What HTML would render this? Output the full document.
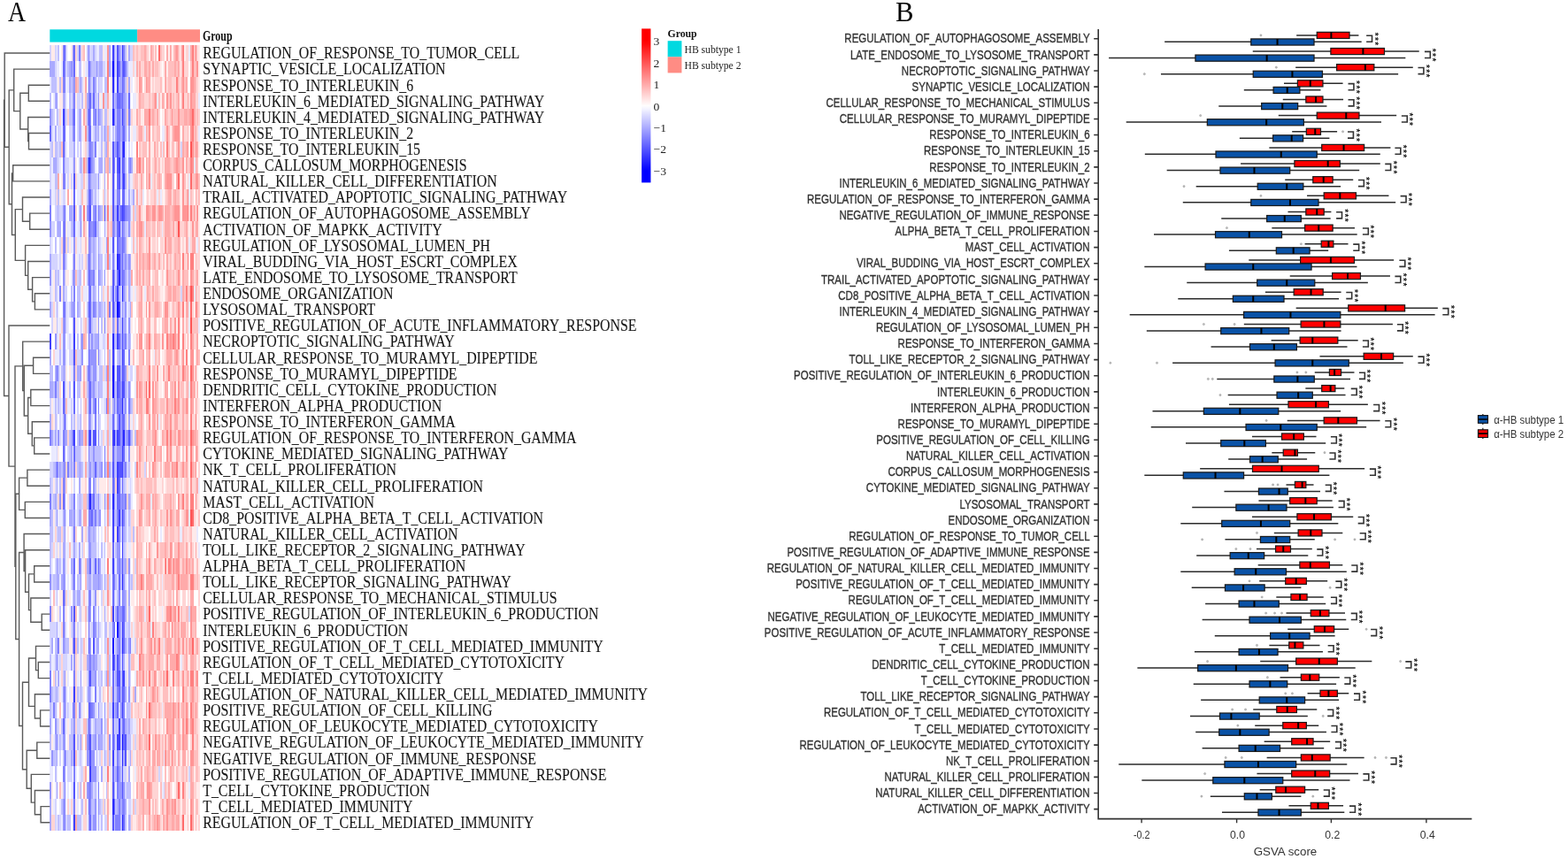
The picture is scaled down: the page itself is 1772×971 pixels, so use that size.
<!DOCTYPE html>
<html><head><meta charset="utf-8"><title>GSVA heatmap and boxplot</title>
<style>html,body{margin:0;padding:0;background:#fff;width:1772px;height:971px;overflow:hidden}svg{display:block}</style>
</head><body>
<svg width="1772" height="971" viewBox="0 0 1772 971">
<defs><linearGradient id="cb" x1="0" y1="0" x2="0" y2="1">
<stop offset="0.000" stop-color="#ff0000"/>
<stop offset="0.025" stop-color="#ff0000"/>
<stop offset="0.050" stop-color="#ff0000"/>
<stop offset="0.075" stop-color="#ff0000"/>
<stop offset="0.100" stop-color="#ff0a0a"/>
<stop offset="0.125" stop-color="#ff1a1a"/>
<stop offset="0.150" stop-color="#ff2929"/>
<stop offset="0.175" stop-color="#ff3838"/>
<stop offset="0.200" stop-color="#ff4747"/>
<stop offset="0.225" stop-color="#ff5656"/>
<stop offset="0.250" stop-color="#ff6666"/>
<stop offset="0.275" stop-color="#ff7575"/>
<stop offset="0.300" stop-color="#ff8484"/>
<stop offset="0.325" stop-color="#ff9393"/>
<stop offset="0.350" stop-color="#ffa2a2"/>
<stop offset="0.375" stop-color="#ffb1b1"/>
<stop offset="0.400" stop-color="#ffc1c1"/>
<stop offset="0.425" stop-color="#ffd0d0"/>
<stop offset="0.450" stop-color="#ffdfdf"/>
<stop offset="0.475" stop-color="#ffeeee"/>
<stop offset="0.500" stop-color="#fffdfd"/>
<stop offset="0.525" stop-color="#f2f2ff"/>
<stop offset="0.550" stop-color="#e2e2ff"/>
<stop offset="0.575" stop-color="#d3d3ff"/>
<stop offset="0.600" stop-color="#c4c4ff"/>
<stop offset="0.625" stop-color="#b5b5ff"/>
<stop offset="0.650" stop-color="#a6a6ff"/>
<stop offset="0.675" stop-color="#9797ff"/>
<stop offset="0.700" stop-color="#8787ff"/>
<stop offset="0.725" stop-color="#7878ff"/>
<stop offset="0.750" stop-color="#6969ff"/>
<stop offset="0.775" stop-color="#5a5aff"/>
<stop offset="0.800" stop-color="#4b4bff"/>
<stop offset="0.825" stop-color="#3b3bff"/>
<stop offset="0.850" stop-color="#2c2cff"/>
<stop offset="0.875" stop-color="#1d1dff"/>
<stop offset="0.900" stop-color="#0e0eff"/>
<stop offset="0.925" stop-color="#0000ff"/>
<stop offset="0.950" stop-color="#0000ff"/>
<stop offset="0.975" stop-color="#0000ff"/>
<stop offset="1.000" stop-color="#0000ff"/>
</linearGradient></defs>
<rect width="1772" height="971" fill="#fff"/>
<text transform="translate(9,23.7) scale(0.87,1)" font-family="'Liberation Serif','Times New Roman',serif" font-size="32" fill="#000">A</text>
<text transform="translate(1012,23.9) scale(0.96,1)" font-family="'Liberation Serif','Times New Roman',serif" font-size="32" fill="#000">B</text>
<rect x="56.3" y="33.3" width="98.8" height="14.3" fill="#00d9e0"/>
<rect x="155.1" y="33.3" width="70.9" height="14.3" fill="#ff8c84"/>
<text x="229" y="45.6" font-family="'Liberation Serif','Times New Roman',serif" font-size="16.6" font-weight="bold" textLength="33.5" lengthAdjust="spacingAndGlyphs" fill="#111">Group</text>
<g shape-rendering="crispEdges">
<path fill="#0000ff" d="M126.71 69.02h1.86v18.17h-1.86zM132.12 340.83h1.86v18.17h-1.86zM126.71 413.31h1.86v18.17h-1.86z"/>
<path fill="#1515ff" d="M99.63 177.74h1.86v18.17h-1.86zM126.71 431.43h1.86v18.17h-1.86zM132.12 703.23h1.86v18.17h-1.86zM126.71 721.36h1.86v18.17h-1.86zM137.54 830.08h1.86v18.17h-1.86z"/>
<path fill="#2a2aff" d="M126.71 87.14h1.86v18.17h-1.86zM126.71 123.38h1.86v18.17h-1.86zM139.34 159.62h1.86v18.17h-1.86zM132.12 286.47h1.86v18.17h-1.86zM133.93 304.59h1.86v18.17h-1.86zM137.54 322.71h1.86v18.17h-1.86zM126.71 377.07h1.86v18.17h-1.86zM137.54 449.55h1.86v18.17h-1.86zM128.51 485.79h1.86v18.17h-1.86zM139.34 485.79h1.86v18.17h-1.86zM101.43 558.27h1.86v18.17h-1.86zM126.71 558.27h1.86v18.17h-1.86zM137.54 648.87h1.86v18.17h-1.86zM137.54 721.36h1.86v18.17h-1.86zM137.54 848.2h1.86v18.17h-1.86zM126.71 902.56h1.86v18.17h-1.86zM137.54 920.68h1.86v18.17h-1.86z"/>
<path fill="#4040ff" d="M126.71 50.9h1.86v18.17h-1.86zM137.54 50.9h1.86v18.17h-1.86zM132.12 69.02h1.86v18.17h-1.86zM132.12 87.14h1.86v18.17h-1.86zM70.74 123.38h1.86v18.17h-1.86zM99.63 123.38h1.86v18.17h-1.86zM137.54 123.38h1.86v18.17h-1.86zM133.93 177.74h1.86v18.17h-1.86zM139.34 195.86h1.86v18.17h-1.86zM132.12 232.1h1.86v18.17h-1.86zM137.54 232.1h1.86v18.17h-1.86zM133.93 286.47h1.86v18.17h-1.86zM132.12 322.71h1.86v18.17h-1.86zM133.93 340.83h1.86v18.17h-1.86zM137.54 358.95h1.86v18.17h-1.86zM56.3 377.07h1.86v18.17h-1.86zM83.38 377.07h1.86v18.17h-1.86zM132.12 377.07h1.86v18.17h-1.86zM126.71 395.19h1.86v18.17h-1.86zM137.54 395.19h1.86v18.17h-1.86zM137.54 431.43h1.86v18.17h-1.86zM72.55 467.67h1.86v18.17h-1.86zM83.38 485.79h1.86v18.17h-1.86zM101.43 485.79h1.86v18.17h-1.86zM126.71 485.79h1.86v18.17h-1.86zM132.12 485.79h1.86v18.17h-1.86zM137.54 503.91h1.86v18.17h-1.86zM132.12 522.03h1.86v18.17h-1.86zM137.54 522.03h1.86v18.17h-1.86zM132.12 540.15h1.86v18.17h-1.86zM126.71 576.39h1.86v18.17h-1.86zM133.93 576.39h1.86v18.17h-1.86zM137.54 576.39h1.86v18.17h-1.86zM126.71 594.51h1.86v18.17h-1.86zM132.12 594.51h1.86v18.17h-1.86zM137.54 612.63h1.86v18.17h-1.86zM126.71 630.75h1.86v18.17h-1.86zM126.71 685.11h1.86v18.17h-1.86zM137.54 703.23h1.86v18.17h-1.86zM126.71 739.48h1.86v18.17h-1.86zM139.34 757.6h1.86v18.17h-1.86zM83.38 775.72h1.86v18.17h-1.86zM126.71 793.84h1.86v18.17h-1.86zM137.54 793.84h1.86v18.17h-1.86zM133.93 811.96h1.86v18.17h-1.86zM132.12 830.08h1.86v18.17h-1.86zM133.93 830.08h1.86v18.17h-1.86zM126.71 848.2h1.86v18.17h-1.86zM101.43 866.32h1.86v18.17h-1.86zM83.38 920.68h1.86v18.17h-1.86z"/>
<path fill="#5555ff" d="M72.55 50.9h1.86v18.17h-1.86zM132.12 50.9h1.86v18.17h-1.86zM99.63 69.02h1.86v18.17h-1.86zM139.34 69.02h1.86v18.17h-1.86zM126.71 159.62h1.86v18.17h-1.86zM132.12 159.62h1.86v18.17h-1.86zM137.54 159.62h1.86v18.17h-1.86zM101.43 177.74h1.86v18.17h-1.86zM126.71 177.74h1.86v18.17h-1.86zM132.12 177.74h1.86v18.17h-1.86zM137.54 177.74h1.86v18.17h-1.86zM83.38 195.86h1.86v18.17h-1.86zM126.71 195.86h1.86v18.17h-1.86zM133.93 195.86h1.86v18.17h-1.86zM126.71 213.98h1.86v18.17h-1.86zM83.38 232.1h1.86v18.17h-1.86zM101.43 232.1h1.86v18.17h-1.86zM117.68 232.1h1.86v18.17h-1.86zM126.71 232.1h1.86v18.17h-1.86zM139.34 232.1h1.86v18.17h-1.86zM133.93 250.22h1.86v18.17h-1.86zM126.71 268.34h1.86v18.17h-1.86zM99.63 286.47h1.86v18.17h-1.86zM99.63 304.59h1.86v18.17h-1.86zM126.71 304.59h1.86v18.17h-1.86zM126.71 322.71h1.86v18.17h-1.86zM99.63 340.83h1.86v18.17h-1.86zM126.71 340.83h1.86v18.17h-1.86zM83.38 358.95h1.86v18.17h-1.86zM137.54 377.07h1.86v18.17h-1.86zM83.38 395.19h1.86v18.17h-1.86zM99.63 413.31h1.86v18.17h-1.86zM132.12 413.31h1.86v18.17h-1.86zM133.93 413.31h1.86v18.17h-1.86zM137.54 413.31h1.86v18.17h-1.86zM70.74 431.43h1.86v18.17h-1.86zM83.38 431.43h1.86v18.17h-1.86zM132.12 431.43h1.86v18.17h-1.86zM139.34 431.43h1.86v18.17h-1.86zM133.93 467.67h1.86v18.17h-1.86zM99.63 485.79h1.86v18.17h-1.86zM105.04 485.79h1.86v18.17h-1.86zM106.85 485.79h1.86v18.17h-1.86zM133.93 485.79h1.86v18.17h-1.86zM144.76 485.79h1.86v18.17h-1.86zM63.52 522.03h1.86v18.17h-1.86zM126.71 522.03h1.86v18.17h-1.86zM133.93 522.03h1.86v18.17h-1.86zM135.73 522.03h1.86v18.17h-1.86zM137.54 594.51h1.86v18.17h-1.86zM137.54 630.75h1.86v18.17h-1.86zM83.38 685.11h1.86v18.17h-1.86zM83.38 721.36h1.86v18.17h-1.86zM99.63 721.36h1.86v18.17h-1.86zM105.04 721.36h1.86v18.17h-1.86zM132.12 739.48h1.86v18.17h-1.86zM137.54 739.48h1.86v18.17h-1.86zM101.43 757.6h1.86v18.17h-1.86zM132.12 757.6h1.86v18.17h-1.86zM133.93 757.6h1.86v18.17h-1.86zM137.54 757.6h1.86v18.17h-1.86zM137.54 775.72h1.86v18.17h-1.86zM99.63 793.84h1.86v18.17h-1.86zM99.63 811.96h1.86v18.17h-1.86zM83.38 830.08h1.86v18.17h-1.86zM101.43 830.08h1.86v18.17h-1.86zM141.15 830.08h1.86v18.17h-1.86zM72.55 848.2h1.86v18.17h-1.86zM83.38 848.2h1.86v18.17h-1.86zM101.43 848.2h1.86v18.17h-1.86zM141.15 848.2h1.86v18.17h-1.86zM137.54 866.32h1.86v18.17h-1.86zM83.38 884.44h1.86v18.17h-1.86zM126.71 884.44h1.86v18.17h-1.86zM137.54 884.44h1.86v18.17h-1.86zM126.71 920.68h1.86v18.17h-1.86z"/>
<path fill="#6a6aff" d="M83.38 50.9h1.86v18.17h-1.86zM70.74 69.02h1.86v18.17h-1.86zM83.38 69.02h1.86v18.17h-1.86zM133.93 69.02h1.86v18.17h-1.86zM137.54 69.02h1.86v18.17h-1.86zM99.63 87.14h1.86v18.17h-1.86zM137.54 87.14h1.86v18.17h-1.86zM101.43 105.26h1.86v18.17h-1.86zM105.04 105.26h1.86v18.17h-1.86zM126.71 105.26h1.86v18.17h-1.86zM132.12 105.26h1.86v18.17h-1.86zM133.93 105.26h1.86v18.17h-1.86zM137.54 105.26h1.86v18.17h-1.86zM144.76 105.26h1.86v18.17h-1.86zM83.38 123.38h1.86v18.17h-1.86zM56.3 141.5h1.86v18.17h-1.86zM70.74 141.5h1.86v18.17h-1.86zM72.55 141.5h1.86v18.17h-1.86zM99.63 141.5h1.86v18.17h-1.86zM101.43 141.5h1.86v18.17h-1.86zM139.34 141.5h1.86v18.17h-1.86zM70.74 159.62h1.86v18.17h-1.86zM139.34 177.74h1.86v18.17h-1.86zM99.63 195.86h1.86v18.17h-1.86zM132.12 195.86h1.86v18.17h-1.86zM137.54 195.86h1.86v18.17h-1.86zM83.38 213.98h1.86v18.17h-1.86zM99.63 213.98h1.86v18.17h-1.86zM101.43 213.98h1.86v18.17h-1.86zM137.54 213.98h1.86v18.17h-1.86zM139.34 213.98h1.86v18.17h-1.86zM72.55 232.1h1.86v18.17h-1.86zM99.63 232.1h1.86v18.17h-1.86zM135.73 232.1h1.86v18.17h-1.86zM72.55 250.22h1.86v18.17h-1.86zM83.38 250.22h1.86v18.17h-1.86zM99.63 250.22h1.86v18.17h-1.86zM106.85 250.22h1.86v18.17h-1.86zM132.12 250.22h1.86v18.17h-1.86zM137.54 250.22h1.86v18.17h-1.86zM72.55 268.34h1.86v18.17h-1.86zM132.12 268.34h1.86v18.17h-1.86zM137.54 268.34h1.86v18.17h-1.86zM137.54 286.47h1.86v18.17h-1.86zM132.12 304.59h1.86v18.17h-1.86zM137.54 304.59h1.86v18.17h-1.86zM101.43 322.71h1.86v18.17h-1.86zM72.55 340.83h1.86v18.17h-1.86zM101.43 340.83h1.86v18.17h-1.86zM101.43 358.95h1.86v18.17h-1.86zM132.12 358.95h1.86v18.17h-1.86zM99.63 377.07h1.86v18.17h-1.86zM133.93 377.07h1.86v18.17h-1.86zM99.63 395.19h1.86v18.17h-1.86zM139.34 395.19h1.86v18.17h-1.86zM63.52 413.31h1.86v18.17h-1.86zM139.34 413.31h1.86v18.17h-1.86zM101.43 431.43h1.86v18.17h-1.86zM133.93 431.43h1.86v18.17h-1.86zM70.74 449.55h1.86v18.17h-1.86zM83.38 449.55h1.86v18.17h-1.86zM101.43 449.55h1.86v18.17h-1.86zM106.85 449.55h1.86v18.17h-1.86zM132.12 449.55h1.86v18.17h-1.86zM126.71 467.67h1.86v18.17h-1.86zM137.54 467.67h1.86v18.17h-1.86zM139.34 467.67h1.86v18.17h-1.86zM81.57 485.79h1.86v18.17h-1.86zM137.54 485.79h1.86v18.17h-1.86zM70.74 503.91h1.86v18.17h-1.86zM83.38 503.91h1.86v18.17h-1.86zM126.71 503.91h1.86v18.17h-1.86zM139.34 503.91h1.86v18.17h-1.86zM106.85 522.03h1.86v18.17h-1.86zM126.71 540.15h1.86v18.17h-1.86zM133.93 540.15h1.86v18.17h-1.86zM137.54 540.15h1.86v18.17h-1.86zM70.74 558.27h1.86v18.17h-1.86zM99.63 558.27h1.86v18.17h-1.86zM105.04 558.27h1.86v18.17h-1.86zM132.12 558.27h1.86v18.17h-1.86zM133.93 558.27h1.86v18.17h-1.86zM103.24 576.39h1.86v18.17h-1.86zM126.71 612.63h1.86v18.17h-1.86zM83.38 630.75h1.86v18.17h-1.86zM101.43 630.75h1.86v18.17h-1.86zM106.85 630.75h1.86v18.17h-1.86zM110.46 630.75h1.86v18.17h-1.86zM126.71 648.87h1.86v18.17h-1.86zM133.93 648.87h1.86v18.17h-1.86zM70.74 666.99h1.86v18.17h-1.86zM126.71 666.99h1.86v18.17h-1.86zM99.63 685.11h1.86v18.17h-1.86zM132.12 685.11h1.86v18.17h-1.86zM137.54 685.11h1.86v18.17h-1.86zM139.34 685.11h1.86v18.17h-1.86zM99.63 703.23h1.86v18.17h-1.86zM128.51 703.23h1.86v18.17h-1.86zM139.34 703.23h1.86v18.17h-1.86zM139.34 721.36h1.86v18.17h-1.86zM128.51 739.48h1.86v18.17h-1.86zM126.71 757.6h1.86v18.17h-1.86zM72.55 775.72h1.86v18.17h-1.86zM126.71 775.72h1.86v18.17h-1.86zM133.93 775.72h1.86v18.17h-1.86zM139.34 775.72h1.86v18.17h-1.86zM72.55 793.84h1.86v18.17h-1.86zM101.43 793.84h1.86v18.17h-1.86zM132.12 793.84h1.86v18.17h-1.86zM70.74 811.96h1.86v18.17h-1.86zM126.71 811.96h1.86v18.17h-1.86zM139.34 811.96h1.86v18.17h-1.86zM99.63 830.08h1.86v18.17h-1.86zM126.71 830.08h1.86v18.17h-1.86zM139.34 830.08h1.86v18.17h-1.86zM126.71 866.32h1.86v18.17h-1.86zM132.12 866.32h1.86v18.17h-1.86zM99.63 902.56h1.86v18.17h-1.86zM128.51 902.56h1.86v18.17h-1.86zM101.43 920.68h1.86v18.17h-1.86zM139.34 920.68h1.86v18.17h-1.86z"/>
<path fill="#8080ff" d="M70.74 50.9h1.86v18.17h-1.86zM88.8 50.9h1.86v18.17h-1.86zM99.63 50.9h1.86v18.17h-1.86zM139.34 50.9h1.86v18.17h-1.86zM72.55 69.02h1.86v18.17h-1.86zM141.15 69.02h1.86v18.17h-1.86zM70.74 87.14h1.86v18.17h-1.86zM72.55 87.14h1.86v18.17h-1.86zM105.04 87.14h1.86v18.17h-1.86zM139.34 87.14h1.86v18.17h-1.86zM83.38 105.26h1.86v18.17h-1.86zM99.63 105.26h1.86v18.17h-1.86zM135.73 105.26h1.86v18.17h-1.86zM81.57 123.38h1.86v18.17h-1.86zM101.43 123.38h1.86v18.17h-1.86zM106.85 123.38h1.86v18.17h-1.86zM110.46 123.38h1.86v18.17h-1.86zM128.51 123.38h1.86v18.17h-1.86zM132.12 123.38h1.86v18.17h-1.86zM133.93 123.38h1.86v18.17h-1.86zM139.34 123.38h1.86v18.17h-1.86zM144.76 123.38h1.86v18.17h-1.86zM83.38 141.5h1.86v18.17h-1.86zM132.12 141.5h1.86v18.17h-1.86zM133.93 141.5h1.86v18.17h-1.86zM137.54 141.5h1.86v18.17h-1.86zM101.43 159.62h1.86v18.17h-1.86zM106.85 159.62h1.86v18.17h-1.86zM133.93 159.62h1.86v18.17h-1.86zM70.74 177.74h1.86v18.17h-1.86zM128.51 177.74h1.86v18.17h-1.86zM146.57 177.74h1.86v18.17h-1.86zM70.74 195.86h1.86v18.17h-1.86zM72.55 195.86h1.86v18.17h-1.86zM132.12 213.98h1.86v18.17h-1.86zM133.93 213.98h1.86v18.17h-1.86zM56.3 232.1h1.86v18.17h-1.86zM106.85 232.1h1.86v18.17h-1.86zM110.46 232.1h1.86v18.17h-1.86zM141.15 232.1h1.86v18.17h-1.86zM70.74 250.22h1.86v18.17h-1.86zM90.6 250.22h1.86v18.17h-1.86zM101.43 250.22h1.86v18.17h-1.86zM105.04 250.22h1.86v18.17h-1.86zM126.71 250.22h1.86v18.17h-1.86zM70.74 268.34h1.86v18.17h-1.86zM99.63 268.34h1.86v18.17h-1.86zM133.93 268.34h1.86v18.17h-1.86zM139.34 268.34h1.86v18.17h-1.86zM70.74 286.47h1.86v18.17h-1.86zM83.38 286.47h1.86v18.17h-1.86zM126.71 286.47h1.86v18.17h-1.86zM101.43 304.59h1.86v18.17h-1.86zM105.04 304.59h1.86v18.17h-1.86zM110.46 304.59h1.86v18.17h-1.86zM139.34 304.59h1.86v18.17h-1.86zM67.13 322.71h1.86v18.17h-1.86zM83.38 322.71h1.86v18.17h-1.86zM99.63 322.71h1.86v18.17h-1.86zM70.74 340.83h1.86v18.17h-1.86zM105.04 340.83h1.86v18.17h-1.86zM123.1 340.83h1.86v18.17h-1.86zM72.55 358.95h1.86v18.17h-1.86zM99.63 358.95h1.86v18.17h-1.86zM117.68 358.95h1.86v18.17h-1.86zM141.15 377.07h1.86v18.17h-1.86zM110.46 395.19h1.86v18.17h-1.86zM144.76 395.19h1.86v18.17h-1.86zM83.38 413.31h1.86v18.17h-1.86zM61.72 431.43h1.86v18.17h-1.86zM99.63 431.43h1.86v18.17h-1.86zM99.63 449.55h1.86v18.17h-1.86zM110.46 449.55h1.86v18.17h-1.86zM119.49 449.55h1.86v18.17h-1.86zM128.51 449.55h1.86v18.17h-1.86zM133.93 449.55h1.86v18.17h-1.86zM135.73 449.55h1.86v18.17h-1.86zM144.76 449.55h1.86v18.17h-1.86zM99.63 467.67h1.86v18.17h-1.86zM106.85 467.67h1.86v18.17h-1.86zM56.3 485.79h1.86v18.17h-1.86zM70.74 485.79h1.86v18.17h-1.86zM110.46 485.79h1.86v18.17h-1.86zM99.63 503.91h1.86v18.17h-1.86zM117.68 503.91h1.86v18.17h-1.86zM72.55 522.03h1.86v18.17h-1.86zM76.16 522.03h1.86v18.17h-1.86zM83.38 522.03h1.86v18.17h-1.86zM117.68 522.03h1.86v18.17h-1.86zM141.15 522.03h1.86v18.17h-1.86zM70.74 540.15h1.86v18.17h-1.86zM99.63 540.15h1.86v18.17h-1.86zM101.43 540.15h1.86v18.17h-1.86zM56.3 558.27h1.86v18.17h-1.86zM83.38 558.27h1.86v18.17h-1.86zM137.54 558.27h1.86v18.17h-1.86zM141.15 558.27h1.86v18.17h-1.86zM72.55 576.39h1.86v18.17h-1.86zM99.63 576.39h1.86v18.17h-1.86zM101.43 576.39h1.86v18.17h-1.86zM106.85 576.39h1.86v18.17h-1.86zM132.12 576.39h1.86v18.17h-1.86zM139.34 576.39h1.86v18.17h-1.86zM83.38 594.51h1.86v18.17h-1.86zM99.63 594.51h1.86v18.17h-1.86zM133.93 594.51h1.86v18.17h-1.86zM88.8 630.75h1.86v18.17h-1.86zM133.93 630.75h1.86v18.17h-1.86zM83.38 648.87h1.86v18.17h-1.86zM128.51 648.87h1.86v18.17h-1.86zM99.63 666.99h1.86v18.17h-1.86zM101.43 666.99h1.86v18.17h-1.86zM133.93 666.99h1.86v18.17h-1.86zM137.54 666.99h1.86v18.17h-1.86zM56.3 685.11h1.86v18.17h-1.86zM70.74 685.11h1.86v18.17h-1.86zM105.04 685.11h1.86v18.17h-1.86zM70.74 703.23h1.86v18.17h-1.86zM83.38 703.23h1.86v18.17h-1.86zM105.04 703.23h1.86v18.17h-1.86zM126.71 703.23h1.86v18.17h-1.86zM133.93 703.23h1.86v18.17h-1.86zM65.33 721.36h1.86v18.17h-1.86zM133.93 721.36h1.86v18.17h-1.86zM146.57 721.36h1.86v18.17h-1.86zM63.52 739.48h1.86v18.17h-1.86zM101.43 739.48h1.86v18.17h-1.86zM133.93 739.48h1.86v18.17h-1.86zM56.3 757.6h1.86v18.17h-1.86zM83.38 757.6h1.86v18.17h-1.86zM99.63 757.6h1.86v18.17h-1.86zM56.3 775.72h1.86v18.17h-1.86zM99.63 775.72h1.86v18.17h-1.86zM106.85 775.72h1.86v18.17h-1.86zM132.12 775.72h1.86v18.17h-1.86zM59.91 793.84h1.86v18.17h-1.86zM81.57 793.84h1.86v18.17h-1.86zM83.38 793.84h1.86v18.17h-1.86zM103.24 793.84h1.86v18.17h-1.86zM139.34 793.84h1.86v18.17h-1.86zM137.54 811.96h1.86v18.17h-1.86zM63.52 830.08h1.86v18.17h-1.86zM132.12 848.2h1.86v18.17h-1.86zM70.74 866.32h1.86v18.17h-1.86zM83.38 866.32h1.86v18.17h-1.86zM72.55 884.44h1.86v18.17h-1.86zM99.63 884.44h1.86v18.17h-1.86zM101.43 884.44h1.86v18.17h-1.86zM110.46 884.44h1.86v18.17h-1.86zM132.12 884.44h1.86v18.17h-1.86zM72.55 902.56h1.86v18.17h-1.86zM83.38 902.56h1.86v18.17h-1.86zM101.43 902.56h1.86v18.17h-1.86zM133.93 902.56h1.86v18.17h-1.86zM137.54 902.56h1.86v18.17h-1.86zM139.34 902.56h1.86v18.17h-1.86zM72.55 920.68h1.86v18.17h-1.86zM130.32 920.68h1.86v18.17h-1.86zM132.12 920.68h1.86v18.17h-1.86zM133.93 920.68h1.86v18.17h-1.86z"/>
<path fill="#9595ff" d="M81.57 50.9h1.86v18.17h-1.86zM133.93 50.9h1.86v18.17h-1.86zM79.77 69.02h1.86v18.17h-1.86zM101.43 69.02h1.86v18.17h-1.86zM108.65 69.02h1.86v18.17h-1.86zM83.38 87.14h1.86v18.17h-1.86zM90.6 87.14h1.86v18.17h-1.86zM63.52 105.26h1.86v18.17h-1.86zM110.46 105.26h1.86v18.17h-1.86zM139.34 105.26h1.86v18.17h-1.86zM56.3 123.38h1.86v18.17h-1.86zM72.55 123.38h1.86v18.17h-1.86zM105.04 123.38h1.86v18.17h-1.86zM81.57 141.5h1.86v18.17h-1.86zM117.68 141.5h1.86v18.17h-1.86zM99.63 159.62h1.86v18.17h-1.86zM103.24 159.62h1.86v18.17h-1.86zM130.32 159.62h1.86v18.17h-1.86zM83.38 177.74h1.86v18.17h-1.86zM90.6 177.74h1.86v18.17h-1.86zM103.24 177.74h1.86v18.17h-1.86zM144.76 177.74h1.86v18.17h-1.86zM101.43 195.86h1.86v18.17h-1.86zM110.46 195.86h1.86v18.17h-1.86zM70.74 232.1h1.86v18.17h-1.86zM90.6 232.1h1.86v18.17h-1.86zM97.82 232.1h1.86v18.17h-1.86zM105.04 232.1h1.86v18.17h-1.86zM133.93 232.1h1.86v18.17h-1.86zM142.96 232.1h1.86v18.17h-1.86zM144.76 232.1h1.86v18.17h-1.86zM56.3 250.22h1.86v18.17h-1.86zM103.24 250.22h1.86v18.17h-1.86zM128.51 250.22h1.86v18.17h-1.86zM139.34 250.22h1.86v18.17h-1.86zM144.76 250.22h1.86v18.17h-1.86zM83.38 268.34h1.86v18.17h-1.86zM101.43 268.34h1.86v18.17h-1.86zM135.73 268.34h1.86v18.17h-1.86zM72.55 286.47h1.86v18.17h-1.86zM101.43 286.47h1.86v18.17h-1.86zM110.46 286.47h1.86v18.17h-1.86zM135.73 286.47h1.86v18.17h-1.86zM141.15 286.47h1.86v18.17h-1.86zM144.76 286.47h1.86v18.17h-1.86zM56.3 304.59h1.86v18.17h-1.86zM70.74 304.59h1.86v18.17h-1.86zM81.57 304.59h1.86v18.17h-1.86zM83.38 304.59h1.86v18.17h-1.86zM103.24 304.59h1.86v18.17h-1.86zM117.68 304.59h1.86v18.17h-1.86zM128.51 304.59h1.86v18.17h-1.86zM135.73 304.59h1.86v18.17h-1.86zM110.46 322.71h1.86v18.17h-1.86zM130.32 322.71h1.86v18.17h-1.86zM139.34 322.71h1.86v18.17h-1.86zM81.57 340.83h1.86v18.17h-1.86zM83.38 340.83h1.86v18.17h-1.86zM106.85 340.83h1.86v18.17h-1.86zM128.51 340.83h1.86v18.17h-1.86zM137.54 340.83h1.86v18.17h-1.86zM141.15 340.83h1.86v18.17h-1.86zM70.74 358.95h1.86v18.17h-1.86zM110.46 358.95h1.86v18.17h-1.86zM126.71 358.95h1.86v18.17h-1.86zM144.76 358.95h1.86v18.17h-1.86zM61.72 377.07h1.86v18.17h-1.86zM70.74 377.07h1.86v18.17h-1.86zM72.55 377.07h1.86v18.17h-1.86zM92.41 377.07h1.86v18.17h-1.86zM103.24 377.07h1.86v18.17h-1.86zM110.46 377.07h1.86v18.17h-1.86zM139.34 377.07h1.86v18.17h-1.86zM70.74 395.19h1.86v18.17h-1.86zM72.55 395.19h1.86v18.17h-1.86zM92.41 395.19h1.86v18.17h-1.86zM101.43 395.19h1.86v18.17h-1.86zM103.24 395.19h1.86v18.17h-1.86zM105.04 395.19h1.86v18.17h-1.86zM106.85 395.19h1.86v18.17h-1.86zM90.6 413.31h1.86v18.17h-1.86zM101.43 413.31h1.86v18.17h-1.86zM105.04 413.31h1.86v18.17h-1.86zM106.85 413.31h1.86v18.17h-1.86zM128.51 413.31h1.86v18.17h-1.86zM141.15 413.31h1.86v18.17h-1.86zM105.04 431.43h1.86v18.17h-1.86zM128.51 431.43h1.86v18.17h-1.86zM135.73 431.43h1.86v18.17h-1.86zM144.76 431.43h1.86v18.17h-1.86zM72.55 449.55h1.86v18.17h-1.86zM105.04 449.55h1.86v18.17h-1.86zM141.15 449.55h1.86v18.17h-1.86zM101.43 467.67h1.86v18.17h-1.86zM132.12 467.67h1.86v18.17h-1.86zM135.73 467.67h1.86v18.17h-1.86zM65.33 485.79h1.86v18.17h-1.86zM72.55 485.79h1.86v18.17h-1.86zM88.8 485.79h1.86v18.17h-1.86zM135.73 485.79h1.86v18.17h-1.86zM142.96 485.79h1.86v18.17h-1.86zM146.57 485.79h1.86v18.17h-1.86zM105.04 503.91h1.86v18.17h-1.86zM132.12 503.91h1.86v18.17h-1.86zM133.93 503.91h1.86v18.17h-1.86zM135.73 503.91h1.86v18.17h-1.86zM144.76 503.91h1.86v18.17h-1.86zM70.74 522.03h1.86v18.17h-1.86zM101.43 522.03h1.86v18.17h-1.86zM114.07 522.03h1.86v18.17h-1.86zM139.34 522.03h1.86v18.17h-1.86zM72.55 540.15h1.86v18.17h-1.86zM105.04 540.15h1.86v18.17h-1.86zM128.51 540.15h1.86v18.17h-1.86zM67.13 558.27h1.86v18.17h-1.86zM72.55 558.27h1.86v18.17h-1.86zM103.24 558.27h1.86v18.17h-1.86zM110.46 558.27h1.86v18.17h-1.86zM117.68 558.27h1.86v18.17h-1.86zM128.51 558.27h1.86v18.17h-1.86zM135.73 558.27h1.86v18.17h-1.86zM139.34 558.27h1.86v18.17h-1.86zM63.52 576.39h1.86v18.17h-1.86zM83.38 576.39h1.86v18.17h-1.86zM112.26 576.39h1.86v18.17h-1.86zM72.55 594.51h1.86v18.17h-1.86zM99.63 612.63h1.86v18.17h-1.86zM101.43 612.63h1.86v18.17h-1.86zM132.12 612.63h1.86v18.17h-1.86zM133.93 612.63h1.86v18.17h-1.86zM63.52 630.75h1.86v18.17h-1.86zM70.74 630.75h1.86v18.17h-1.86zM90.6 630.75h1.86v18.17h-1.86zM99.63 630.75h1.86v18.17h-1.86zM132.12 630.75h1.86v18.17h-1.86zM144.76 630.75h1.86v18.17h-1.86zM56.3 648.87h1.86v18.17h-1.86zM70.74 648.87h1.86v18.17h-1.86zM72.55 648.87h1.86v18.17h-1.86zM81.57 648.87h1.86v18.17h-1.86zM90.6 648.87h1.86v18.17h-1.86zM110.46 648.87h1.86v18.17h-1.86zM139.34 648.87h1.86v18.17h-1.86zM72.55 666.99h1.86v18.17h-1.86zM106.85 666.99h1.86v18.17h-1.86zM139.34 666.99h1.86v18.17h-1.86zM79.77 685.11h1.86v18.17h-1.86zM101.43 685.11h1.86v18.17h-1.86zM133.93 685.11h1.86v18.17h-1.86zM135.73 685.11h1.86v18.17h-1.86zM106.85 703.23h1.86v18.17h-1.86zM70.74 721.36h1.86v18.17h-1.86zM81.57 721.36h1.86v18.17h-1.86zM101.43 721.36h1.86v18.17h-1.86zM132.12 721.36h1.86v18.17h-1.86zM144.76 721.36h1.86v18.17h-1.86zM83.38 739.48h1.86v18.17h-1.86zM99.63 739.48h1.86v18.17h-1.86zM105.04 739.48h1.86v18.17h-1.86zM72.55 757.6h1.86v18.17h-1.86zM90.6 757.6h1.86v18.17h-1.86zM106.85 757.6h1.86v18.17h-1.86zM70.74 775.72h1.86v18.17h-1.86zM144.76 775.72h1.86v18.17h-1.86zM88.8 793.84h1.86v18.17h-1.86zM105.04 793.84h1.86v18.17h-1.86zM110.46 793.84h1.86v18.17h-1.86zM117.68 793.84h1.86v18.17h-1.86zM130.32 793.84h1.86v18.17h-1.86zM135.73 793.84h1.86v18.17h-1.86zM61.72 811.96h1.86v18.17h-1.86zM83.38 811.96h1.86v18.17h-1.86zM101.43 811.96h1.86v18.17h-1.86zM114.07 811.96h1.86v18.17h-1.86zM70.74 830.08h1.86v18.17h-1.86zM72.55 830.08h1.86v18.17h-1.86zM90.6 830.08h1.86v18.17h-1.86zM97.82 830.08h1.86v18.17h-1.86zM106.85 830.08h1.86v18.17h-1.86zM110.46 830.08h1.86v18.17h-1.86zM123.1 830.08h1.86v18.17h-1.86zM128.51 830.08h1.86v18.17h-1.86zM58.11 848.2h1.86v18.17h-1.86zM97.82 848.2h1.86v18.17h-1.86zM99.63 848.2h1.86v18.17h-1.86zM103.24 848.2h1.86v18.17h-1.86zM105.04 848.2h1.86v18.17h-1.86zM72.55 866.32h1.86v18.17h-1.86zM103.24 866.32h1.86v18.17h-1.86zM105.04 866.32h1.86v18.17h-1.86zM106.85 866.32h1.86v18.17h-1.86zM133.93 866.32h1.86v18.17h-1.86zM56.3 884.44h1.86v18.17h-1.86zM63.52 884.44h1.86v18.17h-1.86zM97.82 884.44h1.86v18.17h-1.86zM133.93 884.44h1.86v18.17h-1.86zM135.73 884.44h1.86v18.17h-1.86zM139.34 884.44h1.86v18.17h-1.86zM70.74 902.56h1.86v18.17h-1.86zM106.85 902.56h1.86v18.17h-1.86zM110.46 902.56h1.86v18.17h-1.86zM70.74 920.68h1.86v18.17h-1.86zM99.63 920.68h1.86v18.17h-1.86zM105.04 920.68h1.86v18.17h-1.86zM106.85 920.68h1.86v18.17h-1.86z"/>
<path fill="#aaaaff" d="M105.04 50.9h1.86v18.17h-1.86zM123.1 50.9h1.86v18.17h-1.86zM128.51 50.9h1.86v18.17h-1.86zM144.76 50.9h1.86v18.17h-1.86zM56.3 69.02h1.86v18.17h-1.86zM58.11 69.02h1.86v18.17h-1.86zM59.91 69.02h1.86v18.17h-1.86zM77.96 69.02h1.86v18.17h-1.86zM81.57 69.02h1.86v18.17h-1.86zM112.26 69.02h1.86v18.17h-1.86zM114.07 69.02h1.86v18.17h-1.86zM123.1 69.02h1.86v18.17h-1.86zM128.51 69.02h1.86v18.17h-1.86zM135.73 69.02h1.86v18.17h-1.86zM77.96 87.14h1.86v18.17h-1.86zM81.57 87.14h1.86v18.17h-1.86zM101.43 87.14h1.86v18.17h-1.86zM106.85 87.14h1.86v18.17h-1.86zM133.93 87.14h1.86v18.17h-1.86zM135.73 87.14h1.86v18.17h-1.86zM144.76 87.14h1.86v18.17h-1.86zM61.72 105.26h1.86v18.17h-1.86zM70.74 105.26h1.86v18.17h-1.86zM72.55 105.26h1.86v18.17h-1.86zM81.57 105.26h1.86v18.17h-1.86zM97.82 105.26h1.86v18.17h-1.86zM130.32 105.26h1.86v18.17h-1.86zM141.15 105.26h1.86v18.17h-1.86zM63.52 123.38h1.86v18.17h-1.86zM88.8 123.38h1.86v18.17h-1.86zM90.6 123.38h1.86v18.17h-1.86zM97.82 123.38h1.86v18.17h-1.86zM112.26 123.38h1.86v18.17h-1.86zM135.73 123.38h1.86v18.17h-1.86zM141.15 123.38h1.86v18.17h-1.86zM61.72 141.5h1.86v18.17h-1.86zM88.8 141.5h1.86v18.17h-1.86zM90.6 141.5h1.86v18.17h-1.86zM106.85 141.5h1.86v18.17h-1.86zM110.46 141.5h1.86v18.17h-1.86zM130.32 141.5h1.86v18.17h-1.86zM135.73 141.5h1.86v18.17h-1.86zM141.15 141.5h1.86v18.17h-1.86zM144.76 141.5h1.86v18.17h-1.86zM72.55 159.62h1.86v18.17h-1.86zM83.38 159.62h1.86v18.17h-1.86zM90.6 159.62h1.86v18.17h-1.86zM119.49 159.62h1.86v18.17h-1.86zM128.51 159.62h1.86v18.17h-1.86zM59.91 177.74h1.86v18.17h-1.86zM61.72 177.74h1.86v18.17h-1.86zM97.82 177.74h1.86v18.17h-1.86zM105.04 177.74h1.86v18.17h-1.86zM112.26 177.74h1.86v18.17h-1.86zM114.07 177.74h1.86v18.17h-1.86zM117.68 177.74h1.86v18.17h-1.86zM148.37 177.74h1.86v18.17h-1.86zM117.68 195.86h1.86v18.17h-1.86zM141.15 195.86h1.86v18.17h-1.86zM56.3 213.98h1.86v18.17h-1.86zM103.24 213.98h1.86v18.17h-1.86zM144.76 213.98h1.86v18.17h-1.86zM150.18 213.98h1.86v18.17h-1.86zM77.96 232.1h1.86v18.17h-1.86zM79.77 232.1h1.86v18.17h-1.86zM112.26 232.1h1.86v18.17h-1.86zM128.51 232.1h1.86v18.17h-1.86zM130.32 232.1h1.86v18.17h-1.86zM65.33 250.22h1.86v18.17h-1.86zM67.13 250.22h1.86v18.17h-1.86zM81.57 250.22h1.86v18.17h-1.86zM117.68 250.22h1.86v18.17h-1.86zM105.04 268.34h1.86v18.17h-1.86zM110.46 268.34h1.86v18.17h-1.86zM119.49 268.34h1.86v18.17h-1.86zM141.15 268.34h1.86v18.17h-1.86zM56.3 286.47h1.86v18.17h-1.86zM105.04 286.47h1.86v18.17h-1.86zM139.34 286.47h1.86v18.17h-1.86zM146.57 286.47h1.86v18.17h-1.86zM112.26 304.59h1.86v18.17h-1.86zM141.15 304.59h1.86v18.17h-1.86zM144.76 304.59h1.86v18.17h-1.86zM70.74 322.71h1.86v18.17h-1.86zM105.04 322.71h1.86v18.17h-1.86zM133.93 322.71h1.86v18.17h-1.86zM144.76 322.71h1.86v18.17h-1.86zM56.3 340.83h1.86v18.17h-1.86zM63.52 340.83h1.86v18.17h-1.86zM79.77 340.83h1.86v18.17h-1.86zM86.99 340.83h1.86v18.17h-1.86zM110.46 340.83h1.86v18.17h-1.86zM112.26 340.83h1.86v18.17h-1.86zM117.68 340.83h1.86v18.17h-1.86zM146.57 340.83h1.86v18.17h-1.86zM139.34 358.95h1.86v18.17h-1.86zM141.15 358.95h1.86v18.17h-1.86zM90.6 377.07h1.86v18.17h-1.86zM106.85 377.07h1.86v18.17h-1.86zM108.65 377.07h1.86v18.17h-1.86zM128.51 377.07h1.86v18.17h-1.86zM135.73 377.07h1.86v18.17h-1.86zM144.76 377.07h1.86v18.17h-1.86zM56.3 395.19h1.86v18.17h-1.86zM128.51 395.19h1.86v18.17h-1.86zM133.93 395.19h1.86v18.17h-1.86zM61.72 413.31h1.86v18.17h-1.86zM65.33 413.31h1.86v18.17h-1.86zM70.74 413.31h1.86v18.17h-1.86zM72.55 413.31h1.86v18.17h-1.86zM86.99 413.31h1.86v18.17h-1.86zM88.8 413.31h1.86v18.17h-1.86zM97.82 413.31h1.86v18.17h-1.86zM119.49 413.31h1.86v18.17h-1.86zM135.73 413.31h1.86v18.17h-1.86zM56.3 431.43h1.86v18.17h-1.86zM58.11 431.43h1.86v18.17h-1.86zM72.55 431.43h1.86v18.17h-1.86zM103.24 431.43h1.86v18.17h-1.86zM110.46 431.43h1.86v18.17h-1.86zM141.15 431.43h1.86v18.17h-1.86zM126.71 449.55h1.86v18.17h-1.86zM139.34 449.55h1.86v18.17h-1.86zM146.57 449.55h1.86v18.17h-1.86zM56.3 467.67h1.86v18.17h-1.86zM70.74 467.67h1.86v18.17h-1.86zM90.6 467.67h1.86v18.17h-1.86zM110.46 467.67h1.86v18.17h-1.86zM128.51 467.67h1.86v18.17h-1.86zM144.76 467.67h1.86v18.17h-1.86zM58.11 485.79h1.86v18.17h-1.86zM61.72 485.79h1.86v18.17h-1.86zM74.35 485.79h1.86v18.17h-1.86zM79.77 485.79h1.86v18.17h-1.86zM90.6 485.79h1.86v18.17h-1.86zM92.41 485.79h1.86v18.17h-1.86zM130.32 485.79h1.86v18.17h-1.86zM141.15 485.79h1.86v18.17h-1.86zM72.55 503.91h1.86v18.17h-1.86zM79.77 503.91h1.86v18.17h-1.86zM128.51 503.91h1.86v18.17h-1.86zM61.72 522.03h1.86v18.17h-1.86zM65.33 522.03h1.86v18.17h-1.86zM67.13 522.03h1.86v18.17h-1.86zM79.77 522.03h1.86v18.17h-1.86zM88.8 522.03h1.86v18.17h-1.86zM90.6 522.03h1.86v18.17h-1.86zM99.63 522.03h1.86v18.17h-1.86zM105.04 522.03h1.86v18.17h-1.86zM108.65 522.03h1.86v18.17h-1.86zM112.26 522.03h1.86v18.17h-1.86zM123.1 522.03h1.86v18.17h-1.86zM128.51 522.03h1.86v18.17h-1.86zM63.52 540.15h1.86v18.17h-1.86zM88.8 540.15h1.86v18.17h-1.86zM61.72 558.27h1.86v18.17h-1.86zM144.76 558.27h1.86v18.17h-1.86zM56.3 576.39h1.86v18.17h-1.86zM70.74 576.39h1.86v18.17h-1.86zM77.96 576.39h1.86v18.17h-1.86zM79.77 576.39h1.86v18.17h-1.86zM88.8 576.39h1.86v18.17h-1.86zM90.6 576.39h1.86v18.17h-1.86zM105.04 576.39h1.86v18.17h-1.86zM110.46 576.39h1.86v18.17h-1.86zM128.51 576.39h1.86v18.17h-1.86zM135.73 576.39h1.86v18.17h-1.86zM92.41 594.51h1.86v18.17h-1.86zM101.43 594.51h1.86v18.17h-1.86zM105.04 594.51h1.86v18.17h-1.86zM139.34 594.51h1.86v18.17h-1.86zM70.74 612.63h1.86v18.17h-1.86zM72.55 612.63h1.86v18.17h-1.86zM83.38 612.63h1.86v18.17h-1.86zM88.8 612.63h1.86v18.17h-1.86zM72.55 630.75h1.86v18.17h-1.86zM79.77 630.75h1.86v18.17h-1.86zM81.57 630.75h1.86v18.17h-1.86zM97.82 630.75h1.86v18.17h-1.86zM112.26 630.75h1.86v18.17h-1.86zM135.73 630.75h1.86v18.17h-1.86zM139.34 630.75h1.86v18.17h-1.86zM141.15 630.75h1.86v18.17h-1.86zM63.52 648.87h1.86v18.17h-1.86zM65.33 648.87h1.86v18.17h-1.86zM68.94 648.87h1.86v18.17h-1.86zM99.63 648.87h1.86v18.17h-1.86zM101.43 648.87h1.86v18.17h-1.86zM105.04 648.87h1.86v18.17h-1.86zM106.85 648.87h1.86v18.17h-1.86zM108.65 648.87h1.86v18.17h-1.86zM112.26 648.87h1.86v18.17h-1.86zM117.68 648.87h1.86v18.17h-1.86zM144.76 648.87h1.86v18.17h-1.86zM83.38 666.99h1.86v18.17h-1.86zM86.99 666.99h1.86v18.17h-1.86zM88.8 666.99h1.86v18.17h-1.86zM141.15 666.99h1.86v18.17h-1.86zM144.76 666.99h1.86v18.17h-1.86zM110.46 685.11h1.86v18.17h-1.86zM117.68 685.11h1.86v18.17h-1.86zM130.32 685.11h1.86v18.17h-1.86zM141.15 685.11h1.86v18.17h-1.86zM63.52 703.23h1.86v18.17h-1.86zM72.55 703.23h1.86v18.17h-1.86zM81.57 703.23h1.86v18.17h-1.86zM110.46 703.23h1.86v18.17h-1.86zM58.11 721.36h1.86v18.17h-1.86zM63.52 721.36h1.86v18.17h-1.86zM72.55 721.36h1.86v18.17h-1.86zM108.65 721.36h1.86v18.17h-1.86zM110.46 721.36h1.86v18.17h-1.86zM141.15 721.36h1.86v18.17h-1.86zM79.77 739.48h1.86v18.17h-1.86zM97.82 739.48h1.86v18.17h-1.86zM103.24 739.48h1.86v18.17h-1.86zM106.85 739.48h1.86v18.17h-1.86zM108.65 739.48h1.86v18.17h-1.86zM139.34 739.48h1.86v18.17h-1.86zM144.76 739.48h1.86v18.17h-1.86zM65.33 757.6h1.86v18.17h-1.86zM103.24 757.6h1.86v18.17h-1.86zM105.04 757.6h1.86v18.17h-1.86zM119.49 757.6h1.86v18.17h-1.86zM130.32 757.6h1.86v18.17h-1.86zM144.76 757.6h1.86v18.17h-1.86zM63.52 775.72h1.86v18.17h-1.86zM90.6 775.72h1.86v18.17h-1.86zM101.43 775.72h1.86v18.17h-1.86zM135.73 775.72h1.86v18.17h-1.86zM141.15 775.72h1.86v18.17h-1.86zM151.98 775.72h1.86v18.17h-1.86zM70.74 793.84h1.86v18.17h-1.86zM56.3 811.96h1.86v18.17h-1.86zM72.55 811.96h1.86v18.17h-1.86zM106.85 811.96h1.86v18.17h-1.86zM117.68 811.96h1.86v18.17h-1.86zM141.15 811.96h1.86v18.17h-1.86zM144.76 811.96h1.86v18.17h-1.86zM61.72 830.08h1.86v18.17h-1.86zM81.57 830.08h1.86v18.17h-1.86zM105.04 830.08h1.86v18.17h-1.86zM112.26 830.08h1.86v18.17h-1.86zM114.07 830.08h1.86v18.17h-1.86zM63.52 848.2h1.86v18.17h-1.86zM79.77 848.2h1.86v18.17h-1.86zM117.68 848.2h1.86v18.17h-1.86zM133.93 848.2h1.86v18.17h-1.86zM139.34 848.2h1.86v18.17h-1.86zM146.57 848.2h1.86v18.17h-1.86zM114.07 866.32h1.86v18.17h-1.86zM130.32 866.32h1.86v18.17h-1.86zM144.76 866.32h1.86v18.17h-1.86zM90.6 884.44h1.86v18.17h-1.86zM103.24 884.44h1.86v18.17h-1.86zM128.51 884.44h1.86v18.17h-1.86zM56.3 902.56h1.86v18.17h-1.86zM132.12 902.56h1.86v18.17h-1.86zM135.73 902.56h1.86v18.17h-1.86zM141.15 902.56h1.86v18.17h-1.86zM56.3 920.68h1.86v18.17h-1.86zM110.46 920.68h1.86v18.17h-1.86zM144.76 920.68h1.86v18.17h-1.86z"/>
<path fill="#bfbfff" d="M65.33 50.9h1.86v18.17h-1.86zM97.82 50.9h1.86v18.17h-1.86zM112.26 50.9h1.86v18.17h-1.86zM114.07 50.9h1.86v18.17h-1.86zM135.73 50.9h1.86v18.17h-1.86zM141.15 50.9h1.86v18.17h-1.86zM76.16 69.02h1.86v18.17h-1.86zM88.8 69.02h1.86v18.17h-1.86zM90.6 69.02h1.86v18.17h-1.86zM103.24 69.02h1.86v18.17h-1.86zM105.04 69.02h1.86v18.17h-1.86zM106.85 69.02h1.86v18.17h-1.86zM110.46 69.02h1.86v18.17h-1.86zM142.96 69.02h1.86v18.17h-1.86zM58.11 87.14h1.86v18.17h-1.86zM59.91 87.14h1.86v18.17h-1.86zM61.72 87.14h1.86v18.17h-1.86zM67.13 87.14h1.86v18.17h-1.86zM79.77 87.14h1.86v18.17h-1.86zM88.8 87.14h1.86v18.17h-1.86zM110.46 87.14h1.86v18.17h-1.86zM117.68 87.14h1.86v18.17h-1.86zM119.49 87.14h1.86v18.17h-1.86zM128.51 87.14h1.86v18.17h-1.86zM141.15 87.14h1.86v18.17h-1.86zM56.3 105.26h1.86v18.17h-1.86zM77.96 105.26h1.86v18.17h-1.86zM92.41 105.26h1.86v18.17h-1.86zM103.24 105.26h1.86v18.17h-1.86zM106.85 105.26h1.86v18.17h-1.86zM128.51 105.26h1.86v18.17h-1.86zM58.11 123.38h1.86v18.17h-1.86zM77.96 123.38h1.86v18.17h-1.86zM79.77 123.38h1.86v18.17h-1.86zM108.65 123.38h1.86v18.17h-1.86zM114.07 123.38h1.86v18.17h-1.86zM117.68 123.38h1.86v18.17h-1.86zM119.49 123.38h1.86v18.17h-1.86zM130.32 123.38h1.86v18.17h-1.86zM146.57 123.38h1.86v18.17h-1.86zM97.82 141.5h1.86v18.17h-1.86zM108.65 141.5h1.86v18.17h-1.86zM114.07 141.5h1.86v18.17h-1.86zM119.49 141.5h1.86v18.17h-1.86zM126.71 141.5h1.86v18.17h-1.86zM58.11 159.62h1.86v18.17h-1.86zM61.72 159.62h1.86v18.17h-1.86zM63.52 159.62h1.86v18.17h-1.86zM67.13 159.62h1.86v18.17h-1.86zM105.04 159.62h1.86v18.17h-1.86zM114.07 159.62h1.86v18.17h-1.86zM117.68 159.62h1.86v18.17h-1.86zM135.73 159.62h1.86v18.17h-1.86zM63.52 177.74h1.86v18.17h-1.86zM72.55 177.74h1.86v18.17h-1.86zM110.46 177.74h1.86v18.17h-1.86zM123.1 177.74h1.86v18.17h-1.86zM135.73 177.74h1.86v18.17h-1.86zM141.15 177.74h1.86v18.17h-1.86zM61.72 195.86h1.86v18.17h-1.86zM63.52 195.86h1.86v18.17h-1.86zM103.24 195.86h1.86v18.17h-1.86zM105.04 195.86h1.86v18.17h-1.86zM106.85 195.86h1.86v18.17h-1.86zM128.51 195.86h1.86v18.17h-1.86zM135.73 195.86h1.86v18.17h-1.86zM144.76 195.86h1.86v18.17h-1.86zM65.33 213.98h1.86v18.17h-1.86zM97.82 213.98h1.86v18.17h-1.86zM106.85 213.98h1.86v18.17h-1.86zM117.68 213.98h1.86v18.17h-1.86zM128.51 213.98h1.86v18.17h-1.86zM63.52 232.1h1.86v18.17h-1.86zM65.33 232.1h1.86v18.17h-1.86zM81.57 232.1h1.86v18.17h-1.86zM88.8 232.1h1.86v18.17h-1.86zM114.07 232.1h1.86v18.17h-1.86zM146.57 232.1h1.86v18.17h-1.86zM63.52 250.22h1.86v18.17h-1.86zM79.77 250.22h1.86v18.17h-1.86zM108.65 250.22h1.86v18.17h-1.86zM110.46 250.22h1.86v18.17h-1.86zM130.32 250.22h1.86v18.17h-1.86zM135.73 250.22h1.86v18.17h-1.86zM141.15 250.22h1.86v18.17h-1.86zM61.72 268.34h1.86v18.17h-1.86zM103.24 268.34h1.86v18.17h-1.86zM106.85 268.34h1.86v18.17h-1.86zM81.57 286.47h1.86v18.17h-1.86zM97.82 286.47h1.86v18.17h-1.86zM106.85 286.47h1.86v18.17h-1.86zM112.26 286.47h1.86v18.17h-1.86zM114.07 286.47h1.86v18.17h-1.86zM123.1 286.47h1.86v18.17h-1.86zM128.51 286.47h1.86v18.17h-1.86zM142.96 286.47h1.86v18.17h-1.86zM61.72 304.59h1.86v18.17h-1.86zM65.33 304.59h1.86v18.17h-1.86zM72.55 304.59h1.86v18.17h-1.86zM88.8 304.59h1.86v18.17h-1.86zM90.6 304.59h1.86v18.17h-1.86zM97.82 304.59h1.86v18.17h-1.86zM114.07 304.59h1.86v18.17h-1.86zM146.57 304.59h1.86v18.17h-1.86zM61.72 322.71h1.86v18.17h-1.86zM79.77 322.71h1.86v18.17h-1.86zM86.99 322.71h1.86v18.17h-1.86zM88.8 322.71h1.86v18.17h-1.86zM106.85 322.71h1.86v18.17h-1.86zM124.9 322.71h1.86v18.17h-1.86zM141.15 322.71h1.86v18.17h-1.86zM88.8 340.83h1.86v18.17h-1.86zM97.82 340.83h1.86v18.17h-1.86zM103.24 340.83h1.86v18.17h-1.86zM114.07 340.83h1.86v18.17h-1.86zM130.32 340.83h1.86v18.17h-1.86zM139.34 340.83h1.86v18.17h-1.86zM63.52 358.95h1.86v18.17h-1.86zM81.57 358.95h1.86v18.17h-1.86zM90.6 358.95h1.86v18.17h-1.86zM103.24 358.95h1.86v18.17h-1.86zM114.07 358.95h1.86v18.17h-1.86zM128.51 358.95h1.86v18.17h-1.86zM133.93 358.95h1.86v18.17h-1.86zM135.73 358.95h1.86v18.17h-1.86zM86.99 377.07h1.86v18.17h-1.86zM101.43 377.07h1.86v18.17h-1.86zM105.04 377.07h1.86v18.17h-1.86zM130.32 377.07h1.86v18.17h-1.86zM146.57 377.07h1.86v18.17h-1.86zM67.13 395.19h1.86v18.17h-1.86zM81.57 395.19h1.86v18.17h-1.86zM90.6 395.19h1.86v18.17h-1.86zM117.68 395.19h1.86v18.17h-1.86zM123.1 395.19h1.86v18.17h-1.86zM132.12 395.19h1.86v18.17h-1.86zM135.73 395.19h1.86v18.17h-1.86zM56.3 413.31h1.86v18.17h-1.86zM58.11 413.31h1.86v18.17h-1.86zM68.94 413.31h1.86v18.17h-1.86zM103.24 413.31h1.86v18.17h-1.86zM112.26 413.31h1.86v18.17h-1.86zM114.07 413.31h1.86v18.17h-1.86zM123.1 413.31h1.86v18.17h-1.86zM59.91 431.43h1.86v18.17h-1.86zM63.52 431.43h1.86v18.17h-1.86zM65.33 431.43h1.86v18.17h-1.86zM77.96 431.43h1.86v18.17h-1.86zM86.99 431.43h1.86v18.17h-1.86zM88.8 431.43h1.86v18.17h-1.86zM97.82 431.43h1.86v18.17h-1.86zM106.85 431.43h1.86v18.17h-1.86zM112.26 431.43h1.86v18.17h-1.86zM114.07 431.43h1.86v18.17h-1.86zM130.32 431.43h1.86v18.17h-1.86zM146.57 431.43h1.86v18.17h-1.86zM61.72 449.55h1.86v18.17h-1.86zM65.33 449.55h1.86v18.17h-1.86zM90.6 449.55h1.86v18.17h-1.86zM123.1 449.55h1.86v18.17h-1.86zM130.32 449.55h1.86v18.17h-1.86zM148.37 449.55h1.86v18.17h-1.86zM61.72 467.67h1.86v18.17h-1.86zM79.77 467.67h1.86v18.17h-1.86zM83.38 467.67h1.86v18.17h-1.86zM141.15 467.67h1.86v18.17h-1.86zM77.96 485.79h1.86v18.17h-1.86zM86.99 485.79h1.86v18.17h-1.86zM148.37 485.79h1.86v18.17h-1.86zM151.98 485.79h1.86v18.17h-1.86zM77.96 503.91h1.86v18.17h-1.86zM85.19 503.91h1.86v18.17h-1.86zM86.99 503.91h1.86v18.17h-1.86zM88.8 503.91h1.86v18.17h-1.86zM101.43 503.91h1.86v18.17h-1.86zM103.24 503.91h1.86v18.17h-1.86zM106.85 503.91h1.86v18.17h-1.86zM108.65 503.91h1.86v18.17h-1.86zM110.46 503.91h1.86v18.17h-1.86zM112.26 503.91h1.86v18.17h-1.86zM130.32 503.91h1.86v18.17h-1.86zM59.91 522.03h1.86v18.17h-1.86zM68.94 522.03h1.86v18.17h-1.86zM77.96 522.03h1.86v18.17h-1.86zM86.99 522.03h1.86v18.17h-1.86zM92.41 522.03h1.86v18.17h-1.86zM103.24 522.03h1.86v18.17h-1.86zM110.46 522.03h1.86v18.17h-1.86zM119.49 522.03h1.86v18.17h-1.86zM130.32 522.03h1.86v18.17h-1.86zM144.76 522.03h1.86v18.17h-1.86zM56.3 540.15h1.86v18.17h-1.86zM67.13 540.15h1.86v18.17h-1.86zM106.85 540.15h1.86v18.17h-1.86zM139.34 540.15h1.86v18.17h-1.86zM59.91 558.27h1.86v18.17h-1.86zM79.77 558.27h1.86v18.17h-1.86zM81.57 558.27h1.86v18.17h-1.86zM88.8 558.27h1.86v18.17h-1.86zM90.6 558.27h1.86v18.17h-1.86zM97.82 558.27h1.86v18.17h-1.86zM106.85 558.27h1.86v18.17h-1.86zM108.65 558.27h1.86v18.17h-1.86zM123.1 558.27h1.86v18.17h-1.86zM146.57 558.27h1.86v18.17h-1.86zM58.11 576.39h1.86v18.17h-1.86zM81.57 576.39h1.86v18.17h-1.86zM108.65 576.39h1.86v18.17h-1.86zM117.68 576.39h1.86v18.17h-1.86zM130.32 576.39h1.86v18.17h-1.86zM141.15 576.39h1.86v18.17h-1.86zM144.76 576.39h1.86v18.17h-1.86zM56.3 594.51h1.86v18.17h-1.86zM58.11 594.51h1.86v18.17h-1.86zM65.33 594.51h1.86v18.17h-1.86zM67.13 594.51h1.86v18.17h-1.86zM70.74 594.51h1.86v18.17h-1.86zM81.57 594.51h1.86v18.17h-1.86zM103.24 594.51h1.86v18.17h-1.86zM106.85 594.51h1.86v18.17h-1.86zM141.15 594.51h1.86v18.17h-1.86zM150.18 594.51h1.86v18.17h-1.86zM56.3 612.63h1.86v18.17h-1.86zM103.24 612.63h1.86v18.17h-1.86zM105.04 612.63h1.86v18.17h-1.86zM106.85 612.63h1.86v18.17h-1.86zM114.07 612.63h1.86v18.17h-1.86zM117.68 612.63h1.86v18.17h-1.86zM130.32 612.63h1.86v18.17h-1.86zM139.34 612.63h1.86v18.17h-1.86zM56.3 630.75h1.86v18.17h-1.86zM65.33 630.75h1.86v18.17h-1.86zM67.13 630.75h1.86v18.17h-1.86zM105.04 630.75h1.86v18.17h-1.86zM108.65 630.75h1.86v18.17h-1.86zM128.51 630.75h1.86v18.17h-1.86zM59.91 648.87h1.86v18.17h-1.86zM61.72 648.87h1.86v18.17h-1.86zM86.99 648.87h1.86v18.17h-1.86zM88.8 648.87h1.86v18.17h-1.86zM97.82 648.87h1.86v18.17h-1.86zM114.07 648.87h1.86v18.17h-1.86zM130.32 648.87h1.86v18.17h-1.86zM135.73 648.87h1.86v18.17h-1.86zM148.37 648.87h1.86v18.17h-1.86zM63.52 666.99h1.86v18.17h-1.86zM81.57 666.99h1.86v18.17h-1.86zM128.51 666.99h1.86v18.17h-1.86zM132.12 666.99h1.86v18.17h-1.86zM67.13 685.11h1.86v18.17h-1.86zM90.6 685.11h1.86v18.17h-1.86zM106.85 685.11h1.86v18.17h-1.86zM144.76 685.11h1.86v18.17h-1.86zM117.68 703.23h1.86v18.17h-1.86zM119.49 703.23h1.86v18.17h-1.86zM135.73 703.23h1.86v18.17h-1.86zM144.76 703.23h1.86v18.17h-1.86zM61.72 721.36h1.86v18.17h-1.86zM74.35 721.36h1.86v18.17h-1.86zM76.16 721.36h1.86v18.17h-1.86zM86.99 721.36h1.86v18.17h-1.86zM90.6 721.36h1.86v18.17h-1.86zM117.68 721.36h1.86v18.17h-1.86zM130.32 721.36h1.86v18.17h-1.86zM135.73 721.36h1.86v18.17h-1.86zM56.3 739.48h1.86v18.17h-1.86zM61.72 739.48h1.86v18.17h-1.86zM90.6 739.48h1.86v18.17h-1.86zM123.1 739.48h1.86v18.17h-1.86zM130.32 739.48h1.86v18.17h-1.86zM61.72 757.6h1.86v18.17h-1.86zM70.74 757.6h1.86v18.17h-1.86zM110.46 757.6h1.86v18.17h-1.86zM114.07 757.6h1.86v18.17h-1.86zM123.1 757.6h1.86v18.17h-1.86zM135.73 757.6h1.86v18.17h-1.86zM58.11 775.72h1.86v18.17h-1.86zM61.72 775.72h1.86v18.17h-1.86zM86.99 775.72h1.86v18.17h-1.86zM97.82 775.72h1.86v18.17h-1.86zM112.26 775.72h1.86v18.17h-1.86zM130.32 775.72h1.86v18.17h-1.86zM56.3 793.84h1.86v18.17h-1.86zM61.72 793.84h1.86v18.17h-1.86zM90.6 793.84h1.86v18.17h-1.86zM128.51 793.84h1.86v18.17h-1.86zM142.96 793.84h1.86v18.17h-1.86zM144.76 793.84h1.86v18.17h-1.86zM63.52 811.96h1.86v18.17h-1.86zM68.94 811.96h1.86v18.17h-1.86zM79.77 811.96h1.86v18.17h-1.86zM81.57 811.96h1.86v18.17h-1.86zM97.82 811.96h1.86v18.17h-1.86zM108.65 811.96h1.86v18.17h-1.86zM110.46 811.96h1.86v18.17h-1.86zM112.26 811.96h1.86v18.17h-1.86zM130.32 811.96h1.86v18.17h-1.86zM132.12 811.96h1.86v18.17h-1.86zM135.73 811.96h1.86v18.17h-1.86zM142.96 811.96h1.86v18.17h-1.86zM56.3 830.08h1.86v18.17h-1.86zM67.13 830.08h1.86v18.17h-1.86zM77.96 830.08h1.86v18.17h-1.86zM79.77 830.08h1.86v18.17h-1.86zM86.99 830.08h1.86v18.17h-1.86zM103.24 830.08h1.86v18.17h-1.86zM117.68 830.08h1.86v18.17h-1.86zM135.73 830.08h1.86v18.17h-1.86zM142.96 830.08h1.86v18.17h-1.86zM144.76 830.08h1.86v18.17h-1.86zM146.57 830.08h1.86v18.17h-1.86zM59.91 848.2h1.86v18.17h-1.86zM61.72 848.2h1.86v18.17h-1.86zM70.74 848.2h1.86v18.17h-1.86zM74.35 848.2h1.86v18.17h-1.86zM81.57 848.2h1.86v18.17h-1.86zM90.6 848.2h1.86v18.17h-1.86zM108.65 848.2h1.86v18.17h-1.86zM123.1 848.2h1.86v18.17h-1.86zM61.72 866.32h1.86v18.17h-1.86zM128.51 866.32h1.86v18.17h-1.86zM135.73 866.32h1.86v18.17h-1.86zM70.74 884.44h1.86v18.17h-1.86zM106.85 884.44h1.86v18.17h-1.86zM119.49 884.44h1.86v18.17h-1.86zM142.96 884.44h1.86v18.17h-1.86zM144.76 884.44h1.86v18.17h-1.86zM146.57 884.44h1.86v18.17h-1.86zM68.94 902.56h1.86v18.17h-1.86zM92.41 902.56h1.86v18.17h-1.86zM103.24 902.56h1.86v18.17h-1.86zM105.04 902.56h1.86v18.17h-1.86zM112.26 902.56h1.86v18.17h-1.86zM117.68 902.56h1.86v18.17h-1.86zM130.32 902.56h1.86v18.17h-1.86zM65.33 920.68h1.86v18.17h-1.86zM76.16 920.68h1.86v18.17h-1.86zM77.96 920.68h1.86v18.17h-1.86zM86.99 920.68h1.86v18.17h-1.86zM88.8 920.68h1.86v18.17h-1.86zM90.6 920.68h1.86v18.17h-1.86zM103.24 920.68h1.86v18.17h-1.86zM114.07 920.68h1.86v18.17h-1.86zM128.51 920.68h1.86v18.17h-1.86zM135.73 920.68h1.86v18.17h-1.86zM141.15 920.68h1.86v18.17h-1.86zM146.57 920.68h1.86v18.17h-1.86z"/>
<path fill="#d4d4ff" d="M56.3 50.9h1.86v18.17h-1.86zM61.72 50.9h1.86v18.17h-1.86zM74.35 50.9h1.86v18.17h-1.86zM86.99 50.9h1.86v18.17h-1.86zM90.6 50.9h1.86v18.17h-1.86zM101.43 50.9h1.86v18.17h-1.86zM103.24 50.9h1.86v18.17h-1.86zM106.85 50.9h1.86v18.17h-1.86zM130.32 50.9h1.86v18.17h-1.86zM146.57 50.9h1.86v18.17h-1.86zM148.37 50.9h1.86v18.17h-1.86zM61.72 69.02h1.86v18.17h-1.86zM74.35 69.02h1.86v18.17h-1.86zM97.82 69.02h1.86v18.17h-1.86zM115.88 69.02h1.86v18.17h-1.86zM117.68 69.02h1.86v18.17h-1.86zM124.9 69.02h1.86v18.17h-1.86zM130.32 69.02h1.86v18.17h-1.86zM92.41 87.14h1.86v18.17h-1.86zM103.24 87.14h1.86v18.17h-1.86zM112.26 87.14h1.86v18.17h-1.86zM114.07 87.14h1.86v18.17h-1.86zM79.77 105.26h1.86v18.17h-1.86zM86.99 105.26h1.86v18.17h-1.86zM88.8 105.26h1.86v18.17h-1.86zM108.65 105.26h1.86v18.17h-1.86zM117.68 105.26h1.86v18.17h-1.86zM119.49 105.26h1.86v18.17h-1.86zM142.96 105.26h1.86v18.17h-1.86zM59.91 123.38h1.86v18.17h-1.86zM65.33 123.38h1.86v18.17h-1.86zM74.35 123.38h1.86v18.17h-1.86zM86.99 123.38h1.86v18.17h-1.86zM58.11 141.5h1.86v18.17h-1.86zM65.33 141.5h1.86v18.17h-1.86zM67.13 141.5h1.86v18.17h-1.86zM77.96 141.5h1.86v18.17h-1.86zM79.77 141.5h1.86v18.17h-1.86zM86.99 141.5h1.86v18.17h-1.86zM105.04 141.5h1.86v18.17h-1.86zM115.88 141.5h1.86v18.17h-1.86zM123.1 141.5h1.86v18.17h-1.86zM56.3 159.62h1.86v18.17h-1.86zM65.33 159.62h1.86v18.17h-1.86zM77.96 159.62h1.86v18.17h-1.86zM79.77 159.62h1.86v18.17h-1.86zM81.57 159.62h1.86v18.17h-1.86zM86.99 159.62h1.86v18.17h-1.86zM97.82 159.62h1.86v18.17h-1.86zM141.15 159.62h1.86v18.17h-1.86zM144.76 159.62h1.86v18.17h-1.86zM204.34 159.62h1.86v18.17h-1.86zM56.3 177.74h1.86v18.17h-1.86zM65.33 177.74h1.86v18.17h-1.86zM74.35 177.74h1.86v18.17h-1.86zM76.16 177.74h1.86v18.17h-1.86zM81.57 177.74h1.86v18.17h-1.86zM88.8 177.74h1.86v18.17h-1.86zM92.41 177.74h1.86v18.17h-1.86zM56.3 195.86h1.86v18.17h-1.86zM76.16 195.86h1.86v18.17h-1.86zM79.77 195.86h1.86v18.17h-1.86zM90.6 195.86h1.86v18.17h-1.86zM92.41 195.86h1.86v18.17h-1.86zM97.82 195.86h1.86v18.17h-1.86zM108.65 195.86h1.86v18.17h-1.86zM61.72 213.98h1.86v18.17h-1.86zM70.74 213.98h1.86v18.17h-1.86zM72.55 213.98h1.86v18.17h-1.86zM90.6 213.98h1.86v18.17h-1.86zM105.04 213.98h1.86v18.17h-1.86zM110.46 213.98h1.86v18.17h-1.86zM130.32 213.98h1.86v18.17h-1.86zM141.15 213.98h1.86v18.17h-1.86zM148.37 213.98h1.86v18.17h-1.86zM61.72 232.1h1.86v18.17h-1.86zM67.13 232.1h1.86v18.17h-1.86zM68.94 232.1h1.86v18.17h-1.86zM108.65 232.1h1.86v18.17h-1.86zM119.49 232.1h1.86v18.17h-1.86zM151.98 232.1h1.86v18.17h-1.86zM58.11 250.22h1.86v18.17h-1.86zM59.91 250.22h1.86v18.17h-1.86zM88.8 250.22h1.86v18.17h-1.86zM142.96 250.22h1.86v18.17h-1.86zM146.57 250.22h1.86v18.17h-1.86zM56.3 268.34h1.86v18.17h-1.86zM67.13 268.34h1.86v18.17h-1.86zM76.16 268.34h1.86v18.17h-1.86zM90.6 268.34h1.86v18.17h-1.86zM112.26 268.34h1.86v18.17h-1.86zM128.51 268.34h1.86v18.17h-1.86zM58.11 286.47h1.86v18.17h-1.86zM59.91 286.47h1.86v18.17h-1.86zM61.72 286.47h1.86v18.17h-1.86zM63.52 286.47h1.86v18.17h-1.86zM67.13 286.47h1.86v18.17h-1.86zM74.35 286.47h1.86v18.17h-1.86zM88.8 286.47h1.86v18.17h-1.86zM92.41 286.47h1.86v18.17h-1.86zM103.24 286.47h1.86v18.17h-1.86zM117.68 286.47h1.86v18.17h-1.86zM119.49 286.47h1.86v18.17h-1.86zM63.52 304.59h1.86v18.17h-1.86zM86.99 304.59h1.86v18.17h-1.86zM106.85 304.59h1.86v18.17h-1.86zM130.32 304.59h1.86v18.17h-1.86zM142.96 304.59h1.86v18.17h-1.86zM56.3 322.71h1.86v18.17h-1.86zM63.52 322.71h1.86v18.17h-1.86zM72.55 322.71h1.86v18.17h-1.86zM74.35 322.71h1.86v18.17h-1.86zM103.24 322.71h1.86v18.17h-1.86zM114.07 322.71h1.86v18.17h-1.86zM128.51 322.71h1.86v18.17h-1.86zM135.73 322.71h1.86v18.17h-1.86zM146.57 322.71h1.86v18.17h-1.86zM204.34 322.71h1.86v18.17h-1.86zM58.11 340.83h1.86v18.17h-1.86zM74.35 340.83h1.86v18.17h-1.86zM77.96 340.83h1.86v18.17h-1.86zM108.65 340.83h1.86v18.17h-1.86zM115.88 340.83h1.86v18.17h-1.86zM135.73 340.83h1.86v18.17h-1.86zM144.76 340.83h1.86v18.17h-1.86zM58.11 358.95h1.86v18.17h-1.86zM74.35 358.95h1.86v18.17h-1.86zM97.82 358.95h1.86v18.17h-1.86zM105.04 358.95h1.86v18.17h-1.86zM106.85 358.95h1.86v18.17h-1.86zM146.57 358.95h1.86v18.17h-1.86zM63.52 377.07h1.86v18.17h-1.86zM77.96 377.07h1.86v18.17h-1.86zM81.57 377.07h1.86v18.17h-1.86zM115.88 377.07h1.86v18.17h-1.86zM117.68 377.07h1.86v18.17h-1.86zM142.96 377.07h1.86v18.17h-1.86zM77.96 395.19h1.86v18.17h-1.86zM79.77 395.19h1.86v18.17h-1.86zM86.99 395.19h1.86v18.17h-1.86zM88.8 395.19h1.86v18.17h-1.86zM112.26 395.19h1.86v18.17h-1.86zM81.57 413.31h1.86v18.17h-1.86zM108.65 413.31h1.86v18.17h-1.86zM117.68 413.31h1.86v18.17h-1.86zM146.57 413.31h1.86v18.17h-1.86zM148.37 413.31h1.86v18.17h-1.86zM81.57 431.43h1.86v18.17h-1.86zM108.65 431.43h1.86v18.17h-1.86zM119.49 431.43h1.86v18.17h-1.86zM123.1 431.43h1.86v18.17h-1.86zM142.96 431.43h1.86v18.17h-1.86zM56.3 449.55h1.86v18.17h-1.86zM67.13 449.55h1.86v18.17h-1.86zM79.77 449.55h1.86v18.17h-1.86zM86.99 449.55h1.86v18.17h-1.86zM97.82 449.55h1.86v18.17h-1.86zM103.24 449.55h1.86v18.17h-1.86zM117.68 449.55h1.86v18.17h-1.86zM63.52 467.67h1.86v18.17h-1.86zM67.13 467.67h1.86v18.17h-1.86zM74.35 467.67h1.86v18.17h-1.86zM86.99 467.67h1.86v18.17h-1.86zM88.8 467.67h1.86v18.17h-1.86zM103.24 467.67h1.86v18.17h-1.86zM112.26 467.67h1.86v18.17h-1.86zM123.1 467.67h1.86v18.17h-1.86zM124.9 467.67h1.86v18.17h-1.86zM59.91 485.79h1.86v18.17h-1.86zM67.13 485.79h1.86v18.17h-1.86zM97.82 485.79h1.86v18.17h-1.86zM103.24 485.79h1.86v18.17h-1.86zM114.07 485.79h1.86v18.17h-1.86zM119.49 485.79h1.86v18.17h-1.86zM123.1 485.79h1.86v18.17h-1.86zM63.52 503.91h1.86v18.17h-1.86zM76.16 503.91h1.86v18.17h-1.86zM90.6 503.91h1.86v18.17h-1.86zM114.07 503.91h1.86v18.17h-1.86zM141.15 503.91h1.86v18.17h-1.86zM56.3 522.03h1.86v18.17h-1.86zM58.11 522.03h1.86v18.17h-1.86zM81.57 522.03h1.86v18.17h-1.86zM97.82 522.03h1.86v18.17h-1.86zM124.9 522.03h1.86v18.17h-1.86zM142.96 522.03h1.86v18.17h-1.86zM151.98 522.03h1.86v18.17h-1.86zM162.81 522.03h1.86v18.17h-1.86zM58.11 540.15h1.86v18.17h-1.86zM61.72 540.15h1.86v18.17h-1.86zM83.38 540.15h1.86v18.17h-1.86zM110.46 540.15h1.86v18.17h-1.86zM135.73 540.15h1.86v18.17h-1.86zM141.15 540.15h1.86v18.17h-1.86zM146.57 540.15h1.86v18.17h-1.86zM58.11 558.27h1.86v18.17h-1.86zM63.52 558.27h1.86v18.17h-1.86zM77.96 558.27h1.86v18.17h-1.86zM86.99 558.27h1.86v18.17h-1.86zM92.41 558.27h1.86v18.17h-1.86zM112.26 558.27h1.86v18.17h-1.86zM119.49 558.27h1.86v18.17h-1.86zM130.32 558.27h1.86v18.17h-1.86zM61.72 576.39h1.86v18.17h-1.86zM86.99 576.39h1.86v18.17h-1.86zM123.1 576.39h1.86v18.17h-1.86zM146.57 576.39h1.86v18.17h-1.86zM63.52 594.51h1.86v18.17h-1.86zM97.82 594.51h1.86v18.17h-1.86zM110.46 594.51h1.86v18.17h-1.86zM128.51 594.51h1.86v18.17h-1.86zM135.73 594.51h1.86v18.17h-1.86zM144.76 594.51h1.86v18.17h-1.86zM146.57 594.51h1.86v18.17h-1.86zM58.11 612.63h1.86v18.17h-1.86zM63.52 612.63h1.86v18.17h-1.86zM67.13 612.63h1.86v18.17h-1.86zM81.57 612.63h1.86v18.17h-1.86zM85.19 612.63h1.86v18.17h-1.86zM92.41 612.63h1.86v18.17h-1.86zM110.46 612.63h1.86v18.17h-1.86zM141.15 612.63h1.86v18.17h-1.86zM61.72 630.75h1.86v18.17h-1.86zM103.24 630.75h1.86v18.17h-1.86zM117.68 630.75h1.86v18.17h-1.86zM151.98 630.75h1.86v18.17h-1.86zM58.11 648.87h1.86v18.17h-1.86zM79.77 648.87h1.86v18.17h-1.86zM103.24 648.87h1.86v18.17h-1.86zM119.49 648.87h1.86v18.17h-1.86zM123.1 648.87h1.86v18.17h-1.86zM132.12 648.87h1.86v18.17h-1.86zM141.15 648.87h1.86v18.17h-1.86zM146.57 648.87h1.86v18.17h-1.86zM56.3 666.99h1.86v18.17h-1.86zM85.19 666.99h1.86v18.17h-1.86zM105.04 666.99h1.86v18.17h-1.86zM114.07 666.99h1.86v18.17h-1.86zM72.55 685.11h1.86v18.17h-1.86zM81.57 685.11h1.86v18.17h-1.86zM88.8 685.11h1.86v18.17h-1.86zM97.82 685.11h1.86v18.17h-1.86zM213.36 685.11h1.86v18.17h-1.86zM56.3 703.23h1.86v18.17h-1.86zM58.11 703.23h1.86v18.17h-1.86zM59.91 703.23h1.86v18.17h-1.86zM61.72 703.23h1.86v18.17h-1.86zM79.77 703.23h1.86v18.17h-1.86zM86.99 703.23h1.86v18.17h-1.86zM90.6 703.23h1.86v18.17h-1.86zM101.43 703.23h1.86v18.17h-1.86zM103.24 703.23h1.86v18.17h-1.86zM108.65 703.23h1.86v18.17h-1.86zM112.26 703.23h1.86v18.17h-1.86zM123.1 703.23h1.86v18.17h-1.86zM124.9 703.23h1.86v18.17h-1.86zM141.15 703.23h1.86v18.17h-1.86zM142.96 703.23h1.86v18.17h-1.86zM56.3 721.36h1.86v18.17h-1.86zM92.41 721.36h1.86v18.17h-1.86zM106.85 721.36h1.86v18.17h-1.86zM119.49 721.36h1.86v18.17h-1.86zM123.1 721.36h1.86v18.17h-1.86zM142.96 721.36h1.86v18.17h-1.86zM151.98 721.36h1.86v18.17h-1.86zM65.33 739.48h1.86v18.17h-1.86zM67.13 739.48h1.86v18.17h-1.86zM70.74 739.48h1.86v18.17h-1.86zM72.55 739.48h1.86v18.17h-1.86zM74.35 739.48h1.86v18.17h-1.86zM110.46 739.48h1.86v18.17h-1.86zM112.26 739.48h1.86v18.17h-1.86zM119.49 739.48h1.86v18.17h-1.86zM135.73 739.48h1.86v18.17h-1.86zM146.57 739.48h1.86v18.17h-1.86zM97.82 757.6h1.86v18.17h-1.86zM112.26 757.6h1.86v18.17h-1.86zM117.68 757.6h1.86v18.17h-1.86zM128.51 757.6h1.86v18.17h-1.86zM141.15 757.6h1.86v18.17h-1.86zM146.57 757.6h1.86v18.17h-1.86zM59.91 775.72h1.86v18.17h-1.86zM65.33 775.72h1.86v18.17h-1.86zM74.35 775.72h1.86v18.17h-1.86zM81.57 775.72h1.86v18.17h-1.86zM88.8 775.72h1.86v18.17h-1.86zM92.41 775.72h1.86v18.17h-1.86zM128.51 775.72h1.86v18.17h-1.86zM58.11 793.84h1.86v18.17h-1.86zM74.35 793.84h1.86v18.17h-1.86zM76.16 793.84h1.86v18.17h-1.86zM106.85 793.84h1.86v18.17h-1.86zM112.26 793.84h1.86v18.17h-1.86zM114.07 793.84h1.86v18.17h-1.86zM123.1 793.84h1.86v18.17h-1.86zM124.9 793.84h1.86v18.17h-1.86zM133.93 793.84h1.86v18.17h-1.86zM146.57 793.84h1.86v18.17h-1.86zM65.33 811.96h1.86v18.17h-1.86zM86.99 811.96h1.86v18.17h-1.86zM88.8 811.96h1.86v18.17h-1.86zM105.04 811.96h1.86v18.17h-1.86zM119.49 811.96h1.86v18.17h-1.86zM128.51 811.96h1.86v18.17h-1.86zM146.57 811.96h1.86v18.17h-1.86zM148.37 811.96h1.86v18.17h-1.86zM65.33 830.08h1.86v18.17h-1.86zM68.94 830.08h1.86v18.17h-1.86zM88.8 830.08h1.86v18.17h-1.86zM108.65 830.08h1.86v18.17h-1.86zM115.88 830.08h1.86v18.17h-1.86zM130.32 830.08h1.86v18.17h-1.86zM151.98 830.08h1.86v18.17h-1.86zM67.13 848.2h1.86v18.17h-1.86zM76.16 848.2h1.86v18.17h-1.86zM77.96 848.2h1.86v18.17h-1.86zM88.8 848.2h1.86v18.17h-1.86zM112.26 848.2h1.86v18.17h-1.86zM119.49 848.2h1.86v18.17h-1.86zM128.51 848.2h1.86v18.17h-1.86zM130.32 848.2h1.86v18.17h-1.86zM135.73 848.2h1.86v18.17h-1.86zM144.76 848.2h1.86v18.17h-1.86zM76.16 866.32h1.86v18.17h-1.86zM77.96 866.32h1.86v18.17h-1.86zM79.77 866.32h1.86v18.17h-1.86zM90.6 866.32h1.86v18.17h-1.86zM92.41 866.32h1.86v18.17h-1.86zM108.65 866.32h1.86v18.17h-1.86zM110.46 866.32h1.86v18.17h-1.86zM139.34 866.32h1.86v18.17h-1.86zM141.15 866.32h1.86v18.17h-1.86zM179.06 866.32h1.86v18.17h-1.86zM213.36 866.32h1.86v18.17h-1.86zM81.57 884.44h1.86v18.17h-1.86zM86.99 884.44h1.86v18.17h-1.86zM105.04 884.44h1.86v18.17h-1.86zM141.15 884.44h1.86v18.17h-1.86zM184.48 884.44h1.86v18.17h-1.86zM61.72 902.56h1.86v18.17h-1.86zM81.57 902.56h1.86v18.17h-1.86zM90.6 902.56h1.86v18.17h-1.86zM114.07 902.56h1.86v18.17h-1.86zM144.76 902.56h1.86v18.17h-1.86zM146.57 902.56h1.86v18.17h-1.86zM151.98 902.56h1.86v18.17h-1.86zM61.72 920.68h1.86v18.17h-1.86zM67.13 920.68h1.86v18.17h-1.86zM74.35 920.68h1.86v18.17h-1.86zM81.57 920.68h1.86v18.17h-1.86zM117.68 920.68h1.86v18.17h-1.86zM119.49 920.68h1.86v18.17h-1.86z"/>
<path fill="#eaeaff" d="M63.52 50.9h1.86v18.17h-1.86zM108.65 50.9h1.86v18.17h-1.86zM110.46 50.9h1.86v18.17h-1.86zM117.68 50.9h1.86v18.17h-1.86zM119.49 50.9h1.86v18.17h-1.86zM124.9 50.9h1.86v18.17h-1.86zM213.36 50.9h1.86v18.17h-1.86zM63.52 69.02h1.86v18.17h-1.86zM65.33 69.02h1.86v18.17h-1.86zM68.94 69.02h1.86v18.17h-1.86zM96.02 69.02h1.86v18.17h-1.86zM119.49 69.02h1.86v18.17h-1.86zM144.76 69.02h1.86v18.17h-1.86zM146.57 69.02h1.86v18.17h-1.86zM148.37 69.02h1.86v18.17h-1.86zM151.98 69.02h1.86v18.17h-1.86zM56.3 87.14h1.86v18.17h-1.86zM63.52 87.14h1.86v18.17h-1.86zM74.35 87.14h1.86v18.17h-1.86zM76.16 87.14h1.86v18.17h-1.86zM97.82 87.14h1.86v18.17h-1.86zM108.65 87.14h1.86v18.17h-1.86zM130.32 87.14h1.86v18.17h-1.86zM148.37 87.14h1.86v18.17h-1.86zM59.91 105.26h1.86v18.17h-1.86zM74.35 105.26h1.86v18.17h-1.86zM90.6 105.26h1.86v18.17h-1.86zM114.07 105.26h1.86v18.17h-1.86zM146.57 105.26h1.86v18.17h-1.86zM150.18 105.26h1.86v18.17h-1.86zM151.98 105.26h1.86v18.17h-1.86zM177.26 105.26h1.86v18.17h-1.86zM224.19 105.26h1.86v18.17h-1.86zM68.94 123.38h1.86v18.17h-1.86zM123.1 123.38h1.86v18.17h-1.86zM124.9 123.38h1.86v18.17h-1.86zM59.91 141.5h1.86v18.17h-1.86zM68.94 141.5h1.86v18.17h-1.86zM92.41 141.5h1.86v18.17h-1.86zM103.24 141.5h1.86v18.17h-1.86zM112.26 141.5h1.86v18.17h-1.86zM128.51 141.5h1.86v18.17h-1.86zM142.96 141.5h1.86v18.17h-1.86zM150.18 141.5h1.86v18.17h-1.86zM151.98 141.5h1.86v18.17h-1.86zM162.81 141.5h1.86v18.17h-1.86zM182.67 141.5h1.86v18.17h-1.86zM184.48 141.5h1.86v18.17h-1.86zM224.19 141.5h1.86v18.17h-1.86zM74.35 159.62h1.86v18.17h-1.86zM88.8 159.62h1.86v18.17h-1.86zM110.46 159.62h1.86v18.17h-1.86zM112.26 159.62h1.86v18.17h-1.86zM124.9 159.62h1.86v18.17h-1.86zM148.37 159.62h1.86v18.17h-1.86zM182.67 159.62h1.86v18.17h-1.86zM58.11 177.74h1.86v18.17h-1.86zM67.13 177.74h1.86v18.17h-1.86zM77.96 177.74h1.86v18.17h-1.86zM79.77 177.74h1.86v18.17h-1.86zM106.85 177.74h1.86v18.17h-1.86zM115.88 177.74h1.86v18.17h-1.86zM130.32 177.74h1.86v18.17h-1.86zM218.78 177.74h1.86v18.17h-1.86zM58.11 195.86h1.86v18.17h-1.86zM59.91 195.86h1.86v18.17h-1.86zM74.35 195.86h1.86v18.17h-1.86zM81.57 195.86h1.86v18.17h-1.86zM86.99 195.86h1.86v18.17h-1.86zM88.8 195.86h1.86v18.17h-1.86zM112.26 195.86h1.86v18.17h-1.86zM146.57 195.86h1.86v18.17h-1.86zM148.37 195.86h1.86v18.17h-1.86zM170.04 195.86h1.86v18.17h-1.86zM213.36 195.86h1.86v18.17h-1.86zM58.11 213.98h1.86v18.17h-1.86zM59.91 213.98h1.86v18.17h-1.86zM68.94 213.98h1.86v18.17h-1.86zM81.57 213.98h1.86v18.17h-1.86zM86.99 213.98h1.86v18.17h-1.86zM88.8 213.98h1.86v18.17h-1.86zM108.65 213.98h1.86v18.17h-1.86zM119.49 213.98h1.86v18.17h-1.86zM124.9 213.98h1.86v18.17h-1.86zM142.96 213.98h1.86v18.17h-1.86zM146.57 213.98h1.86v18.17h-1.86zM155.59 213.98h1.86v18.17h-1.86zM161.01 213.98h1.86v18.17h-1.86zM177.26 213.98h1.86v18.17h-1.86zM180.87 213.98h1.86v18.17h-1.86zM213.36 213.98h1.86v18.17h-1.86zM74.35 232.1h1.86v18.17h-1.86zM92.41 232.1h1.86v18.17h-1.86zM103.24 232.1h1.86v18.17h-1.86zM123.1 232.1h1.86v18.17h-1.86zM148.37 232.1h1.86v18.17h-1.86zM76.16 250.22h1.86v18.17h-1.86zM77.96 250.22h1.86v18.17h-1.86zM85.19 250.22h1.86v18.17h-1.86zM86.99 250.22h1.86v18.17h-1.86zM92.41 250.22h1.86v18.17h-1.86zM112.26 250.22h1.86v18.17h-1.86zM119.49 250.22h1.86v18.17h-1.86zM162.81 250.22h1.86v18.17h-1.86zM182.67 250.22h1.86v18.17h-1.86zM58.11 268.34h1.86v18.17h-1.86zM79.77 268.34h1.86v18.17h-1.86zM81.57 268.34h1.86v18.17h-1.86zM86.99 268.34h1.86v18.17h-1.86zM88.8 268.34h1.86v18.17h-1.86zM108.65 268.34h1.86v18.17h-1.86zM114.07 268.34h1.86v18.17h-1.86zM117.68 268.34h1.86v18.17h-1.86zM123.1 268.34h1.86v18.17h-1.86zM124.9 268.34h1.86v18.17h-1.86zM148.37 268.34h1.86v18.17h-1.86zM151.98 268.34h1.86v18.17h-1.86zM213.36 268.34h1.86v18.17h-1.86zM222.39 268.34h1.86v18.17h-1.86zM65.33 286.47h1.86v18.17h-1.86zM86.99 286.47h1.86v18.17h-1.86zM90.6 286.47h1.86v18.17h-1.86zM108.65 286.47h1.86v18.17h-1.86zM124.9 286.47h1.86v18.17h-1.86zM130.32 286.47h1.86v18.17h-1.86zM58.11 304.59h1.86v18.17h-1.86zM67.13 304.59h1.86v18.17h-1.86zM79.77 304.59h1.86v18.17h-1.86zM115.88 304.59h1.86v18.17h-1.86zM58.11 322.71h1.86v18.17h-1.86zM65.33 322.71h1.86v18.17h-1.86zM81.57 322.71h1.86v18.17h-1.86zM94.21 322.71h1.86v18.17h-1.86zM96.02 322.71h1.86v18.17h-1.86zM97.82 322.71h1.86v18.17h-1.86zM117.68 322.71h1.86v18.17h-1.86zM119.49 322.71h1.86v18.17h-1.86zM123.1 322.71h1.86v18.17h-1.86zM148.37 322.71h1.86v18.17h-1.86zM151.98 322.71h1.86v18.17h-1.86zM162.81 322.71h1.86v18.17h-1.86zM218.78 322.71h1.86v18.17h-1.86zM61.72 340.83h1.86v18.17h-1.86zM65.33 340.83h1.86v18.17h-1.86zM76.16 340.83h1.86v18.17h-1.86zM90.6 340.83h1.86v18.17h-1.86zM119.49 340.83h1.86v18.17h-1.86zM142.96 340.83h1.86v18.17h-1.86zM213.36 340.83h1.86v18.17h-1.86zM65.33 358.95h1.86v18.17h-1.86zM67.13 358.95h1.86v18.17h-1.86zM76.16 358.95h1.86v18.17h-1.86zM86.99 358.95h1.86v18.17h-1.86zM92.41 358.95h1.86v18.17h-1.86zM119.49 358.95h1.86v18.17h-1.86zM213.36 358.95h1.86v18.17h-1.86zM224.19 358.95h1.86v18.17h-1.86zM65.33 377.07h1.86v18.17h-1.86zM68.94 377.07h1.86v18.17h-1.86zM76.16 377.07h1.86v18.17h-1.86zM79.77 377.07h1.86v18.17h-1.86zM112.26 377.07h1.86v18.17h-1.86zM114.07 377.07h1.86v18.17h-1.86zM119.49 377.07h1.86v18.17h-1.86zM123.1 377.07h1.86v18.17h-1.86zM61.72 395.19h1.86v18.17h-1.86zM63.52 395.19h1.86v18.17h-1.86zM65.33 395.19h1.86v18.17h-1.86zM68.94 395.19h1.86v18.17h-1.86zM74.35 395.19h1.86v18.17h-1.86zM97.82 395.19h1.86v18.17h-1.86zM114.07 395.19h1.86v18.17h-1.86zM141.15 395.19h1.86v18.17h-1.86zM173.65 395.19h1.86v18.17h-1.86zM67.13 413.31h1.86v18.17h-1.86zM79.77 413.31h1.86v18.17h-1.86zM110.46 413.31h1.86v18.17h-1.86zM130.32 413.31h1.86v18.17h-1.86zM144.76 413.31h1.86v18.17h-1.86zM151.98 413.31h1.86v18.17h-1.86zM74.35 431.43h1.86v18.17h-1.86zM115.88 431.43h1.86v18.17h-1.86zM117.68 431.43h1.86v18.17h-1.86zM151.98 431.43h1.86v18.17h-1.86zM213.36 431.43h1.86v18.17h-1.86zM59.91 449.55h1.86v18.17h-1.86zM63.52 449.55h1.86v18.17h-1.86zM68.94 449.55h1.86v18.17h-1.86zM76.16 449.55h1.86v18.17h-1.86zM77.96 449.55h1.86v18.17h-1.86zM81.57 449.55h1.86v18.17h-1.86zM108.65 449.55h1.86v18.17h-1.86zM114.07 449.55h1.86v18.17h-1.86zM115.88 449.55h1.86v18.17h-1.86zM68.94 467.67h1.86v18.17h-1.86zM81.57 467.67h1.86v18.17h-1.86zM105.04 467.67h1.86v18.17h-1.86zM108.65 467.67h1.86v18.17h-1.86zM117.68 467.67h1.86v18.17h-1.86zM119.49 467.67h1.86v18.17h-1.86zM130.32 467.67h1.86v18.17h-1.86zM148.37 467.67h1.86v18.17h-1.86zM151.98 467.67h1.86v18.17h-1.86zM179.06 467.67h1.86v18.17h-1.86zM63.52 485.79h1.86v18.17h-1.86zM68.94 485.79h1.86v18.17h-1.86zM112.26 485.79h1.86v18.17h-1.86zM117.68 485.79h1.86v18.17h-1.86zM58.11 503.91h1.86v18.17h-1.86zM59.91 503.91h1.86v18.17h-1.86zM61.72 503.91h1.86v18.17h-1.86zM81.57 503.91h1.86v18.17h-1.86zM92.41 503.91h1.86v18.17h-1.86zM119.49 503.91h1.86v18.17h-1.86zM123.1 503.91h1.86v18.17h-1.86zM142.96 503.91h1.86v18.17h-1.86zM94.21 522.03h1.86v18.17h-1.86zM115.88 522.03h1.86v18.17h-1.86zM146.57 522.03h1.86v18.17h-1.86zM65.33 540.15h1.86v18.17h-1.86zM90.6 540.15h1.86v18.17h-1.86zM123.1 540.15h1.86v18.17h-1.86zM144.76 540.15h1.86v18.17h-1.86zM148.37 540.15h1.86v18.17h-1.86zM224.19 540.15h1.86v18.17h-1.86zM114.07 558.27h1.86v18.17h-1.86zM124.9 558.27h1.86v18.17h-1.86zM148.37 558.27h1.86v18.17h-1.86zM170.04 558.27h1.86v18.17h-1.86zM65.33 576.39h1.86v18.17h-1.86zM67.13 576.39h1.86v18.17h-1.86zM68.94 576.39h1.86v18.17h-1.86zM74.35 576.39h1.86v18.17h-1.86zM85.19 576.39h1.86v18.17h-1.86zM92.41 576.39h1.86v18.17h-1.86zM97.82 576.39h1.86v18.17h-1.86zM119.49 576.39h1.86v18.17h-1.86zM142.96 576.39h1.86v18.17h-1.86zM213.36 576.39h1.86v18.17h-1.86zM59.91 594.51h1.86v18.17h-1.86zM79.77 594.51h1.86v18.17h-1.86zM114.07 594.51h1.86v18.17h-1.86zM119.49 594.51h1.86v18.17h-1.86zM142.96 594.51h1.86v18.17h-1.86zM180.87 594.51h1.86v18.17h-1.86zM202.53 594.51h1.86v18.17h-1.86zM204.34 594.51h1.86v18.17h-1.86zM222.39 594.51h1.86v18.17h-1.86zM61.72 612.63h1.86v18.17h-1.86zM74.35 612.63h1.86v18.17h-1.86zM76.16 612.63h1.86v18.17h-1.86zM79.77 612.63h1.86v18.17h-1.86zM86.99 612.63h1.86v18.17h-1.86zM97.82 612.63h1.86v18.17h-1.86zM108.65 612.63h1.86v18.17h-1.86zM115.88 612.63h1.86v18.17h-1.86zM128.51 612.63h1.86v18.17h-1.86zM144.76 612.63h1.86v18.17h-1.86zM146.57 612.63h1.86v18.17h-1.86zM224.19 612.63h1.86v18.17h-1.86zM58.11 630.75h1.86v18.17h-1.86zM68.94 630.75h1.86v18.17h-1.86zM74.35 630.75h1.86v18.17h-1.86zM92.41 630.75h1.86v18.17h-1.86zM114.07 630.75h1.86v18.17h-1.86zM115.88 630.75h1.86v18.17h-1.86zM124.9 630.75h1.86v18.17h-1.86zM130.32 630.75h1.86v18.17h-1.86zM146.57 630.75h1.86v18.17h-1.86zM67.13 648.87h1.86v18.17h-1.86zM76.16 648.87h1.86v18.17h-1.86zM115.88 648.87h1.86v18.17h-1.86zM151.98 648.87h1.86v18.17h-1.86zM182.67 648.87h1.86v18.17h-1.86zM61.72 666.99h1.86v18.17h-1.86zM76.16 666.99h1.86v18.17h-1.86zM90.6 666.99h1.86v18.17h-1.86zM92.41 666.99h1.86v18.17h-1.86zM97.82 666.99h1.86v18.17h-1.86zM103.24 666.99h1.86v18.17h-1.86zM117.68 666.99h1.86v18.17h-1.86zM119.49 666.99h1.86v18.17h-1.86zM130.32 666.99h1.86v18.17h-1.86zM135.73 666.99h1.86v18.17h-1.86zM63.52 685.11h1.86v18.17h-1.86zM77.96 685.11h1.86v18.17h-1.86zM114.07 685.11h1.86v18.17h-1.86zM119.49 685.11h1.86v18.17h-1.86zM128.51 685.11h1.86v18.17h-1.86zM146.57 685.11h1.86v18.17h-1.86zM162.81 685.11h1.86v18.17h-1.86zM182.67 685.11h1.86v18.17h-1.86zM65.33 703.23h1.86v18.17h-1.86zM67.13 703.23h1.86v18.17h-1.86zM74.35 703.23h1.86v18.17h-1.86zM88.8 703.23h1.86v18.17h-1.86zM114.07 703.23h1.86v18.17h-1.86zM146.57 703.23h1.86v18.17h-1.86zM150.18 703.23h1.86v18.17h-1.86zM170.04 703.23h1.86v18.17h-1.86zM68.94 721.36h1.86v18.17h-1.86zM88.8 721.36h1.86v18.17h-1.86zM97.82 721.36h1.86v18.17h-1.86zM114.07 721.36h1.86v18.17h-1.86zM124.9 721.36h1.86v18.17h-1.86zM128.51 721.36h1.86v18.17h-1.86zM148.37 721.36h1.86v18.17h-1.86zM184.48 721.36h1.86v18.17h-1.86zM58.11 739.48h1.86v18.17h-1.86zM59.91 739.48h1.86v18.17h-1.86zM76.16 739.48h1.86v18.17h-1.86zM77.96 739.48h1.86v18.17h-1.86zM88.8 739.48h1.86v18.17h-1.86zM92.41 739.48h1.86v18.17h-1.86zM117.68 739.48h1.86v18.17h-1.86zM124.9 739.48h1.86v18.17h-1.86zM141.15 739.48h1.86v18.17h-1.86zM155.59 739.48h1.86v18.17h-1.86zM204.34 739.48h1.86v18.17h-1.86zM67.13 757.6h1.86v18.17h-1.86zM76.16 757.6h1.86v18.17h-1.86zM81.57 757.6h1.86v18.17h-1.86zM86.99 757.6h1.86v18.17h-1.86zM88.8 757.6h1.86v18.17h-1.86zM108.65 757.6h1.86v18.17h-1.86zM151.98 757.6h1.86v18.17h-1.86zM68.94 775.72h1.86v18.17h-1.86zM77.96 775.72h1.86v18.17h-1.86zM103.24 775.72h1.86v18.17h-1.86zM108.65 775.72h1.86v18.17h-1.86zM110.46 775.72h1.86v18.17h-1.86zM114.07 775.72h1.86v18.17h-1.86zM123.1 775.72h1.86v18.17h-1.86zM142.96 775.72h1.86v18.17h-1.86zM146.57 775.72h1.86v18.17h-1.86zM63.52 793.84h1.86v18.17h-1.86zM77.96 793.84h1.86v18.17h-1.86zM79.77 793.84h1.86v18.17h-1.86zM86.99 793.84h1.86v18.17h-1.86zM92.41 793.84h1.86v18.17h-1.86zM108.65 793.84h1.86v18.17h-1.86zM119.49 793.84h1.86v18.17h-1.86zM141.15 793.84h1.86v18.17h-1.86zM182.67 793.84h1.86v18.17h-1.86zM58.11 811.96h1.86v18.17h-1.86zM74.35 811.96h1.86v18.17h-1.86zM77.96 811.96h1.86v18.17h-1.86zM90.6 811.96h1.86v18.17h-1.86zM92.41 811.96h1.86v18.17h-1.86zM103.24 811.96h1.86v18.17h-1.86zM150.18 811.96h1.86v18.17h-1.86zM151.98 811.96h1.86v18.17h-1.86zM59.91 830.08h1.86v18.17h-1.86zM119.49 830.08h1.86v18.17h-1.86zM124.9 830.08h1.86v18.17h-1.86zM148.37 830.08h1.86v18.17h-1.86zM56.3 848.2h1.86v18.17h-1.86zM86.99 848.2h1.86v18.17h-1.86zM92.41 848.2h1.86v18.17h-1.86zM106.85 848.2h1.86v18.17h-1.86zM110.46 848.2h1.86v18.17h-1.86zM115.88 848.2h1.86v18.17h-1.86zM150.18 848.2h1.86v18.17h-1.86zM184.48 848.2h1.86v18.17h-1.86zM56.3 866.32h1.86v18.17h-1.86zM58.11 866.32h1.86v18.17h-1.86zM63.52 866.32h1.86v18.17h-1.86zM85.19 866.32h1.86v18.17h-1.86zM88.8 866.32h1.86v18.17h-1.86zM117.68 866.32h1.86v18.17h-1.86zM119.49 866.32h1.86v18.17h-1.86zM124.9 866.32h1.86v18.17h-1.86zM151.98 866.32h1.86v18.17h-1.86zM182.67 866.32h1.86v18.17h-1.86zM61.72 884.44h1.86v18.17h-1.86zM76.16 884.44h1.86v18.17h-1.86zM79.77 884.44h1.86v18.17h-1.86zM108.65 884.44h1.86v18.17h-1.86zM130.32 884.44h1.86v18.17h-1.86zM182.67 884.44h1.86v18.17h-1.86zM213.36 884.44h1.86v18.17h-1.86zM59.91 902.56h1.86v18.17h-1.86zM67.13 902.56h1.86v18.17h-1.86zM77.96 902.56h1.86v18.17h-1.86zM86.99 902.56h1.86v18.17h-1.86zM97.82 902.56h1.86v18.17h-1.86zM108.65 902.56h1.86v18.17h-1.86zM148.37 902.56h1.86v18.17h-1.86zM63.52 920.68h1.86v18.17h-1.86zM68.94 920.68h1.86v18.17h-1.86zM92.41 920.68h1.86v18.17h-1.86zM97.82 920.68h1.86v18.17h-1.86zM108.65 920.68h1.86v18.17h-1.86zM112.26 920.68h1.86v18.17h-1.86zM124.9 920.68h1.86v18.17h-1.86z"/>
<path fill="#ffffff" d="M67.13 50.9h1.86v18.17h-1.86zM76.16 50.9h1.86v18.17h-1.86zM77.96 50.9h1.86v18.17h-1.86zM96.02 50.9h1.86v18.17h-1.86zM177.26 50.9h1.86v18.17h-1.86zM186.28 50.9h1.86v18.17h-1.86zM193.5 50.9h1.86v18.17h-1.86zM202.53 50.9h1.86v18.17h-1.86zM67.13 69.02h1.86v18.17h-1.86zM86.99 69.02h1.86v18.17h-1.86zM92.41 69.02h1.86v18.17h-1.86zM182.67 69.02h1.86v18.17h-1.86zM213.36 69.02h1.86v18.17h-1.86zM115.88 87.14h1.86v18.17h-1.86zM123.1 87.14h1.86v18.17h-1.86zM150.18 87.14h1.86v18.17h-1.86zM161.01 87.14h1.86v18.17h-1.86zM184.48 87.14h1.86v18.17h-1.86zM211.56 87.14h1.86v18.17h-1.86zM213.36 87.14h1.86v18.17h-1.86zM58.11 105.26h1.86v18.17h-1.86zM65.33 105.26h1.86v18.17h-1.86zM76.16 105.26h1.86v18.17h-1.86zM124.9 105.26h1.86v18.17h-1.86zM148.37 105.26h1.86v18.17h-1.86zM202.53 105.26h1.86v18.17h-1.86zM61.72 123.38h1.86v18.17h-1.86zM85.19 123.38h1.86v18.17h-1.86zM92.41 123.38h1.86v18.17h-1.86zM103.24 123.38h1.86v18.17h-1.86zM180.87 123.38h1.86v18.17h-1.86zM63.52 141.5h1.86v18.17h-1.86zM74.35 141.5h1.86v18.17h-1.86zM76.16 141.5h1.86v18.17h-1.86zM85.19 141.5h1.86v18.17h-1.86zM124.9 141.5h1.86v18.17h-1.86zM146.57 141.5h1.86v18.17h-1.86zM170.04 141.5h1.86v18.17h-1.86zM180.87 141.5h1.86v18.17h-1.86zM204.34 141.5h1.86v18.17h-1.86zM76.16 159.62h1.86v18.17h-1.86zM85.19 159.62h1.86v18.17h-1.86zM92.41 159.62h1.86v18.17h-1.86zM108.65 159.62h1.86v18.17h-1.86zM142.96 159.62h1.86v18.17h-1.86zM146.57 159.62h1.86v18.17h-1.86zM150.18 159.62h1.86v18.17h-1.86zM151.98 159.62h1.86v18.17h-1.86zM155.59 159.62h1.86v18.17h-1.86zM213.36 159.62h1.86v18.17h-1.86zM68.94 177.74h1.86v18.17h-1.86zM86.99 177.74h1.86v18.17h-1.86zM108.65 177.74h1.86v18.17h-1.86zM142.96 177.74h1.86v18.17h-1.86zM162.81 177.74h1.86v18.17h-1.86zM224.19 177.74h1.86v18.17h-1.86zM67.13 195.86h1.86v18.17h-1.86zM114.07 195.86h1.86v18.17h-1.86zM119.49 195.86h1.86v18.17h-1.86zM123.1 195.86h1.86v18.17h-1.86zM130.32 195.86h1.86v18.17h-1.86zM162.81 195.86h1.86v18.17h-1.86zM182.67 195.86h1.86v18.17h-1.86zM197.11 195.86h1.86v18.17h-1.86zM74.35 213.98h1.86v18.17h-1.86zM77.96 213.98h1.86v18.17h-1.86zM85.19 213.98h1.86v18.17h-1.86zM112.26 213.98h1.86v18.17h-1.86zM114.07 213.98h1.86v18.17h-1.86zM123.1 213.98h1.86v18.17h-1.86zM135.73 213.98h1.86v18.17h-1.86zM162.81 213.98h1.86v18.17h-1.86zM184.48 213.98h1.86v18.17h-1.86zM218.78 213.98h1.86v18.17h-1.86zM58.11 232.1h1.86v18.17h-1.86zM59.91 232.1h1.86v18.17h-1.86zM76.16 232.1h1.86v18.17h-1.86zM86.99 232.1h1.86v18.17h-1.86zM61.72 250.22h1.86v18.17h-1.86zM68.94 250.22h1.86v18.17h-1.86zM97.82 250.22h1.86v18.17h-1.86zM114.07 250.22h1.86v18.17h-1.86zM115.88 250.22h1.86v18.17h-1.86zM175.45 250.22h1.86v18.17h-1.86zM59.91 268.34h1.86v18.17h-1.86zM63.52 268.34h1.86v18.17h-1.86zM65.33 268.34h1.86v18.17h-1.86zM130.32 268.34h1.86v18.17h-1.86zM144.76 268.34h1.86v18.17h-1.86zM146.57 268.34h1.86v18.17h-1.86zM179.06 268.34h1.86v18.17h-1.86zM76.16 286.47h1.86v18.17h-1.86zM77.96 286.47h1.86v18.17h-1.86zM79.77 286.47h1.86v18.17h-1.86zM115.88 286.47h1.86v18.17h-1.86zM68.94 304.59h1.86v18.17h-1.86zM77.96 304.59h1.86v18.17h-1.86zM92.41 304.59h1.86v18.17h-1.86zM96.02 304.59h1.86v18.17h-1.86zM108.65 304.59h1.86v18.17h-1.86zM119.49 304.59h1.86v18.17h-1.86zM123.1 304.59h1.86v18.17h-1.86zM150.18 304.59h1.86v18.17h-1.86zM170.04 304.59h1.86v18.17h-1.86zM179.06 304.59h1.86v18.17h-1.86zM184.48 304.59h1.86v18.17h-1.86zM213.36 304.59h1.86v18.17h-1.86zM76.16 322.71h1.86v18.17h-1.86zM77.96 322.71h1.86v18.17h-1.86zM85.19 322.71h1.86v18.17h-1.86zM108.65 322.71h1.86v18.17h-1.86zM112.26 322.71h1.86v18.17h-1.86zM184.48 322.71h1.86v18.17h-1.86zM67.13 340.83h1.86v18.17h-1.86zM68.94 340.83h1.86v18.17h-1.86zM85.19 340.83h1.86v18.17h-1.86zM92.41 340.83h1.86v18.17h-1.86zM96.02 340.83h1.86v18.17h-1.86zM150.18 340.83h1.86v18.17h-1.86zM151.98 340.83h1.86v18.17h-1.86zM182.67 340.83h1.86v18.17h-1.86zM56.3 358.95h1.86v18.17h-1.86zM77.96 358.95h1.86v18.17h-1.86zM79.77 358.95h1.86v18.17h-1.86zM88.8 358.95h1.86v18.17h-1.86zM112.26 358.95h1.86v18.17h-1.86zM142.96 358.95h1.86v18.17h-1.86zM150.18 358.95h1.86v18.17h-1.86zM153.79 358.95h1.86v18.17h-1.86zM162.81 358.95h1.86v18.17h-1.86zM177.26 358.95h1.86v18.17h-1.86zM180.87 358.95h1.86v18.17h-1.86zM204.34 358.95h1.86v18.17h-1.86zM58.11 377.07h1.86v18.17h-1.86zM59.91 377.07h1.86v18.17h-1.86zM74.35 377.07h1.86v18.17h-1.86zM85.19 377.07h1.86v18.17h-1.86zM88.8 377.07h1.86v18.17h-1.86zM97.82 377.07h1.86v18.17h-1.86zM124.9 377.07h1.86v18.17h-1.86zM148.37 377.07h1.86v18.17h-1.86zM161.01 377.07h1.86v18.17h-1.86zM204.34 377.07h1.86v18.17h-1.86zM213.36 377.07h1.86v18.17h-1.86zM224.19 377.07h1.86v18.17h-1.86zM58.11 395.19h1.86v18.17h-1.86zM76.16 395.19h1.86v18.17h-1.86zM94.21 395.19h1.86v18.17h-1.86zM96.02 395.19h1.86v18.17h-1.86zM115.88 395.19h1.86v18.17h-1.86zM119.49 395.19h1.86v18.17h-1.86zM130.32 395.19h1.86v18.17h-1.86zM142.96 395.19h1.86v18.17h-1.86zM151.98 395.19h1.86v18.17h-1.86zM162.81 395.19h1.86v18.17h-1.86zM170.04 395.19h1.86v18.17h-1.86zM180.87 395.19h1.86v18.17h-1.86zM202.53 395.19h1.86v18.17h-1.86zM211.56 395.19h1.86v18.17h-1.86zM213.36 395.19h1.86v18.17h-1.86zM218.78 395.19h1.86v18.17h-1.86zM59.91 413.31h1.86v18.17h-1.86zM76.16 413.31h1.86v18.17h-1.86zM92.41 413.31h1.86v18.17h-1.86zM150.18 413.31h1.86v18.17h-1.86zM182.67 413.31h1.86v18.17h-1.86zM224.19 413.31h1.86v18.17h-1.86zM68.94 431.43h1.86v18.17h-1.86zM79.77 431.43h1.86v18.17h-1.86zM85.19 431.43h1.86v18.17h-1.86zM148.37 431.43h1.86v18.17h-1.86zM150.18 431.43h1.86v18.17h-1.86zM182.67 431.43h1.86v18.17h-1.86zM189.89 431.43h1.86v18.17h-1.86zM220.58 431.43h1.86v18.17h-1.86zM224.19 431.43h1.86v18.17h-1.86zM85.19 449.55h1.86v18.17h-1.86zM88.8 449.55h1.86v18.17h-1.86zM92.41 449.55h1.86v18.17h-1.86zM112.26 449.55h1.86v18.17h-1.86zM142.96 449.55h1.86v18.17h-1.86zM170.04 449.55h1.86v18.17h-1.86zM213.36 449.55h1.86v18.17h-1.86zM65.33 467.67h1.86v18.17h-1.86zM76.16 467.67h1.86v18.17h-1.86zM77.96 467.67h1.86v18.17h-1.86zM92.41 467.67h1.86v18.17h-1.86zM97.82 467.67h1.86v18.17h-1.86zM114.07 467.67h1.86v18.17h-1.86zM115.88 467.67h1.86v18.17h-1.86zM153.79 467.67h1.86v18.17h-1.86zM162.81 467.67h1.86v18.17h-1.86zM182.67 467.67h1.86v18.17h-1.86zM213.36 467.67h1.86v18.17h-1.86zM85.19 485.79h1.86v18.17h-1.86zM108.65 485.79h1.86v18.17h-1.86zM179.06 485.79h1.86v18.17h-1.86zM56.3 503.91h1.86v18.17h-1.86zM67.13 503.91h1.86v18.17h-1.86zM68.94 503.91h1.86v18.17h-1.86zM74.35 503.91h1.86v18.17h-1.86zM97.82 503.91h1.86v18.17h-1.86zM115.88 503.91h1.86v18.17h-1.86zM151.98 503.91h1.86v18.17h-1.86zM182.67 503.91h1.86v18.17h-1.86zM186.28 503.91h1.86v18.17h-1.86zM204.34 503.91h1.86v18.17h-1.86zM218.78 503.91h1.86v18.17h-1.86zM150.18 522.03h1.86v18.17h-1.86zM166.42 522.03h1.86v18.17h-1.86zM182.67 522.03h1.86v18.17h-1.86zM222.39 522.03h1.86v18.17h-1.86zM76.16 540.15h1.86v18.17h-1.86zM77.96 540.15h1.86v18.17h-1.86zM81.57 540.15h1.86v18.17h-1.86zM85.19 540.15h1.86v18.17h-1.86zM86.99 540.15h1.86v18.17h-1.86zM97.82 540.15h1.86v18.17h-1.86zM103.24 540.15h1.86v18.17h-1.86zM119.49 540.15h1.86v18.17h-1.86zM150.18 540.15h1.86v18.17h-1.86zM184.48 540.15h1.86v18.17h-1.86zM74.35 558.27h1.86v18.17h-1.86zM85.19 558.27h1.86v18.17h-1.86zM150.18 558.27h1.86v18.17h-1.86zM151.98 558.27h1.86v18.17h-1.86zM182.67 558.27h1.86v18.17h-1.86zM198.92 558.27h1.86v18.17h-1.86zM76.16 576.39h1.86v18.17h-1.86zM114.07 576.39h1.86v18.17h-1.86zM115.88 576.39h1.86v18.17h-1.86zM124.9 576.39h1.86v18.17h-1.86zM151.98 576.39h1.86v18.17h-1.86zM202.53 576.39h1.86v18.17h-1.86zM74.35 594.51h1.86v18.17h-1.86zM77.96 594.51h1.86v18.17h-1.86zM86.99 594.51h1.86v18.17h-1.86zM88.8 594.51h1.86v18.17h-1.86zM108.65 594.51h1.86v18.17h-1.86zM112.26 594.51h1.86v18.17h-1.86zM115.88 594.51h1.86v18.17h-1.86zM123.1 594.51h1.86v18.17h-1.86zM124.9 594.51h1.86v18.17h-1.86zM168.23 594.51h1.86v18.17h-1.86zM179.06 594.51h1.86v18.17h-1.86zM182.67 594.51h1.86v18.17h-1.86zM224.19 594.51h1.86v18.17h-1.86zM90.6 612.63h1.86v18.17h-1.86zM96.02 612.63h1.86v18.17h-1.86zM112.26 612.63h1.86v18.17h-1.86zM119.49 612.63h1.86v18.17h-1.86zM135.73 612.63h1.86v18.17h-1.86zM151.98 612.63h1.86v18.17h-1.86zM162.81 612.63h1.86v18.17h-1.86zM59.91 630.75h1.86v18.17h-1.86zM77.96 630.75h1.86v18.17h-1.86zM85.19 630.75h1.86v18.17h-1.86zM119.49 630.75h1.86v18.17h-1.86zM123.1 630.75h1.86v18.17h-1.86zM148.37 630.75h1.86v18.17h-1.86zM184.48 630.75h1.86v18.17h-1.86zM74.35 648.87h1.86v18.17h-1.86zM77.96 648.87h1.86v18.17h-1.86zM85.19 648.87h1.86v18.17h-1.86zM92.41 648.87h1.86v18.17h-1.86zM94.21 648.87h1.86v18.17h-1.86zM124.9 648.87h1.86v18.17h-1.86zM142.96 648.87h1.86v18.17h-1.86zM58.11 666.99h1.86v18.17h-1.86zM65.33 666.99h1.86v18.17h-1.86zM79.77 666.99h1.86v18.17h-1.86zM112.26 666.99h1.86v18.17h-1.86zM124.9 666.99h1.86v18.17h-1.86zM146.57 666.99h1.86v18.17h-1.86zM151.98 666.99h1.86v18.17h-1.86zM155.59 666.99h1.86v18.17h-1.86zM177.26 666.99h1.86v18.17h-1.86zM197.11 666.99h1.86v18.17h-1.86zM204.34 666.99h1.86v18.17h-1.86zM209.75 666.99h1.86v18.17h-1.86zM218.78 666.99h1.86v18.17h-1.86zM220.58 666.99h1.86v18.17h-1.86zM222.39 666.99h1.86v18.17h-1.86zM61.72 685.11h1.86v18.17h-1.86zM68.94 685.11h1.86v18.17h-1.86zM76.16 685.11h1.86v18.17h-1.86zM86.99 685.11h1.86v18.17h-1.86zM103.24 685.11h1.86v18.17h-1.86zM108.65 685.11h1.86v18.17h-1.86zM112.26 685.11h1.86v18.17h-1.86zM123.1 685.11h1.86v18.17h-1.86zM148.37 685.11h1.86v18.17h-1.86zM177.26 685.11h1.86v18.17h-1.86zM222.39 685.11h1.86v18.17h-1.86zM76.16 703.23h1.86v18.17h-1.86zM92.41 703.23h1.86v18.17h-1.86zM94.21 703.23h1.86v18.17h-1.86zM97.82 703.23h1.86v18.17h-1.86zM115.88 703.23h1.86v18.17h-1.86zM130.32 703.23h1.86v18.17h-1.86zM213.36 703.23h1.86v18.17h-1.86zM222.39 703.23h1.86v18.17h-1.86zM224.19 703.23h1.86v18.17h-1.86zM59.91 721.36h1.86v18.17h-1.86zM103.24 721.36h1.86v18.17h-1.86zM112.26 721.36h1.86v18.17h-1.86zM115.88 721.36h1.86v18.17h-1.86zM81.57 739.48h1.86v18.17h-1.86zM115.88 739.48h1.86v18.17h-1.86zM184.48 739.48h1.86v18.17h-1.86zM58.11 757.6h1.86v18.17h-1.86zM63.52 757.6h1.86v18.17h-1.86zM77.96 757.6h1.86v18.17h-1.86zM79.77 757.6h1.86v18.17h-1.86zM92.41 757.6h1.86v18.17h-1.86zM115.88 757.6h1.86v18.17h-1.86zM124.9 757.6h1.86v18.17h-1.86zM148.37 757.6h1.86v18.17h-1.86zM150.18 757.6h1.86v18.17h-1.86zM224.19 757.6h1.86v18.17h-1.86zM76.16 775.72h1.86v18.17h-1.86zM96.02 775.72h1.86v18.17h-1.86zM105.04 775.72h1.86v18.17h-1.86zM119.49 775.72h1.86v18.17h-1.86zM155.59 775.72h1.86v18.17h-1.86zM162.81 775.72h1.86v18.17h-1.86zM197.11 775.72h1.86v18.17h-1.86zM204.34 775.72h1.86v18.17h-1.86zM65.33 793.84h1.86v18.17h-1.86zM68.94 793.84h1.86v18.17h-1.86zM96.02 793.84h1.86v18.17h-1.86zM115.88 793.84h1.86v18.17h-1.86zM224.19 793.84h1.86v18.17h-1.86zM59.91 811.96h1.86v18.17h-1.86zM115.88 811.96h1.86v18.17h-1.86zM123.1 811.96h1.86v18.17h-1.86zM182.67 811.96h1.86v18.17h-1.86zM74.35 830.08h1.86v18.17h-1.86zM94.21 830.08h1.86v18.17h-1.86zM170.04 830.08h1.86v18.17h-1.86zM197.11 830.08h1.86v18.17h-1.86zM213.36 830.08h1.86v18.17h-1.86zM65.33 848.2h1.86v18.17h-1.86zM68.94 848.2h1.86v18.17h-1.86zM94.21 848.2h1.86v18.17h-1.86zM59.91 866.32h1.86v18.17h-1.86zM65.33 866.32h1.86v18.17h-1.86zM67.13 866.32h1.86v18.17h-1.86zM68.94 866.32h1.86v18.17h-1.86zM74.35 866.32h1.86v18.17h-1.86zM81.57 866.32h1.86v18.17h-1.86zM86.99 866.32h1.86v18.17h-1.86zM97.82 866.32h1.86v18.17h-1.86zM112.26 866.32h1.86v18.17h-1.86zM146.57 866.32h1.86v18.17h-1.86zM148.37 866.32h1.86v18.17h-1.86zM184.48 866.32h1.86v18.17h-1.86zM188.09 866.32h1.86v18.17h-1.86zM59.91 884.44h1.86v18.17h-1.86zM65.33 884.44h1.86v18.17h-1.86zM74.35 884.44h1.86v18.17h-1.86zM77.96 884.44h1.86v18.17h-1.86zM85.19 884.44h1.86v18.17h-1.86zM92.41 884.44h1.86v18.17h-1.86zM112.26 884.44h1.86v18.17h-1.86zM114.07 884.44h1.86v18.17h-1.86zM117.68 884.44h1.86v18.17h-1.86zM123.1 884.44h1.86v18.17h-1.86zM148.37 884.44h1.86v18.17h-1.86zM151.98 884.44h1.86v18.17h-1.86zM179.06 884.44h1.86v18.17h-1.86zM195.31 884.44h1.86v18.17h-1.86zM63.52 902.56h1.86v18.17h-1.86zM65.33 902.56h1.86v18.17h-1.86zM74.35 902.56h1.86v18.17h-1.86zM88.8 902.56h1.86v18.17h-1.86zM124.9 902.56h1.86v18.17h-1.86zM142.96 902.56h1.86v18.17h-1.86zM179.06 902.56h1.86v18.17h-1.86zM213.36 902.56h1.86v18.17h-1.86zM79.77 920.68h1.86v18.17h-1.86zM115.88 920.68h1.86v18.17h-1.86zM123.1 920.68h1.86v18.17h-1.86zM142.96 920.68h1.86v18.17h-1.86zM162.81 920.68h1.86v18.17h-1.86zM213.36 920.68h1.86v18.17h-1.86z"/>
<path fill="#ffeaea" d="M58.11 50.9h1.86v18.17h-1.86zM59.91 50.9h1.86v18.17h-1.86zM68.94 50.9h1.86v18.17h-1.86zM79.77 50.9h1.86v18.17h-1.86zM115.88 50.9h1.86v18.17h-1.86zM142.96 50.9h1.86v18.17h-1.86zM168.23 50.9h1.86v18.17h-1.86zM173.65 50.9h1.86v18.17h-1.86zM189.89 50.9h1.86v18.17h-1.86zM207.95 50.9h1.86v18.17h-1.86zM224.19 50.9h1.86v18.17h-1.86zM85.19 69.02h1.86v18.17h-1.86zM94.21 69.02h1.86v18.17h-1.86zM180.87 69.02h1.86v18.17h-1.86zM184.48 69.02h1.86v18.17h-1.86zM188.09 69.02h1.86v18.17h-1.86zM202.53 69.02h1.86v18.17h-1.86zM224.19 69.02h1.86v18.17h-1.86zM65.33 87.14h1.86v18.17h-1.86zM94.21 87.14h1.86v18.17h-1.86zM124.9 87.14h1.86v18.17h-1.86zM146.57 87.14h1.86v18.17h-1.86zM151.98 87.14h1.86v18.17h-1.86zM155.59 87.14h1.86v18.17h-1.86zM170.04 87.14h1.86v18.17h-1.86zM173.65 87.14h1.86v18.17h-1.86zM182.67 87.14h1.86v18.17h-1.86zM202.53 87.14h1.86v18.17h-1.86zM224.19 87.14h1.86v18.17h-1.86zM67.13 105.26h1.86v18.17h-1.86zM68.94 105.26h1.86v18.17h-1.86zM85.19 105.26h1.86v18.17h-1.86zM94.21 105.26h1.86v18.17h-1.86zM112.26 105.26h1.86v18.17h-1.86zM123.1 105.26h1.86v18.17h-1.86zM153.79 105.26h1.86v18.17h-1.86zM180.87 105.26h1.86v18.17h-1.86zM186.28 105.26h1.86v18.17h-1.86zM115.88 123.38h1.86v18.17h-1.86zM150.18 123.38h1.86v18.17h-1.86zM151.98 123.38h1.86v18.17h-1.86zM159.2 123.38h1.86v18.17h-1.86zM161.01 123.38h1.86v18.17h-1.86zM182.67 123.38h1.86v18.17h-1.86zM184.48 123.38h1.86v18.17h-1.86zM94.21 141.5h1.86v18.17h-1.86zM148.37 141.5h1.86v18.17h-1.86zM191.7 141.5h1.86v18.17h-1.86zM213.36 141.5h1.86v18.17h-1.86zM59.91 159.62h1.86v18.17h-1.86zM94.21 159.62h1.86v18.17h-1.86zM115.88 159.62h1.86v18.17h-1.86zM123.1 159.62h1.86v18.17h-1.86zM166.42 159.62h1.86v18.17h-1.86zM170.04 159.62h1.86v18.17h-1.86zM171.84 159.62h1.86v18.17h-1.86zM179.06 159.62h1.86v18.17h-1.86zM186.28 159.62h1.86v18.17h-1.86zM191.7 159.62h1.86v18.17h-1.86zM197.11 159.62h1.86v18.17h-1.86zM224.19 159.62h1.86v18.17h-1.86zM85.19 177.74h1.86v18.17h-1.86zM124.9 177.74h1.86v18.17h-1.86zM150.18 177.74h1.86v18.17h-1.86zM151.98 177.74h1.86v18.17h-1.86zM170.04 177.74h1.86v18.17h-1.86zM180.87 177.74h1.86v18.17h-1.86zM184.48 177.74h1.86v18.17h-1.86zM207.95 177.74h1.86v18.17h-1.86zM68.94 195.86h1.86v18.17h-1.86zM77.96 195.86h1.86v18.17h-1.86zM96.02 195.86h1.86v18.17h-1.86zM115.88 195.86h1.86v18.17h-1.86zM124.9 195.86h1.86v18.17h-1.86zM142.96 195.86h1.86v18.17h-1.86zM155.59 195.86h1.86v18.17h-1.86zM175.45 195.86h1.86v18.17h-1.86zM184.48 195.86h1.86v18.17h-1.86zM202.53 195.86h1.86v18.17h-1.86zM204.34 195.86h1.86v18.17h-1.86zM209.75 195.86h1.86v18.17h-1.86zM67.13 213.98h1.86v18.17h-1.86zM79.77 213.98h1.86v18.17h-1.86zM94.21 213.98h1.86v18.17h-1.86zM96.02 213.98h1.86v18.17h-1.86zM151.98 213.98h1.86v18.17h-1.86zM164.62 213.98h1.86v18.17h-1.86zM168.23 213.98h1.86v18.17h-1.86zM182.67 213.98h1.86v18.17h-1.86zM193.5 213.98h1.86v18.17h-1.86zM202.53 213.98h1.86v18.17h-1.86zM204.34 213.98h1.86v18.17h-1.86zM96.02 232.1h1.86v18.17h-1.86zM161.01 232.1h1.86v18.17h-1.86zM162.81 232.1h1.86v18.17h-1.86zM184.48 232.1h1.86v18.17h-1.86zM204.34 232.1h1.86v18.17h-1.86zM220.58 232.1h1.86v18.17h-1.86zM224.19 232.1h1.86v18.17h-1.86zM74.35 250.22h1.86v18.17h-1.86zM151.98 250.22h1.86v18.17h-1.86zM213.36 250.22h1.86v18.17h-1.86zM224.19 250.22h1.86v18.17h-1.86zM77.96 268.34h1.86v18.17h-1.86zM92.41 268.34h1.86v18.17h-1.86zM94.21 268.34h1.86v18.17h-1.86zM97.82 268.34h1.86v18.17h-1.86zM115.88 268.34h1.86v18.17h-1.86zM142.96 268.34h1.86v18.17h-1.86zM155.59 268.34h1.86v18.17h-1.86zM162.81 268.34h1.86v18.17h-1.86zM170.04 268.34h1.86v18.17h-1.86zM175.45 268.34h1.86v18.17h-1.86zM184.48 268.34h1.86v18.17h-1.86zM204.34 268.34h1.86v18.17h-1.86zM207.95 268.34h1.86v18.17h-1.86zM220.58 268.34h1.86v18.17h-1.86zM68.94 286.47h1.86v18.17h-1.86zM85.19 286.47h1.86v18.17h-1.86zM94.21 286.47h1.86v18.17h-1.86zM148.37 286.47h1.86v18.17h-1.86zM150.18 286.47h1.86v18.17h-1.86zM155.59 286.47h1.86v18.17h-1.86zM182.67 286.47h1.86v18.17h-1.86zM186.28 286.47h1.86v18.17h-1.86zM193.5 286.47h1.86v18.17h-1.86zM204.34 286.47h1.86v18.17h-1.86zM213.36 286.47h1.86v18.17h-1.86zM218.78 286.47h1.86v18.17h-1.86zM59.91 304.59h1.86v18.17h-1.86zM74.35 304.59h1.86v18.17h-1.86zM76.16 304.59h1.86v18.17h-1.86zM124.9 304.59h1.86v18.17h-1.86zM180.87 304.59h1.86v18.17h-1.86zM186.28 304.59h1.86v18.17h-1.86zM204.34 304.59h1.86v18.17h-1.86zM224.19 304.59h1.86v18.17h-1.86zM59.91 322.71h1.86v18.17h-1.86zM68.94 322.71h1.86v18.17h-1.86zM90.6 322.71h1.86v18.17h-1.86zM142.96 322.71h1.86v18.17h-1.86zM150.18 322.71h1.86v18.17h-1.86zM161.01 322.71h1.86v18.17h-1.86zM180.87 322.71h1.86v18.17h-1.86zM182.67 322.71h1.86v18.17h-1.86zM124.9 340.83h1.86v18.17h-1.86zM161.01 340.83h1.86v18.17h-1.86zM162.81 340.83h1.86v18.17h-1.86zM166.42 340.83h1.86v18.17h-1.86zM191.7 340.83h1.86v18.17h-1.86zM207.95 340.83h1.86v18.17h-1.86zM218.78 340.83h1.86v18.17h-1.86zM59.91 358.95h1.86v18.17h-1.86zM61.72 358.95h1.86v18.17h-1.86zM85.19 358.95h1.86v18.17h-1.86zM108.65 358.95h1.86v18.17h-1.86zM115.88 358.95h1.86v18.17h-1.86zM124.9 358.95h1.86v18.17h-1.86zM148.37 358.95h1.86v18.17h-1.86zM151.98 358.95h1.86v18.17h-1.86zM170.04 358.95h1.86v18.17h-1.86zM171.84 358.95h1.86v18.17h-1.86zM179.06 358.95h1.86v18.17h-1.86zM189.89 358.95h1.86v18.17h-1.86zM198.92 358.95h1.86v18.17h-1.86zM207.95 358.95h1.86v18.17h-1.86zM150.18 377.07h1.86v18.17h-1.86zM151.98 377.07h1.86v18.17h-1.86zM155.59 377.07h1.86v18.17h-1.86zM171.84 377.07h1.86v18.17h-1.86zM180.87 377.07h1.86v18.17h-1.86zM184.48 377.07h1.86v18.17h-1.86zM186.28 377.07h1.86v18.17h-1.86zM202.53 377.07h1.86v18.17h-1.86zM209.75 377.07h1.86v18.17h-1.86zM108.65 395.19h1.86v18.17h-1.86zM124.9 395.19h1.86v18.17h-1.86zM146.57 395.19h1.86v18.17h-1.86zM148.37 395.19h1.86v18.17h-1.86zM153.79 395.19h1.86v18.17h-1.86zM155.59 395.19h1.86v18.17h-1.86zM171.84 395.19h1.86v18.17h-1.86zM182.67 395.19h1.86v18.17h-1.86zM184.48 395.19h1.86v18.17h-1.86zM207.95 395.19h1.86v18.17h-1.86zM74.35 413.31h1.86v18.17h-1.86zM77.96 413.31h1.86v18.17h-1.86zM96.02 413.31h1.86v18.17h-1.86zM124.9 413.31h1.86v18.17h-1.86zM170.04 413.31h1.86v18.17h-1.86zM175.45 413.31h1.86v18.17h-1.86zM179.06 413.31h1.86v18.17h-1.86zM180.87 413.31h1.86v18.17h-1.86zM213.36 413.31h1.86v18.17h-1.86zM222.39 413.31h1.86v18.17h-1.86zM76.16 431.43h1.86v18.17h-1.86zM90.6 431.43h1.86v18.17h-1.86zM92.41 431.43h1.86v18.17h-1.86zM124.9 431.43h1.86v18.17h-1.86zM170.04 431.43h1.86v18.17h-1.86zM173.65 431.43h1.86v18.17h-1.86zM179.06 431.43h1.86v18.17h-1.86zM180.87 431.43h1.86v18.17h-1.86zM184.48 431.43h1.86v18.17h-1.86zM198.92 431.43h1.86v18.17h-1.86zM207.95 431.43h1.86v18.17h-1.86zM58.11 449.55h1.86v18.17h-1.86zM124.9 449.55h1.86v18.17h-1.86zM151.98 449.55h1.86v18.17h-1.86zM218.78 449.55h1.86v18.17h-1.86zM224.19 449.55h1.86v18.17h-1.86zM59.91 467.67h1.86v18.17h-1.86zM85.19 467.67h1.86v18.17h-1.86zM142.96 467.67h1.86v18.17h-1.86zM146.57 467.67h1.86v18.17h-1.86zM170.04 467.67h1.86v18.17h-1.86zM175.45 467.67h1.86v18.17h-1.86zM222.39 467.67h1.86v18.17h-1.86zM224.19 467.67h1.86v18.17h-1.86zM124.9 485.79h1.86v18.17h-1.86zM150.18 485.79h1.86v18.17h-1.86zM162.81 485.79h1.86v18.17h-1.86zM180.87 485.79h1.86v18.17h-1.86zM224.19 485.79h1.86v18.17h-1.86zM65.33 503.91h1.86v18.17h-1.86zM94.21 503.91h1.86v18.17h-1.86zM124.9 503.91h1.86v18.17h-1.86zM146.57 503.91h1.86v18.17h-1.86zM148.37 503.91h1.86v18.17h-1.86zM150.18 503.91h1.86v18.17h-1.86zM162.81 503.91h1.86v18.17h-1.86zM171.84 503.91h1.86v18.17h-1.86zM184.48 503.91h1.86v18.17h-1.86zM195.31 503.91h1.86v18.17h-1.86zM197.11 503.91h1.86v18.17h-1.86zM207.95 503.91h1.86v18.17h-1.86zM213.36 503.91h1.86v18.17h-1.86zM224.19 503.91h1.86v18.17h-1.86zM148.37 522.03h1.86v18.17h-1.86zM170.04 522.03h1.86v18.17h-1.86zM179.06 522.03h1.86v18.17h-1.86zM213.36 522.03h1.86v18.17h-1.86zM59.91 540.15h1.86v18.17h-1.86zM79.77 540.15h1.86v18.17h-1.86zM92.41 540.15h1.86v18.17h-1.86zM94.21 540.15h1.86v18.17h-1.86zM108.65 540.15h1.86v18.17h-1.86zM112.26 540.15h1.86v18.17h-1.86zM114.07 540.15h1.86v18.17h-1.86zM115.88 540.15h1.86v18.17h-1.86zM117.68 540.15h1.86v18.17h-1.86zM124.9 540.15h1.86v18.17h-1.86zM142.96 540.15h1.86v18.17h-1.86zM177.26 540.15h1.86v18.17h-1.86zM179.06 540.15h1.86v18.17h-1.86zM180.87 540.15h1.86v18.17h-1.86zM186.28 540.15h1.86v18.17h-1.86zM197.11 540.15h1.86v18.17h-1.86zM202.53 540.15h1.86v18.17h-1.86zM206.14 540.15h1.86v18.17h-1.86zM213.36 540.15h1.86v18.17h-1.86zM76.16 558.27h1.86v18.17h-1.86zM115.88 558.27h1.86v18.17h-1.86zM180.87 558.27h1.86v18.17h-1.86zM213.36 558.27h1.86v18.17h-1.86zM218.78 558.27h1.86v18.17h-1.86zM224.19 558.27h1.86v18.17h-1.86zM59.91 576.39h1.86v18.17h-1.86zM161.01 576.39h1.86v18.17h-1.86zM170.04 576.39h1.86v18.17h-1.86zM179.06 576.39h1.86v18.17h-1.86zM204.34 576.39h1.86v18.17h-1.86zM220.58 576.39h1.86v18.17h-1.86zM222.39 576.39h1.86v18.17h-1.86zM76.16 594.51h1.86v18.17h-1.86zM90.6 594.51h1.86v18.17h-1.86zM94.21 594.51h1.86v18.17h-1.86zM130.32 594.51h1.86v18.17h-1.86zM151.98 594.51h1.86v18.17h-1.86zM162.81 594.51h1.86v18.17h-1.86zM164.62 594.51h1.86v18.17h-1.86zM166.42 594.51h1.86v18.17h-1.86zM184.48 594.51h1.86v18.17h-1.86zM211.56 594.51h1.86v18.17h-1.86zM216.97 594.51h1.86v18.17h-1.86zM218.78 594.51h1.86v18.17h-1.86zM220.58 594.51h1.86v18.17h-1.86zM65.33 612.63h1.86v18.17h-1.86zM68.94 612.63h1.86v18.17h-1.86zM124.9 612.63h1.86v18.17h-1.86zM142.96 612.63h1.86v18.17h-1.86zM148.37 612.63h1.86v18.17h-1.86zM161.01 612.63h1.86v18.17h-1.86zM166.42 612.63h1.86v18.17h-1.86zM171.84 612.63h1.86v18.17h-1.86zM173.65 612.63h1.86v18.17h-1.86zM175.45 612.63h1.86v18.17h-1.86zM195.31 612.63h1.86v18.17h-1.86zM213.36 612.63h1.86v18.17h-1.86zM218.78 612.63h1.86v18.17h-1.86zM222.39 612.63h1.86v18.17h-1.86zM76.16 630.75h1.86v18.17h-1.86zM86.99 630.75h1.86v18.17h-1.86zM94.21 630.75h1.86v18.17h-1.86zM161.01 630.75h1.86v18.17h-1.86zM162.81 630.75h1.86v18.17h-1.86zM171.84 630.75h1.86v18.17h-1.86zM218.78 630.75h1.86v18.17h-1.86zM220.58 630.75h1.86v18.17h-1.86zM224.19 630.75h1.86v18.17h-1.86zM162.81 648.87h1.86v18.17h-1.86zM173.65 648.87h1.86v18.17h-1.86zM175.45 648.87h1.86v18.17h-1.86zM179.06 648.87h1.86v18.17h-1.86zM67.13 666.99h1.86v18.17h-1.86zM68.94 666.99h1.86v18.17h-1.86zM77.96 666.99h1.86v18.17h-1.86zM96.02 666.99h1.86v18.17h-1.86zM108.65 666.99h1.86v18.17h-1.86zM110.46 666.99h1.86v18.17h-1.86zM142.96 666.99h1.86v18.17h-1.86zM148.37 666.99h1.86v18.17h-1.86zM150.18 666.99h1.86v18.17h-1.86zM162.81 666.99h1.86v18.17h-1.86zM170.04 666.99h1.86v18.17h-1.86zM175.45 666.99h1.86v18.17h-1.86zM182.67 666.99h1.86v18.17h-1.86zM186.28 666.99h1.86v18.17h-1.86zM193.5 666.99h1.86v18.17h-1.86zM202.53 666.99h1.86v18.17h-1.86zM213.36 666.99h1.86v18.17h-1.86zM59.91 685.11h1.86v18.17h-1.86zM65.33 685.11h1.86v18.17h-1.86zM74.35 685.11h1.86v18.17h-1.86zM92.41 685.11h1.86v18.17h-1.86zM94.21 685.11h1.86v18.17h-1.86zM115.88 685.11h1.86v18.17h-1.86zM142.96 685.11h1.86v18.17h-1.86zM150.18 685.11h1.86v18.17h-1.86zM170.04 685.11h1.86v18.17h-1.86zM173.65 685.11h1.86v18.17h-1.86zM179.06 685.11h1.86v18.17h-1.86zM180.87 685.11h1.86v18.17h-1.86zM184.48 685.11h1.86v18.17h-1.86zM202.53 685.11h1.86v18.17h-1.86zM224.19 685.11h1.86v18.17h-1.86zM77.96 703.23h1.86v18.17h-1.86zM85.19 703.23h1.86v18.17h-1.86zM121.29 703.23h1.86v18.17h-1.86zM180.87 703.23h1.86v18.17h-1.86zM191.7 703.23h1.86v18.17h-1.86zM202.53 703.23h1.86v18.17h-1.86zM67.13 721.36h1.86v18.17h-1.86zM77.96 721.36h1.86v18.17h-1.86zM79.77 721.36h1.86v18.17h-1.86zM96.02 721.36h1.86v18.17h-1.86zM150.18 721.36h1.86v18.17h-1.86zM155.59 721.36h1.86v18.17h-1.86zM162.81 721.36h1.86v18.17h-1.86zM211.56 721.36h1.86v18.17h-1.86zM86.99 739.48h1.86v18.17h-1.86zM114.07 739.48h1.86v18.17h-1.86zM142.96 739.48h1.86v18.17h-1.86zM151.98 739.48h1.86v18.17h-1.86zM153.79 739.48h1.86v18.17h-1.86zM189.89 739.48h1.86v18.17h-1.86zM202.53 739.48h1.86v18.17h-1.86zM211.56 739.48h1.86v18.17h-1.86zM213.36 739.48h1.86v18.17h-1.86zM222.39 739.48h1.86v18.17h-1.86zM74.35 757.6h1.86v18.17h-1.86zM94.21 757.6h1.86v18.17h-1.86zM96.02 757.6h1.86v18.17h-1.86zM142.96 757.6h1.86v18.17h-1.86zM177.26 757.6h1.86v18.17h-1.86zM182.67 757.6h1.86v18.17h-1.86zM191.7 757.6h1.86v18.17h-1.86zM193.5 757.6h1.86v18.17h-1.86zM202.53 757.6h1.86v18.17h-1.86zM67.13 775.72h1.86v18.17h-1.86zM79.77 775.72h1.86v18.17h-1.86zM94.21 775.72h1.86v18.17h-1.86zM117.68 775.72h1.86v18.17h-1.86zM148.37 775.72h1.86v18.17h-1.86zM153.79 775.72h1.86v18.17h-1.86zM161.01 775.72h1.86v18.17h-1.86zM180.87 775.72h1.86v18.17h-1.86zM182.67 775.72h1.86v18.17h-1.86zM189.89 775.72h1.86v18.17h-1.86zM193.5 775.72h1.86v18.17h-1.86zM202.53 775.72h1.86v18.17h-1.86zM211.56 775.72h1.86v18.17h-1.86zM224.19 775.72h1.86v18.17h-1.86zM94.21 793.84h1.86v18.17h-1.86zM97.82 793.84h1.86v18.17h-1.86zM150.18 793.84h1.86v18.17h-1.86zM161.01 793.84h1.86v18.17h-1.86zM162.81 793.84h1.86v18.17h-1.86zM202.53 793.84h1.86v18.17h-1.86zM213.36 793.84h1.86v18.17h-1.86zM67.13 811.96h1.86v18.17h-1.86zM76.16 811.96h1.86v18.17h-1.86zM124.9 811.96h1.86v18.17h-1.86zM155.59 811.96h1.86v18.17h-1.86zM159.2 811.96h1.86v18.17h-1.86zM177.26 811.96h1.86v18.17h-1.86zM180.87 811.96h1.86v18.17h-1.86zM186.28 811.96h1.86v18.17h-1.86zM204.34 811.96h1.86v18.17h-1.86zM224.19 811.96h1.86v18.17h-1.86zM58.11 830.08h1.86v18.17h-1.86zM76.16 830.08h1.86v18.17h-1.86zM85.19 830.08h1.86v18.17h-1.86zM184.48 830.08h1.86v18.17h-1.86zM224.19 830.08h1.86v18.17h-1.86zM96.02 848.2h1.86v18.17h-1.86zM124.9 848.2h1.86v18.17h-1.86zM142.96 848.2h1.86v18.17h-1.86zM151.98 848.2h1.86v18.17h-1.86zM162.81 848.2h1.86v18.17h-1.86zM170.04 848.2h1.86v18.17h-1.86zM175.45 848.2h1.86v18.17h-1.86zM198.92 848.2h1.86v18.17h-1.86zM204.34 848.2h1.86v18.17h-1.86zM209.75 848.2h1.86v18.17h-1.86zM213.36 848.2h1.86v18.17h-1.86zM224.19 848.2h1.86v18.17h-1.86zM99.63 866.32h1.86v18.17h-1.86zM115.88 866.32h1.86v18.17h-1.86zM123.1 866.32h1.86v18.17h-1.86zM142.96 866.32h1.86v18.17h-1.86zM150.18 866.32h1.86v18.17h-1.86zM161.01 866.32h1.86v18.17h-1.86zM197.11 866.32h1.86v18.17h-1.86zM202.53 866.32h1.86v18.17h-1.86zM211.56 866.32h1.86v18.17h-1.86zM218.78 866.32h1.86v18.17h-1.86zM58.11 884.44h1.86v18.17h-1.86zM68.94 884.44h1.86v18.17h-1.86zM96.02 884.44h1.86v18.17h-1.86zM115.88 884.44h1.86v18.17h-1.86zM124.9 884.44h1.86v18.17h-1.86zM150.18 884.44h1.86v18.17h-1.86zM162.81 884.44h1.86v18.17h-1.86zM193.5 884.44h1.86v18.17h-1.86zM197.11 884.44h1.86v18.17h-1.86zM204.34 884.44h1.86v18.17h-1.86zM209.75 884.44h1.86v18.17h-1.86zM211.56 884.44h1.86v18.17h-1.86zM222.39 884.44h1.86v18.17h-1.86zM224.19 884.44h1.86v18.17h-1.86zM58.11 902.56h1.86v18.17h-1.86zM85.19 902.56h1.86v18.17h-1.86zM94.21 902.56h1.86v18.17h-1.86zM119.49 902.56h1.86v18.17h-1.86zM123.1 902.56h1.86v18.17h-1.86zM170.04 902.56h1.86v18.17h-1.86zM173.65 902.56h1.86v18.17h-1.86zM204.34 902.56h1.86v18.17h-1.86zM209.75 902.56h1.86v18.17h-1.86zM218.78 902.56h1.86v18.17h-1.86zM224.19 902.56h1.86v18.17h-1.86zM150.18 920.68h1.86v18.17h-1.86zM151.98 920.68h1.86v18.17h-1.86zM182.67 920.68h1.86v18.17h-1.86zM202.53 920.68h1.86v18.17h-1.86zM207.95 920.68h1.86v18.17h-1.86zM209.75 920.68h1.86v18.17h-1.86zM218.78 920.68h1.86v18.17h-1.86zM222.39 920.68h1.86v18.17h-1.86z"/>
<path fill="#ffd4d4" d="M85.19 50.9h1.86v18.17h-1.86zM92.41 50.9h1.86v18.17h-1.86zM151.98 50.9h1.86v18.17h-1.86zM155.59 50.9h1.86v18.17h-1.86zM157.4 50.9h1.86v18.17h-1.86zM166.42 50.9h1.86v18.17h-1.86zM182.67 50.9h1.86v18.17h-1.86zM184.48 50.9h1.86v18.17h-1.86zM195.31 50.9h1.86v18.17h-1.86zM209.75 50.9h1.86v18.17h-1.86zM211.56 50.9h1.86v18.17h-1.86zM222.39 50.9h1.86v18.17h-1.86zM150.18 69.02h1.86v18.17h-1.86zM155.59 69.02h1.86v18.17h-1.86zM159.2 69.02h1.86v18.17h-1.86zM161.01 69.02h1.86v18.17h-1.86zM170.04 69.02h1.86v18.17h-1.86zM173.65 69.02h1.86v18.17h-1.86zM179.06 69.02h1.86v18.17h-1.86zM204.34 69.02h1.86v18.17h-1.86zM207.95 69.02h1.86v18.17h-1.86zM209.75 69.02h1.86v18.17h-1.86zM211.56 69.02h1.86v18.17h-1.86zM68.94 87.14h1.86v18.17h-1.86zM142.96 87.14h1.86v18.17h-1.86zM153.79 87.14h1.86v18.17h-1.86zM162.81 87.14h1.86v18.17h-1.86zM171.84 87.14h1.86v18.17h-1.86zM175.45 87.14h1.86v18.17h-1.86zM177.26 87.14h1.86v18.17h-1.86zM179.06 87.14h1.86v18.17h-1.86zM188.09 87.14h1.86v18.17h-1.86zM193.5 87.14h1.86v18.17h-1.86zM195.31 87.14h1.86v18.17h-1.86zM197.11 87.14h1.86v18.17h-1.86zM222.39 87.14h1.86v18.17h-1.86zM155.59 105.26h1.86v18.17h-1.86zM162.81 105.26h1.86v18.17h-1.86zM164.62 105.26h1.86v18.17h-1.86zM166.42 105.26h1.86v18.17h-1.86zM170.04 105.26h1.86v18.17h-1.86zM193.5 105.26h1.86v18.17h-1.86zM197.11 105.26h1.86v18.17h-1.86zM204.34 105.26h1.86v18.17h-1.86zM207.95 105.26h1.86v18.17h-1.86zM209.75 105.26h1.86v18.17h-1.86zM213.36 105.26h1.86v18.17h-1.86zM220.58 105.26h1.86v18.17h-1.86zM222.39 105.26h1.86v18.17h-1.86zM67.13 123.38h1.86v18.17h-1.86zM76.16 123.38h1.86v18.17h-1.86zM96.02 123.38h1.86v18.17h-1.86zM121.29 123.38h1.86v18.17h-1.86zM142.96 123.38h1.86v18.17h-1.86zM148.37 123.38h1.86v18.17h-1.86zM155.59 123.38h1.86v18.17h-1.86zM175.45 123.38h1.86v18.17h-1.86zM179.06 123.38h1.86v18.17h-1.86zM189.89 123.38h1.86v18.17h-1.86zM220.58 123.38h1.86v18.17h-1.86zM224.19 123.38h1.86v18.17h-1.86zM153.79 141.5h1.86v18.17h-1.86zM161.01 141.5h1.86v18.17h-1.86zM173.65 141.5h1.86v18.17h-1.86zM175.45 141.5h1.86v18.17h-1.86zM186.28 141.5h1.86v18.17h-1.86zM193.5 141.5h1.86v18.17h-1.86zM202.53 141.5h1.86v18.17h-1.86zM207.95 141.5h1.86v18.17h-1.86zM209.75 141.5h1.86v18.17h-1.86zM222.39 141.5h1.86v18.17h-1.86zM96.02 159.62h1.86v18.17h-1.86zM159.2 159.62h1.86v18.17h-1.86zM175.45 159.62h1.86v18.17h-1.86zM202.53 159.62h1.86v18.17h-1.86zM171.84 177.74h1.86v18.17h-1.86zM177.26 177.74h1.86v18.17h-1.86zM182.67 177.74h1.86v18.17h-1.86zM193.5 177.74h1.86v18.17h-1.86zM211.56 177.74h1.86v18.17h-1.86zM85.19 195.86h1.86v18.17h-1.86zM150.18 195.86h1.86v18.17h-1.86zM157.4 195.86h1.86v18.17h-1.86zM161.01 195.86h1.86v18.17h-1.86zM171.84 195.86h1.86v18.17h-1.86zM195.31 195.86h1.86v18.17h-1.86zM211.56 195.86h1.86v18.17h-1.86zM63.52 213.98h1.86v18.17h-1.86zM115.88 213.98h1.86v18.17h-1.86zM157.4 213.98h1.86v18.17h-1.86zM166.42 213.98h1.86v18.17h-1.86zM170.04 213.98h1.86v18.17h-1.86zM171.84 213.98h1.86v18.17h-1.86zM175.45 213.98h1.86v18.17h-1.86zM179.06 213.98h1.86v18.17h-1.86zM186.28 213.98h1.86v18.17h-1.86zM207.95 213.98h1.86v18.17h-1.86zM216.97 213.98h1.86v18.17h-1.86zM222.39 213.98h1.86v18.17h-1.86zM85.19 232.1h1.86v18.17h-1.86zM115.88 232.1h1.86v18.17h-1.86zM124.9 232.1h1.86v18.17h-1.86zM159.2 232.1h1.86v18.17h-1.86zM175.45 232.1h1.86v18.17h-1.86zM202.53 232.1h1.86v18.17h-1.86zM213.36 232.1h1.86v18.17h-1.86zM96.02 250.22h1.86v18.17h-1.86zM123.1 250.22h1.86v18.17h-1.86zM148.37 250.22h1.86v18.17h-1.86zM170.04 250.22h1.86v18.17h-1.86zM180.87 250.22h1.86v18.17h-1.86zM184.48 250.22h1.86v18.17h-1.86zM193.5 250.22h1.86v18.17h-1.86zM197.11 250.22h1.86v18.17h-1.86zM204.34 250.22h1.86v18.17h-1.86zM206.14 250.22h1.86v18.17h-1.86zM211.56 250.22h1.86v18.17h-1.86zM215.17 250.22h1.86v18.17h-1.86zM218.78 250.22h1.86v18.17h-1.86zM68.94 268.34h1.86v18.17h-1.86zM74.35 268.34h1.86v18.17h-1.86zM85.19 268.34h1.86v18.17h-1.86zM161.01 268.34h1.86v18.17h-1.86zM166.42 268.34h1.86v18.17h-1.86zM171.84 268.34h1.86v18.17h-1.86zM173.65 268.34h1.86v18.17h-1.86zM177.26 268.34h1.86v18.17h-1.86zM180.87 268.34h1.86v18.17h-1.86zM182.67 268.34h1.86v18.17h-1.86zM193.5 268.34h1.86v18.17h-1.86zM195.31 268.34h1.86v18.17h-1.86zM206.14 268.34h1.86v18.17h-1.86zM215.17 268.34h1.86v18.17h-1.86zM224.19 268.34h1.86v18.17h-1.86zM96.02 286.47h1.86v18.17h-1.86zM151.98 286.47h1.86v18.17h-1.86zM170.04 286.47h1.86v18.17h-1.86zM175.45 286.47h1.86v18.17h-1.86zM177.26 286.47h1.86v18.17h-1.86zM180.87 286.47h1.86v18.17h-1.86zM189.89 286.47h1.86v18.17h-1.86zM195.31 286.47h1.86v18.17h-1.86zM207.95 286.47h1.86v18.17h-1.86zM209.75 286.47h1.86v18.17h-1.86zM222.39 286.47h1.86v18.17h-1.86zM224.19 286.47h1.86v18.17h-1.86zM121.29 304.59h1.86v18.17h-1.86zM151.98 304.59h1.86v18.17h-1.86zM155.59 304.59h1.86v18.17h-1.86zM159.2 304.59h1.86v18.17h-1.86zM162.81 304.59h1.86v18.17h-1.86zM171.84 304.59h1.86v18.17h-1.86zM173.65 304.59h1.86v18.17h-1.86zM182.67 304.59h1.86v18.17h-1.86zM193.5 304.59h1.86v18.17h-1.86zM197.11 304.59h1.86v18.17h-1.86zM218.78 304.59h1.86v18.17h-1.86zM92.41 322.71h1.86v18.17h-1.86zM115.88 322.71h1.86v18.17h-1.86zM153.79 322.71h1.86v18.17h-1.86zM155.59 322.71h1.86v18.17h-1.86zM164.62 322.71h1.86v18.17h-1.86zM170.04 322.71h1.86v18.17h-1.86zM173.65 322.71h1.86v18.17h-1.86zM179.06 322.71h1.86v18.17h-1.86zM186.28 322.71h1.86v18.17h-1.86zM193.5 322.71h1.86v18.17h-1.86zM202.53 322.71h1.86v18.17h-1.86zM211.56 322.71h1.86v18.17h-1.86zM222.39 322.71h1.86v18.17h-1.86zM224.19 322.71h1.86v18.17h-1.86zM59.91 340.83h1.86v18.17h-1.86zM94.21 340.83h1.86v18.17h-1.86zM153.79 340.83h1.86v18.17h-1.86zM170.04 340.83h1.86v18.17h-1.86zM171.84 340.83h1.86v18.17h-1.86zM180.87 340.83h1.86v18.17h-1.86zM184.48 340.83h1.86v18.17h-1.86zM189.89 340.83h1.86v18.17h-1.86zM193.5 340.83h1.86v18.17h-1.86zM197.11 340.83h1.86v18.17h-1.86zM204.34 340.83h1.86v18.17h-1.86zM216.97 340.83h1.86v18.17h-1.86zM224.19 340.83h1.86v18.17h-1.86zM68.94 358.95h1.86v18.17h-1.86zM94.21 358.95h1.86v18.17h-1.86zM123.1 358.95h1.86v18.17h-1.86zM130.32 358.95h1.86v18.17h-1.86zM161.01 358.95h1.86v18.17h-1.86zM164.62 358.95h1.86v18.17h-1.86zM193.5 358.95h1.86v18.17h-1.86zM195.31 358.95h1.86v18.17h-1.86zM202.53 358.95h1.86v18.17h-1.86zM211.56 358.95h1.86v18.17h-1.86zM162.81 377.07h1.86v18.17h-1.86zM170.04 377.07h1.86v18.17h-1.86zM207.95 377.07h1.86v18.17h-1.86zM218.78 377.07h1.86v18.17h-1.86zM220.58 377.07h1.86v18.17h-1.86zM59.91 395.19h1.86v18.17h-1.86zM177.26 395.19h1.86v18.17h-1.86zM186.28 395.19h1.86v18.17h-1.86zM195.31 395.19h1.86v18.17h-1.86zM204.34 395.19h1.86v18.17h-1.86zM220.58 395.19h1.86v18.17h-1.86zM85.19 413.31h1.86v18.17h-1.86zM115.88 413.31h1.86v18.17h-1.86zM142.96 413.31h1.86v18.17h-1.86zM161.01 413.31h1.86v18.17h-1.86zM162.81 413.31h1.86v18.17h-1.86zM164.62 413.31h1.86v18.17h-1.86zM186.28 413.31h1.86v18.17h-1.86zM193.5 413.31h1.86v18.17h-1.86zM198.92 413.31h1.86v18.17h-1.86zM202.53 413.31h1.86v18.17h-1.86zM204.34 413.31h1.86v18.17h-1.86zM218.78 413.31h1.86v18.17h-1.86zM67.13 431.43h1.86v18.17h-1.86zM96.02 431.43h1.86v18.17h-1.86zM155.59 431.43h1.86v18.17h-1.86zM161.01 431.43h1.86v18.17h-1.86zM166.42 431.43h1.86v18.17h-1.86zM202.53 431.43h1.86v18.17h-1.86zM94.21 449.55h1.86v18.17h-1.86zM150.18 449.55h1.86v18.17h-1.86zM155.59 449.55h1.86v18.17h-1.86zM161.01 449.55h1.86v18.17h-1.86zM162.81 449.55h1.86v18.17h-1.86zM179.06 449.55h1.86v18.17h-1.86zM186.28 449.55h1.86v18.17h-1.86zM202.53 449.55h1.86v18.17h-1.86zM204.34 449.55h1.86v18.17h-1.86zM222.39 449.55h1.86v18.17h-1.86zM58.11 467.67h1.86v18.17h-1.86zM94.21 467.67h1.86v18.17h-1.86zM96.02 467.67h1.86v18.17h-1.86zM150.18 467.67h1.86v18.17h-1.86zM155.59 467.67h1.86v18.17h-1.86zM161.01 467.67h1.86v18.17h-1.86zM164.62 467.67h1.86v18.17h-1.86zM166.42 467.67h1.86v18.17h-1.86zM180.87 467.67h1.86v18.17h-1.86zM184.48 467.67h1.86v18.17h-1.86zM193.5 467.67h1.86v18.17h-1.86zM195.31 467.67h1.86v18.17h-1.86zM200.73 467.67h1.86v18.17h-1.86zM202.53 467.67h1.86v18.17h-1.86zM204.34 467.67h1.86v18.17h-1.86zM207.95 467.67h1.86v18.17h-1.86zM216.97 467.67h1.86v18.17h-1.86zM218.78 467.67h1.86v18.17h-1.86zM76.16 485.79h1.86v18.17h-1.86zM115.88 485.79h1.86v18.17h-1.86zM161.01 485.79h1.86v18.17h-1.86zM164.62 485.79h1.86v18.17h-1.86zM170.04 485.79h1.86v18.17h-1.86zM177.26 485.79h1.86v18.17h-1.86zM198.92 485.79h1.86v18.17h-1.86zM213.36 485.79h1.86v18.17h-1.86zM96.02 503.91h1.86v18.17h-1.86zM155.59 503.91h1.86v18.17h-1.86zM161.01 503.91h1.86v18.17h-1.86zM166.42 503.91h1.86v18.17h-1.86zM168.23 503.91h1.86v18.17h-1.86zM170.04 503.91h1.86v18.17h-1.86zM193.5 503.91h1.86v18.17h-1.86zM202.53 503.91h1.86v18.17h-1.86zM211.56 503.91h1.86v18.17h-1.86zM74.35 522.03h1.86v18.17h-1.86zM85.19 522.03h1.86v18.17h-1.86zM155.59 522.03h1.86v18.17h-1.86zM159.2 522.03h1.86v18.17h-1.86zM161.01 522.03h1.86v18.17h-1.86zM177.26 522.03h1.86v18.17h-1.86zM184.48 522.03h1.86v18.17h-1.86zM191.7 522.03h1.86v18.17h-1.86zM200.73 522.03h1.86v18.17h-1.86zM202.53 522.03h1.86v18.17h-1.86zM211.56 522.03h1.86v18.17h-1.86zM224.19 522.03h1.86v18.17h-1.86zM68.94 540.15h1.86v18.17h-1.86zM74.35 540.15h1.86v18.17h-1.86zM96.02 540.15h1.86v18.17h-1.86zM121.29 540.15h1.86v18.17h-1.86zM130.32 540.15h1.86v18.17h-1.86zM151.98 540.15h1.86v18.17h-1.86zM157.4 540.15h1.86v18.17h-1.86zM161.01 540.15h1.86v18.17h-1.86zM162.81 540.15h1.86v18.17h-1.86zM171.84 540.15h1.86v18.17h-1.86zM182.67 540.15h1.86v18.17h-1.86zM188.09 540.15h1.86v18.17h-1.86zM189.89 540.15h1.86v18.17h-1.86zM191.7 540.15h1.86v18.17h-1.86zM193.5 540.15h1.86v18.17h-1.86zM200.73 540.15h1.86v18.17h-1.86zM204.34 540.15h1.86v18.17h-1.86zM207.95 540.15h1.86v18.17h-1.86zM216.97 540.15h1.86v18.17h-1.86zM218.78 540.15h1.86v18.17h-1.86zM65.33 558.27h1.86v18.17h-1.86zM68.94 558.27h1.86v18.17h-1.86zM142.96 558.27h1.86v18.17h-1.86zM153.79 558.27h1.86v18.17h-1.86zM155.59 558.27h1.86v18.17h-1.86zM162.81 558.27h1.86v18.17h-1.86zM179.06 558.27h1.86v18.17h-1.86zM184.48 558.27h1.86v18.17h-1.86zM193.5 558.27h1.86v18.17h-1.86zM197.11 558.27h1.86v18.17h-1.86zM202.53 558.27h1.86v18.17h-1.86zM207.95 558.27h1.86v18.17h-1.86zM222.39 558.27h1.86v18.17h-1.86zM148.37 576.39h1.86v18.17h-1.86zM150.18 576.39h1.86v18.17h-1.86zM153.79 576.39h1.86v18.17h-1.86zM155.59 576.39h1.86v18.17h-1.86zM162.81 576.39h1.86v18.17h-1.86zM177.26 576.39h1.86v18.17h-1.86zM182.67 576.39h1.86v18.17h-1.86zM184.48 576.39h1.86v18.17h-1.86zM186.28 576.39h1.86v18.17h-1.86zM189.89 576.39h1.86v18.17h-1.86zM197.11 576.39h1.86v18.17h-1.86zM206.14 576.39h1.86v18.17h-1.86zM218.78 576.39h1.86v18.17h-1.86zM61.72 594.51h1.86v18.17h-1.86zM68.94 594.51h1.86v18.17h-1.86zM85.19 594.51h1.86v18.17h-1.86zM96.02 594.51h1.86v18.17h-1.86zM148.37 594.51h1.86v18.17h-1.86zM155.59 594.51h1.86v18.17h-1.86zM159.2 594.51h1.86v18.17h-1.86zM161.01 594.51h1.86v18.17h-1.86zM170.04 594.51h1.86v18.17h-1.86zM171.84 594.51h1.86v18.17h-1.86zM175.45 594.51h1.86v18.17h-1.86zM189.89 594.51h1.86v18.17h-1.86zM197.11 594.51h1.86v18.17h-1.86zM198.92 594.51h1.86v18.17h-1.86zM207.95 594.51h1.86v18.17h-1.86zM209.75 594.51h1.86v18.17h-1.86zM213.36 594.51h1.86v18.17h-1.86zM59.91 612.63h1.86v18.17h-1.86zM94.21 612.63h1.86v18.17h-1.86zM121.29 612.63h1.86v18.17h-1.86zM123.1 612.63h1.86v18.17h-1.86zM150.18 612.63h1.86v18.17h-1.86zM170.04 612.63h1.86v18.17h-1.86zM179.06 612.63h1.86v18.17h-1.86zM189.89 612.63h1.86v18.17h-1.86zM207.95 612.63h1.86v18.17h-1.86zM211.56 612.63h1.86v18.17h-1.86zM216.97 612.63h1.86v18.17h-1.86zM142.96 630.75h1.86v18.17h-1.86zM150.18 630.75h1.86v18.17h-1.86zM155.59 630.75h1.86v18.17h-1.86zM159.2 630.75h1.86v18.17h-1.86zM170.04 630.75h1.86v18.17h-1.86zM177.26 630.75h1.86v18.17h-1.86zM179.06 630.75h1.86v18.17h-1.86zM182.67 630.75h1.86v18.17h-1.86zM188.09 630.75h1.86v18.17h-1.86zM193.5 630.75h1.86v18.17h-1.86zM202.53 630.75h1.86v18.17h-1.86zM204.34 630.75h1.86v18.17h-1.86zM150.18 648.87h1.86v18.17h-1.86zM180.87 648.87h1.86v18.17h-1.86zM184.48 648.87h1.86v18.17h-1.86zM197.11 648.87h1.86v18.17h-1.86zM213.36 648.87h1.86v18.17h-1.86zM220.58 648.87h1.86v18.17h-1.86zM224.19 648.87h1.86v18.17h-1.86zM74.35 666.99h1.86v18.17h-1.86zM115.88 666.99h1.86v18.17h-1.86zM123.1 666.99h1.86v18.17h-1.86zM153.79 666.99h1.86v18.17h-1.86zM159.2 666.99h1.86v18.17h-1.86zM161.01 666.99h1.86v18.17h-1.86zM166.42 666.99h1.86v18.17h-1.86zM171.84 666.99h1.86v18.17h-1.86zM179.06 666.99h1.86v18.17h-1.86zM180.87 666.99h1.86v18.17h-1.86zM184.48 666.99h1.86v18.17h-1.86zM188.09 666.99h1.86v18.17h-1.86zM200.73 666.99h1.86v18.17h-1.86zM206.14 666.99h1.86v18.17h-1.86zM207.95 666.99h1.86v18.17h-1.86zM211.56 666.99h1.86v18.17h-1.86zM224.19 666.99h1.86v18.17h-1.86zM58.11 685.11h1.86v18.17h-1.86zM121.29 685.11h1.86v18.17h-1.86zM151.98 685.11h1.86v18.17h-1.86zM155.59 685.11h1.86v18.17h-1.86zM171.84 685.11h1.86v18.17h-1.86zM175.45 685.11h1.86v18.17h-1.86zM186.28 685.11h1.86v18.17h-1.86zM198.92 685.11h1.86v18.17h-1.86zM206.14 685.11h1.86v18.17h-1.86zM207.95 685.11h1.86v18.17h-1.86zM68.94 703.23h1.86v18.17h-1.86zM96.02 703.23h1.86v18.17h-1.86zM148.37 703.23h1.86v18.17h-1.86zM151.98 703.23h1.86v18.17h-1.86zM157.4 703.23h1.86v18.17h-1.86zM161.01 703.23h1.86v18.17h-1.86zM162.81 703.23h1.86v18.17h-1.86zM164.62 703.23h1.86v18.17h-1.86zM173.65 703.23h1.86v18.17h-1.86zM177.26 703.23h1.86v18.17h-1.86zM179.06 703.23h1.86v18.17h-1.86zM182.67 703.23h1.86v18.17h-1.86zM188.09 703.23h1.86v18.17h-1.86zM209.75 703.23h1.86v18.17h-1.86zM161.01 721.36h1.86v18.17h-1.86zM164.62 721.36h1.86v18.17h-1.86zM171.84 721.36h1.86v18.17h-1.86zM175.45 721.36h1.86v18.17h-1.86zM180.87 721.36h1.86v18.17h-1.86zM182.67 721.36h1.86v18.17h-1.86zM193.5 721.36h1.86v18.17h-1.86zM195.31 721.36h1.86v18.17h-1.86zM204.34 721.36h1.86v18.17h-1.86zM207.95 721.36h1.86v18.17h-1.86zM218.78 721.36h1.86v18.17h-1.86zM224.19 721.36h1.86v18.17h-1.86zM68.94 739.48h1.86v18.17h-1.86zM85.19 739.48h1.86v18.17h-1.86zM94.21 739.48h1.86v18.17h-1.86zM96.02 739.48h1.86v18.17h-1.86zM162.81 739.48h1.86v18.17h-1.86zM173.65 739.48h1.86v18.17h-1.86zM175.45 739.48h1.86v18.17h-1.86zM180.87 739.48h1.86v18.17h-1.86zM182.67 739.48h1.86v18.17h-1.86zM186.28 739.48h1.86v18.17h-1.86zM206.14 739.48h1.86v18.17h-1.86zM224.19 739.48h1.86v18.17h-1.86zM59.91 757.6h1.86v18.17h-1.86zM68.94 757.6h1.86v18.17h-1.86zM85.19 757.6h1.86v18.17h-1.86zM155.59 757.6h1.86v18.17h-1.86zM162.81 757.6h1.86v18.17h-1.86zM166.42 757.6h1.86v18.17h-1.86zM170.04 757.6h1.86v18.17h-1.86zM179.06 757.6h1.86v18.17h-1.86zM189.89 757.6h1.86v18.17h-1.86zM197.11 757.6h1.86v18.17h-1.86zM204.34 757.6h1.86v18.17h-1.86zM207.95 757.6h1.86v18.17h-1.86zM213.36 757.6h1.86v18.17h-1.86zM218.78 757.6h1.86v18.17h-1.86zM85.19 775.72h1.86v18.17h-1.86zM115.88 775.72h1.86v18.17h-1.86zM124.9 775.72h1.86v18.17h-1.86zM157.4 775.72h1.86v18.17h-1.86zM166.42 775.72h1.86v18.17h-1.86zM168.23 775.72h1.86v18.17h-1.86zM175.45 775.72h1.86v18.17h-1.86zM179.06 775.72h1.86v18.17h-1.86zM198.92 775.72h1.86v18.17h-1.86zM213.36 775.72h1.86v18.17h-1.86zM220.58 775.72h1.86v18.17h-1.86zM151.98 793.84h1.86v18.17h-1.86zM153.79 793.84h1.86v18.17h-1.86zM157.4 793.84h1.86v18.17h-1.86zM159.2 793.84h1.86v18.17h-1.86zM166.42 793.84h1.86v18.17h-1.86zM177.26 793.84h1.86v18.17h-1.86zM180.87 793.84h1.86v18.17h-1.86zM184.48 793.84h1.86v18.17h-1.86zM85.19 811.96h1.86v18.17h-1.86zM153.79 811.96h1.86v18.17h-1.86zM166.42 811.96h1.86v18.17h-1.86zM170.04 811.96h1.86v18.17h-1.86zM171.84 811.96h1.86v18.17h-1.86zM173.65 811.96h1.86v18.17h-1.86zM179.06 811.96h1.86v18.17h-1.86zM184.48 811.96h1.86v18.17h-1.86zM197.11 811.96h1.86v18.17h-1.86zM202.53 811.96h1.86v18.17h-1.86zM213.36 811.96h1.86v18.17h-1.86zM222.39 811.96h1.86v18.17h-1.86zM92.41 830.08h1.86v18.17h-1.86zM150.18 830.08h1.86v18.17h-1.86zM153.79 830.08h1.86v18.17h-1.86zM155.59 830.08h1.86v18.17h-1.86zM161.01 830.08h1.86v18.17h-1.86zM173.65 830.08h1.86v18.17h-1.86zM180.87 830.08h1.86v18.17h-1.86zM188.09 830.08h1.86v18.17h-1.86zM204.34 830.08h1.86v18.17h-1.86zM211.56 830.08h1.86v18.17h-1.86zM215.17 830.08h1.86v18.17h-1.86zM218.78 830.08h1.86v18.17h-1.86zM220.58 830.08h1.86v18.17h-1.86zM114.07 848.2h1.86v18.17h-1.86zM148.37 848.2h1.86v18.17h-1.86zM155.59 848.2h1.86v18.17h-1.86zM159.2 848.2h1.86v18.17h-1.86zM180.87 848.2h1.86v18.17h-1.86zM191.7 848.2h1.86v18.17h-1.86zM202.53 848.2h1.86v18.17h-1.86zM94.21 866.32h1.86v18.17h-1.86zM153.79 866.32h1.86v18.17h-1.86zM157.4 866.32h1.86v18.17h-1.86zM170.04 866.32h1.86v18.17h-1.86zM175.45 866.32h1.86v18.17h-1.86zM177.26 866.32h1.86v18.17h-1.86zM180.87 866.32h1.86v18.17h-1.86zM189.89 866.32h1.86v18.17h-1.86zM200.73 866.32h1.86v18.17h-1.86zM204.34 866.32h1.86v18.17h-1.86zM207.95 866.32h1.86v18.17h-1.86zM224.19 866.32h1.86v18.17h-1.86zM88.8 884.44h1.86v18.17h-1.86zM155.59 884.44h1.86v18.17h-1.86zM164.62 884.44h1.86v18.17h-1.86zM171.84 884.44h1.86v18.17h-1.86zM173.65 884.44h1.86v18.17h-1.86zM175.45 884.44h1.86v18.17h-1.86zM177.26 884.44h1.86v18.17h-1.86zM188.09 884.44h1.86v18.17h-1.86zM191.7 884.44h1.86v18.17h-1.86zM218.78 884.44h1.86v18.17h-1.86zM220.58 884.44h1.86v18.17h-1.86zM76.16 902.56h1.86v18.17h-1.86zM79.77 902.56h1.86v18.17h-1.86zM115.88 902.56h1.86v18.17h-1.86zM153.79 902.56h1.86v18.17h-1.86zM155.59 902.56h1.86v18.17h-1.86zM177.26 902.56h1.86v18.17h-1.86zM180.87 902.56h1.86v18.17h-1.86zM184.48 902.56h1.86v18.17h-1.86zM186.28 902.56h1.86v18.17h-1.86zM198.92 902.56h1.86v18.17h-1.86zM202.53 902.56h1.86v18.17h-1.86zM211.56 902.56h1.86v18.17h-1.86zM58.11 920.68h1.86v18.17h-1.86zM59.91 920.68h1.86v18.17h-1.86zM94.21 920.68h1.86v18.17h-1.86zM96.02 920.68h1.86v18.17h-1.86zM148.37 920.68h1.86v18.17h-1.86zM153.79 920.68h1.86v18.17h-1.86zM159.2 920.68h1.86v18.17h-1.86zM164.62 920.68h1.86v18.17h-1.86zM166.42 920.68h1.86v18.17h-1.86zM170.04 920.68h1.86v18.17h-1.86zM180.87 920.68h1.86v18.17h-1.86zM204.34 920.68h1.86v18.17h-1.86zM224.19 920.68h1.86v18.17h-1.86z"/>
<path fill="#ffbfbf" d="M94.21 50.9h1.86v18.17h-1.86zM150.18 50.9h1.86v18.17h-1.86zM153.79 50.9h1.86v18.17h-1.86zM159.2 50.9h1.86v18.17h-1.86zM161.01 50.9h1.86v18.17h-1.86zM164.62 50.9h1.86v18.17h-1.86zM171.84 50.9h1.86v18.17h-1.86zM175.45 50.9h1.86v18.17h-1.86zM180.87 50.9h1.86v18.17h-1.86zM200.73 50.9h1.86v18.17h-1.86zM204.34 50.9h1.86v18.17h-1.86zM218.78 50.9h1.86v18.17h-1.86zM166.42 69.02h1.86v18.17h-1.86zM175.45 69.02h1.86v18.17h-1.86zM177.26 69.02h1.86v18.17h-1.86zM189.89 69.02h1.86v18.17h-1.86zM191.7 69.02h1.86v18.17h-1.86zM193.5 69.02h1.86v18.17h-1.86zM195.31 69.02h1.86v18.17h-1.86zM198.92 69.02h1.86v18.17h-1.86zM215.17 69.02h1.86v18.17h-1.86zM218.78 69.02h1.86v18.17h-1.86zM220.58 69.02h1.86v18.17h-1.86zM86.99 87.14h1.86v18.17h-1.86zM180.87 87.14h1.86v18.17h-1.86zM189.89 87.14h1.86v18.17h-1.86zM191.7 87.14h1.86v18.17h-1.86zM200.73 87.14h1.86v18.17h-1.86zM204.34 87.14h1.86v18.17h-1.86zM207.95 87.14h1.86v18.17h-1.86zM220.58 87.14h1.86v18.17h-1.86zM96.02 105.26h1.86v18.17h-1.86zM159.2 105.26h1.86v18.17h-1.86zM161.01 105.26h1.86v18.17h-1.86zM168.23 105.26h1.86v18.17h-1.86zM171.84 105.26h1.86v18.17h-1.86zM179.06 105.26h1.86v18.17h-1.86zM184.48 105.26h1.86v18.17h-1.86zM189.89 105.26h1.86v18.17h-1.86zM195.31 105.26h1.86v18.17h-1.86zM198.92 105.26h1.86v18.17h-1.86zM157.4 123.38h1.86v18.17h-1.86zM170.04 123.38h1.86v18.17h-1.86zM173.65 123.38h1.86v18.17h-1.86zM188.09 123.38h1.86v18.17h-1.86zM191.7 123.38h1.86v18.17h-1.86zM195.31 123.38h1.86v18.17h-1.86zM197.11 123.38h1.86v18.17h-1.86zM198.92 123.38h1.86v18.17h-1.86zM202.53 123.38h1.86v18.17h-1.86zM204.34 123.38h1.86v18.17h-1.86zM206.14 123.38h1.86v18.17h-1.86zM211.56 123.38h1.86v18.17h-1.86zM222.39 123.38h1.86v18.17h-1.86zM155.59 141.5h1.86v18.17h-1.86zM166.42 141.5h1.86v18.17h-1.86zM171.84 141.5h1.86v18.17h-1.86zM177.26 141.5h1.86v18.17h-1.86zM179.06 141.5h1.86v18.17h-1.86zM189.89 141.5h1.86v18.17h-1.86zM211.56 141.5h1.86v18.17h-1.86zM218.78 141.5h1.86v18.17h-1.86zM68.94 159.62h1.86v18.17h-1.86zM157.4 159.62h1.86v18.17h-1.86zM161.01 159.62h1.86v18.17h-1.86zM162.81 159.62h1.86v18.17h-1.86zM164.62 159.62h1.86v18.17h-1.86zM177.26 159.62h1.86v18.17h-1.86zM180.87 159.62h1.86v18.17h-1.86zM184.48 159.62h1.86v18.17h-1.86zM189.89 159.62h1.86v18.17h-1.86zM193.5 159.62h1.86v18.17h-1.86zM195.31 159.62h1.86v18.17h-1.86zM198.92 159.62h1.86v18.17h-1.86zM207.95 159.62h1.86v18.17h-1.86zM218.78 159.62h1.86v18.17h-1.86zM96.02 177.74h1.86v18.17h-1.86zM119.49 177.74h1.86v18.17h-1.86zM159.2 177.74h1.86v18.17h-1.86zM166.42 177.74h1.86v18.17h-1.86zM173.65 177.74h1.86v18.17h-1.86zM179.06 177.74h1.86v18.17h-1.86zM191.7 177.74h1.86v18.17h-1.86zM195.31 177.74h1.86v18.17h-1.86zM202.53 177.74h1.86v18.17h-1.86zM204.34 177.74h1.86v18.17h-1.86zM213.36 177.74h1.86v18.17h-1.86zM222.39 177.74h1.86v18.17h-1.86zM94.21 195.86h1.86v18.17h-1.86zM151.98 195.86h1.86v18.17h-1.86zM153.79 195.86h1.86v18.17h-1.86zM166.42 195.86h1.86v18.17h-1.86zM173.65 195.86h1.86v18.17h-1.86zM177.26 195.86h1.86v18.17h-1.86zM180.87 195.86h1.86v18.17h-1.86zM193.5 195.86h1.86v18.17h-1.86zM207.95 195.86h1.86v18.17h-1.86zM216.97 195.86h1.86v18.17h-1.86zM218.78 195.86h1.86v18.17h-1.86zM224.19 195.86h1.86v18.17h-1.86zM92.41 213.98h1.86v18.17h-1.86zM121.29 213.98h1.86v18.17h-1.86zM159.2 213.98h1.86v18.17h-1.86zM173.65 213.98h1.86v18.17h-1.86zM188.09 213.98h1.86v18.17h-1.86zM195.31 213.98h1.86v18.17h-1.86zM198.92 213.98h1.86v18.17h-1.86zM200.73 213.98h1.86v18.17h-1.86zM209.75 213.98h1.86v18.17h-1.86zM215.17 213.98h1.86v18.17h-1.86zM224.19 213.98h1.86v18.17h-1.86zM150.18 232.1h1.86v18.17h-1.86zM153.79 232.1h1.86v18.17h-1.86zM155.59 232.1h1.86v18.17h-1.86zM170.04 232.1h1.86v18.17h-1.86zM177.26 232.1h1.86v18.17h-1.86zM191.7 232.1h1.86v18.17h-1.86zM193.5 232.1h1.86v18.17h-1.86zM216.97 232.1h1.86v18.17h-1.86zM124.9 250.22h1.86v18.17h-1.86zM150.18 250.22h1.86v18.17h-1.86zM155.59 250.22h1.86v18.17h-1.86zM161.01 250.22h1.86v18.17h-1.86zM166.42 250.22h1.86v18.17h-1.86zM168.23 250.22h1.86v18.17h-1.86zM171.84 250.22h1.86v18.17h-1.86zM173.65 250.22h1.86v18.17h-1.86zM177.26 250.22h1.86v18.17h-1.86zM179.06 250.22h1.86v18.17h-1.86zM191.7 250.22h1.86v18.17h-1.86zM198.92 250.22h1.86v18.17h-1.86zM202.53 250.22h1.86v18.17h-1.86zM207.95 250.22h1.86v18.17h-1.86zM96.02 268.34h1.86v18.17h-1.86zM150.18 268.34h1.86v18.17h-1.86zM153.79 268.34h1.86v18.17h-1.86zM159.2 268.34h1.86v18.17h-1.86zM164.62 268.34h1.86v18.17h-1.86zM188.09 268.34h1.86v18.17h-1.86zM197.11 268.34h1.86v18.17h-1.86zM198.92 268.34h1.86v18.17h-1.86zM202.53 268.34h1.86v18.17h-1.86zM211.56 268.34h1.86v18.17h-1.86zM159.2 286.47h1.86v18.17h-1.86zM162.81 286.47h1.86v18.17h-1.86zM164.62 286.47h1.86v18.17h-1.86zM171.84 286.47h1.86v18.17h-1.86zM184.48 286.47h1.86v18.17h-1.86zM191.7 286.47h1.86v18.17h-1.86zM198.92 286.47h1.86v18.17h-1.86zM200.73 286.47h1.86v18.17h-1.86zM220.58 286.47h1.86v18.17h-1.86zM85.19 304.59h1.86v18.17h-1.86zM94.21 304.59h1.86v18.17h-1.86zM164.62 304.59h1.86v18.17h-1.86zM166.42 304.59h1.86v18.17h-1.86zM175.45 304.59h1.86v18.17h-1.86zM177.26 304.59h1.86v18.17h-1.86zM189.89 304.59h1.86v18.17h-1.86zM191.7 304.59h1.86v18.17h-1.86zM195.31 304.59h1.86v18.17h-1.86zM198.92 304.59h1.86v18.17h-1.86zM202.53 304.59h1.86v18.17h-1.86zM207.95 304.59h1.86v18.17h-1.86zM209.75 304.59h1.86v18.17h-1.86zM211.56 304.59h1.86v18.17h-1.86zM220.58 304.59h1.86v18.17h-1.86zM157.4 322.71h1.86v18.17h-1.86zM168.23 322.71h1.86v18.17h-1.86zM175.45 322.71h1.86v18.17h-1.86zM177.26 322.71h1.86v18.17h-1.86zM188.09 322.71h1.86v18.17h-1.86zM198.92 322.71h1.86v18.17h-1.86zM200.73 322.71h1.86v18.17h-1.86zM207.95 322.71h1.86v18.17h-1.86zM213.36 322.71h1.86v18.17h-1.86zM148.37 340.83h1.86v18.17h-1.86zM155.59 340.83h1.86v18.17h-1.86zM173.65 340.83h1.86v18.17h-1.86zM179.06 340.83h1.86v18.17h-1.86zM195.31 340.83h1.86v18.17h-1.86zM198.92 340.83h1.86v18.17h-1.86zM202.53 340.83h1.86v18.17h-1.86zM96.02 358.95h1.86v18.17h-1.86zM121.29 358.95h1.86v18.17h-1.86zM155.59 358.95h1.86v18.17h-1.86zM157.4 358.95h1.86v18.17h-1.86zM166.42 358.95h1.86v18.17h-1.86zM173.65 358.95h1.86v18.17h-1.86zM175.45 358.95h1.86v18.17h-1.86zM182.67 358.95h1.86v18.17h-1.86zM184.48 358.95h1.86v18.17h-1.86zM209.75 358.95h1.86v18.17h-1.86zM216.97 358.95h1.86v18.17h-1.86zM218.78 358.95h1.86v18.17h-1.86zM220.58 358.95h1.86v18.17h-1.86zM222.39 358.95h1.86v18.17h-1.86zM67.13 377.07h1.86v18.17h-1.86zM96.02 377.07h1.86v18.17h-1.86zM153.79 377.07h1.86v18.17h-1.86zM177.26 377.07h1.86v18.17h-1.86zM179.06 377.07h1.86v18.17h-1.86zM198.92 377.07h1.86v18.17h-1.86zM85.19 395.19h1.86v18.17h-1.86zM150.18 395.19h1.86v18.17h-1.86zM157.4 395.19h1.86v18.17h-1.86zM159.2 395.19h1.86v18.17h-1.86zM164.62 395.19h1.86v18.17h-1.86zM166.42 395.19h1.86v18.17h-1.86zM175.45 395.19h1.86v18.17h-1.86zM179.06 395.19h1.86v18.17h-1.86zM193.5 395.19h1.86v18.17h-1.86zM200.73 395.19h1.86v18.17h-1.86zM224.19 395.19h1.86v18.17h-1.86zM94.21 413.31h1.86v18.17h-1.86zM157.4 413.31h1.86v18.17h-1.86zM159.2 413.31h1.86v18.17h-1.86zM166.42 413.31h1.86v18.17h-1.86zM171.84 413.31h1.86v18.17h-1.86zM173.65 413.31h1.86v18.17h-1.86zM188.09 413.31h1.86v18.17h-1.86zM191.7 413.31h1.86v18.17h-1.86zM195.31 413.31h1.86v18.17h-1.86zM197.11 413.31h1.86v18.17h-1.86zM209.75 413.31h1.86v18.17h-1.86zM162.81 431.43h1.86v18.17h-1.86zM177.26 431.43h1.86v18.17h-1.86zM191.7 431.43h1.86v18.17h-1.86zM195.31 431.43h1.86v18.17h-1.86zM204.34 431.43h1.86v18.17h-1.86zM206.14 431.43h1.86v18.17h-1.86zM209.75 431.43h1.86v18.17h-1.86zM222.39 431.43h1.86v18.17h-1.86zM74.35 449.55h1.86v18.17h-1.86zM168.23 449.55h1.86v18.17h-1.86zM177.26 449.55h1.86v18.17h-1.86zM180.87 449.55h1.86v18.17h-1.86zM182.67 449.55h1.86v18.17h-1.86zM184.48 449.55h1.86v18.17h-1.86zM189.89 449.55h1.86v18.17h-1.86zM191.7 449.55h1.86v18.17h-1.86zM195.31 449.55h1.86v18.17h-1.86zM207.95 449.55h1.86v18.17h-1.86zM121.29 467.67h1.86v18.17h-1.86zM157.4 467.67h1.86v18.17h-1.86zM189.89 467.67h1.86v18.17h-1.86zM209.75 467.67h1.86v18.17h-1.86zM211.56 467.67h1.86v18.17h-1.86zM94.21 485.79h1.86v18.17h-1.86zM166.42 485.79h1.86v18.17h-1.86zM168.23 485.79h1.86v18.17h-1.86zM184.48 485.79h1.86v18.17h-1.86zM186.28 485.79h1.86v18.17h-1.86zM189.89 485.79h1.86v18.17h-1.86zM193.5 485.79h1.86v18.17h-1.86zM195.31 485.79h1.86v18.17h-1.86zM204.34 485.79h1.86v18.17h-1.86zM207.95 485.79h1.86v18.17h-1.86zM211.56 485.79h1.86v18.17h-1.86zM222.39 485.79h1.86v18.17h-1.86zM153.79 503.91h1.86v18.17h-1.86zM159.2 503.91h1.86v18.17h-1.86zM175.45 503.91h1.86v18.17h-1.86zM177.26 503.91h1.86v18.17h-1.86zM179.06 503.91h1.86v18.17h-1.86zM189.89 503.91h1.86v18.17h-1.86zM200.73 503.91h1.86v18.17h-1.86zM206.14 503.91h1.86v18.17h-1.86zM216.97 503.91h1.86v18.17h-1.86zM164.62 522.03h1.86v18.17h-1.86zM168.23 522.03h1.86v18.17h-1.86zM175.45 522.03h1.86v18.17h-1.86zM180.87 522.03h1.86v18.17h-1.86zM204.34 522.03h1.86v18.17h-1.86zM207.95 522.03h1.86v18.17h-1.86zM218.78 522.03h1.86v18.17h-1.86zM153.79 540.15h1.86v18.17h-1.86zM155.59 540.15h1.86v18.17h-1.86zM159.2 540.15h1.86v18.17h-1.86zM164.62 540.15h1.86v18.17h-1.86zM166.42 540.15h1.86v18.17h-1.86zM168.23 540.15h1.86v18.17h-1.86zM170.04 540.15h1.86v18.17h-1.86zM173.65 540.15h1.86v18.17h-1.86zM175.45 540.15h1.86v18.17h-1.86zM195.31 540.15h1.86v18.17h-1.86zM198.92 540.15h1.86v18.17h-1.86zM209.75 540.15h1.86v18.17h-1.86zM211.56 540.15h1.86v18.17h-1.86zM220.58 540.15h1.86v18.17h-1.86zM94.21 558.27h1.86v18.17h-1.86zM96.02 558.27h1.86v18.17h-1.86zM157.4 558.27h1.86v18.17h-1.86zM161.01 558.27h1.86v18.17h-1.86zM173.65 558.27h1.86v18.17h-1.86zM177.26 558.27h1.86v18.17h-1.86zM186.28 558.27h1.86v18.17h-1.86zM188.09 558.27h1.86v18.17h-1.86zM189.89 558.27h1.86v18.17h-1.86zM195.31 558.27h1.86v18.17h-1.86zM204.34 558.27h1.86v18.17h-1.86zM164.62 576.39h1.86v18.17h-1.86zM166.42 576.39h1.86v18.17h-1.86zM171.84 576.39h1.86v18.17h-1.86zM173.65 576.39h1.86v18.17h-1.86zM180.87 576.39h1.86v18.17h-1.86zM195.31 576.39h1.86v18.17h-1.86zM207.95 576.39h1.86v18.17h-1.86zM224.19 576.39h1.86v18.17h-1.86zM117.68 594.51h1.86v18.17h-1.86zM121.29 594.51h1.86v18.17h-1.86zM157.4 594.51h1.86v18.17h-1.86zM177.26 594.51h1.86v18.17h-1.86zM186.28 594.51h1.86v18.17h-1.86zM188.09 594.51h1.86v18.17h-1.86zM191.7 594.51h1.86v18.17h-1.86zM193.5 594.51h1.86v18.17h-1.86zM195.31 594.51h1.86v18.17h-1.86zM200.73 594.51h1.86v18.17h-1.86zM206.14 594.51h1.86v18.17h-1.86zM215.17 594.51h1.86v18.17h-1.86zM77.96 612.63h1.86v18.17h-1.86zM155.59 612.63h1.86v18.17h-1.86zM157.4 612.63h1.86v18.17h-1.86zM159.2 612.63h1.86v18.17h-1.86zM180.87 612.63h1.86v18.17h-1.86zM182.67 612.63h1.86v18.17h-1.86zM184.48 612.63h1.86v18.17h-1.86zM188.09 612.63h1.86v18.17h-1.86zM197.11 612.63h1.86v18.17h-1.86zM198.92 612.63h1.86v18.17h-1.86zM202.53 612.63h1.86v18.17h-1.86zM204.34 612.63h1.86v18.17h-1.86zM206.14 612.63h1.86v18.17h-1.86zM96.02 630.75h1.86v18.17h-1.86zM157.4 630.75h1.86v18.17h-1.86zM166.42 630.75h1.86v18.17h-1.86zM175.45 630.75h1.86v18.17h-1.86zM180.87 630.75h1.86v18.17h-1.86zM207.95 630.75h1.86v18.17h-1.86zM211.56 630.75h1.86v18.17h-1.86zM215.17 630.75h1.86v18.17h-1.86zM222.39 630.75h1.86v18.17h-1.86zM96.02 648.87h1.86v18.17h-1.86zM155.59 648.87h1.86v18.17h-1.86zM171.84 648.87h1.86v18.17h-1.86zM177.26 648.87h1.86v18.17h-1.86zM186.28 648.87h1.86v18.17h-1.86zM188.09 648.87h1.86v18.17h-1.86zM189.89 648.87h1.86v18.17h-1.86zM191.7 648.87h1.86v18.17h-1.86zM202.53 648.87h1.86v18.17h-1.86zM211.56 648.87h1.86v18.17h-1.86zM218.78 648.87h1.86v18.17h-1.86zM222.39 648.87h1.86v18.17h-1.86zM59.91 666.99h1.86v18.17h-1.86zM94.21 666.99h1.86v18.17h-1.86zM157.4 666.99h1.86v18.17h-1.86zM173.65 666.99h1.86v18.17h-1.86zM189.89 666.99h1.86v18.17h-1.86zM191.7 666.99h1.86v18.17h-1.86zM195.31 666.99h1.86v18.17h-1.86zM85.19 685.11h1.86v18.17h-1.86zM96.02 685.11h1.86v18.17h-1.86zM124.9 685.11h1.86v18.17h-1.86zM153.79 685.11h1.86v18.17h-1.86zM161.01 685.11h1.86v18.17h-1.86zM164.62 685.11h1.86v18.17h-1.86zM166.42 685.11h1.86v18.17h-1.86zM193.5 685.11h1.86v18.17h-1.86zM204.34 685.11h1.86v18.17h-1.86zM209.75 685.11h1.86v18.17h-1.86zM211.56 685.11h1.86v18.17h-1.86zM153.79 703.23h1.86v18.17h-1.86zM155.59 703.23h1.86v18.17h-1.86zM175.45 703.23h1.86v18.17h-1.86zM184.48 703.23h1.86v18.17h-1.86zM195.31 703.23h1.86v18.17h-1.86zM198.92 703.23h1.86v18.17h-1.86zM211.56 703.23h1.86v18.17h-1.86zM216.97 703.23h1.86v18.17h-1.86zM218.78 703.23h1.86v18.17h-1.86zM85.19 721.36h1.86v18.17h-1.86zM94.21 721.36h1.86v18.17h-1.86zM153.79 721.36h1.86v18.17h-1.86zM157.4 721.36h1.86v18.17h-1.86zM166.42 721.36h1.86v18.17h-1.86zM177.26 721.36h1.86v18.17h-1.86zM186.28 721.36h1.86v18.17h-1.86zM198.92 721.36h1.86v18.17h-1.86zM202.53 721.36h1.86v18.17h-1.86zM220.58 721.36h1.86v18.17h-1.86zM148.37 739.48h1.86v18.17h-1.86zM150.18 739.48h1.86v18.17h-1.86zM164.62 739.48h1.86v18.17h-1.86zM166.42 739.48h1.86v18.17h-1.86zM207.95 739.48h1.86v18.17h-1.86zM218.78 739.48h1.86v18.17h-1.86zM220.58 739.48h1.86v18.17h-1.86zM159.2 757.6h1.86v18.17h-1.86zM171.84 757.6h1.86v18.17h-1.86zM180.87 757.6h1.86v18.17h-1.86zM186.28 757.6h1.86v18.17h-1.86zM198.92 757.6h1.86v18.17h-1.86zM209.75 757.6h1.86v18.17h-1.86zM150.18 775.72h1.86v18.17h-1.86zM159.2 775.72h1.86v18.17h-1.86zM170.04 775.72h1.86v18.17h-1.86zM184.48 775.72h1.86v18.17h-1.86zM186.28 775.72h1.86v18.17h-1.86zM188.09 775.72h1.86v18.17h-1.86zM191.7 775.72h1.86v18.17h-1.86zM195.31 775.72h1.86v18.17h-1.86zM200.73 775.72h1.86v18.17h-1.86zM207.95 775.72h1.86v18.17h-1.86zM209.75 775.72h1.86v18.17h-1.86zM218.78 775.72h1.86v18.17h-1.86zM222.39 775.72h1.86v18.17h-1.86zM67.13 793.84h1.86v18.17h-1.86zM85.19 793.84h1.86v18.17h-1.86zM121.29 793.84h1.86v18.17h-1.86zM148.37 793.84h1.86v18.17h-1.86zM155.59 793.84h1.86v18.17h-1.86zM171.84 793.84h1.86v18.17h-1.86zM173.65 793.84h1.86v18.17h-1.86zM175.45 793.84h1.86v18.17h-1.86zM179.06 793.84h1.86v18.17h-1.86zM193.5 793.84h1.86v18.17h-1.86zM198.92 793.84h1.86v18.17h-1.86zM204.34 793.84h1.86v18.17h-1.86zM207.95 793.84h1.86v18.17h-1.86zM211.56 793.84h1.86v18.17h-1.86zM218.78 793.84h1.86v18.17h-1.86zM222.39 793.84h1.86v18.17h-1.86zM94.21 811.96h1.86v18.17h-1.86zM96.02 811.96h1.86v18.17h-1.86zM162.81 811.96h1.86v18.17h-1.86zM164.62 811.96h1.86v18.17h-1.86zM175.45 811.96h1.86v18.17h-1.86zM198.92 811.96h1.86v18.17h-1.86zM207.95 811.96h1.86v18.17h-1.86zM218.78 811.96h1.86v18.17h-1.86zM220.58 811.96h1.86v18.17h-1.86zM96.02 830.08h1.86v18.17h-1.86zM121.29 830.08h1.86v18.17h-1.86zM159.2 830.08h1.86v18.17h-1.86zM162.81 830.08h1.86v18.17h-1.86zM166.42 830.08h1.86v18.17h-1.86zM171.84 830.08h1.86v18.17h-1.86zM177.26 830.08h1.86v18.17h-1.86zM182.67 830.08h1.86v18.17h-1.86zM198.92 830.08h1.86v18.17h-1.86zM222.39 830.08h1.86v18.17h-1.86zM85.19 848.2h1.86v18.17h-1.86zM121.29 848.2h1.86v18.17h-1.86zM153.79 848.2h1.86v18.17h-1.86zM157.4 848.2h1.86v18.17h-1.86zM161.01 848.2h1.86v18.17h-1.86zM164.62 848.2h1.86v18.17h-1.86zM166.42 848.2h1.86v18.17h-1.86zM182.67 848.2h1.86v18.17h-1.86zM188.09 848.2h1.86v18.17h-1.86zM195.31 848.2h1.86v18.17h-1.86zM197.11 848.2h1.86v18.17h-1.86zM211.56 848.2h1.86v18.17h-1.86zM218.78 848.2h1.86v18.17h-1.86zM220.58 848.2h1.86v18.17h-1.86zM222.39 848.2h1.86v18.17h-1.86zM155.59 866.32h1.86v18.17h-1.86zM162.81 866.32h1.86v18.17h-1.86zM164.62 866.32h1.86v18.17h-1.86zM168.23 866.32h1.86v18.17h-1.86zM173.65 866.32h1.86v18.17h-1.86zM186.28 866.32h1.86v18.17h-1.86zM193.5 866.32h1.86v18.17h-1.86zM195.31 866.32h1.86v18.17h-1.86zM198.92 866.32h1.86v18.17h-1.86zM206.14 866.32h1.86v18.17h-1.86zM209.75 866.32h1.86v18.17h-1.86zM216.97 866.32h1.86v18.17h-1.86zM220.58 866.32h1.86v18.17h-1.86zM222.39 866.32h1.86v18.17h-1.86zM67.13 884.44h1.86v18.17h-1.86zM121.29 884.44h1.86v18.17h-1.86zM157.4 884.44h1.86v18.17h-1.86zM180.87 884.44h1.86v18.17h-1.86zM186.28 884.44h1.86v18.17h-1.86zM198.92 884.44h1.86v18.17h-1.86zM202.53 884.44h1.86v18.17h-1.86zM207.95 884.44h1.86v18.17h-1.86zM96.02 902.56h1.86v18.17h-1.86zM150.18 902.56h1.86v18.17h-1.86zM157.4 902.56h1.86v18.17h-1.86zM159.2 902.56h1.86v18.17h-1.86zM162.81 902.56h1.86v18.17h-1.86zM164.62 902.56h1.86v18.17h-1.86zM166.42 902.56h1.86v18.17h-1.86zM171.84 902.56h1.86v18.17h-1.86zM175.45 902.56h1.86v18.17h-1.86zM191.7 902.56h1.86v18.17h-1.86zM200.73 902.56h1.86v18.17h-1.86zM206.14 902.56h1.86v18.17h-1.86zM207.95 902.56h1.86v18.17h-1.86zM220.58 902.56h1.86v18.17h-1.86zM222.39 902.56h1.86v18.17h-1.86zM155.59 920.68h1.86v18.17h-1.86zM157.4 920.68h1.86v18.17h-1.86zM171.84 920.68h1.86v18.17h-1.86zM175.45 920.68h1.86v18.17h-1.86zM186.28 920.68h1.86v18.17h-1.86zM189.89 920.68h1.86v18.17h-1.86zM191.7 920.68h1.86v18.17h-1.86zM197.11 920.68h1.86v18.17h-1.86zM211.56 920.68h1.86v18.17h-1.86zM220.58 920.68h1.86v18.17h-1.86z"/>
<path fill="#ffaaaa" d="M162.81 50.9h1.86v18.17h-1.86zM170.04 50.9h1.86v18.17h-1.86zM188.09 50.9h1.86v18.17h-1.86zM191.7 50.9h1.86v18.17h-1.86zM197.11 50.9h1.86v18.17h-1.86zM215.17 50.9h1.86v18.17h-1.86zM153.79 69.02h1.86v18.17h-1.86zM157.4 69.02h1.86v18.17h-1.86zM162.81 69.02h1.86v18.17h-1.86zM164.62 69.02h1.86v18.17h-1.86zM168.23 69.02h1.86v18.17h-1.86zM171.84 69.02h1.86v18.17h-1.86zM186.28 69.02h1.86v18.17h-1.86zM197.11 69.02h1.86v18.17h-1.86zM200.73 69.02h1.86v18.17h-1.86zM85.19 87.14h1.86v18.17h-1.86zM96.02 87.14h1.86v18.17h-1.86zM159.2 87.14h1.86v18.17h-1.86zM166.42 87.14h1.86v18.17h-1.86zM168.23 87.14h1.86v18.17h-1.86zM186.28 87.14h1.86v18.17h-1.86zM209.75 87.14h1.86v18.17h-1.86zM218.78 87.14h1.86v18.17h-1.86zM121.29 105.26h1.86v18.17h-1.86zM157.4 105.26h1.86v18.17h-1.86zM173.65 105.26h1.86v18.17h-1.86zM182.67 105.26h1.86v18.17h-1.86zM200.73 105.26h1.86v18.17h-1.86zM211.56 105.26h1.86v18.17h-1.86zM216.97 105.26h1.86v18.17h-1.86zM218.78 105.26h1.86v18.17h-1.86zM94.21 123.38h1.86v18.17h-1.86zM153.79 123.38h1.86v18.17h-1.86zM162.81 123.38h1.86v18.17h-1.86zM164.62 123.38h1.86v18.17h-1.86zM166.42 123.38h1.86v18.17h-1.86zM171.84 123.38h1.86v18.17h-1.86zM177.26 123.38h1.86v18.17h-1.86zM186.28 123.38h1.86v18.17h-1.86zM207.95 123.38h1.86v18.17h-1.86zM209.75 123.38h1.86v18.17h-1.86zM213.36 123.38h1.86v18.17h-1.86zM218.78 123.38h1.86v18.17h-1.86zM121.29 141.5h1.86v18.17h-1.86zM157.4 141.5h1.86v18.17h-1.86zM159.2 141.5h1.86v18.17h-1.86zM164.62 141.5h1.86v18.17h-1.86zM195.31 141.5h1.86v18.17h-1.86zM206.14 141.5h1.86v18.17h-1.86zM220.58 141.5h1.86v18.17h-1.86zM121.29 159.62h1.86v18.17h-1.86zM168.23 159.62h1.86v18.17h-1.86zM173.65 159.62h1.86v18.17h-1.86zM206.14 159.62h1.86v18.17h-1.86zM209.75 159.62h1.86v18.17h-1.86zM222.39 159.62h1.86v18.17h-1.86zM121.29 177.74h1.86v18.17h-1.86zM155.59 177.74h1.86v18.17h-1.86zM161.01 177.74h1.86v18.17h-1.86zM164.62 177.74h1.86v18.17h-1.86zM168.23 177.74h1.86v18.17h-1.86zM175.45 177.74h1.86v18.17h-1.86zM186.28 177.74h1.86v18.17h-1.86zM188.09 177.74h1.86v18.17h-1.86zM189.89 177.74h1.86v18.17h-1.86zM197.11 177.74h1.86v18.17h-1.86zM200.73 177.74h1.86v18.17h-1.86zM209.75 177.74h1.86v18.17h-1.86zM220.58 177.74h1.86v18.17h-1.86zM65.33 195.86h1.86v18.17h-1.86zM121.29 195.86h1.86v18.17h-1.86zM159.2 195.86h1.86v18.17h-1.86zM164.62 195.86h1.86v18.17h-1.86zM179.06 195.86h1.86v18.17h-1.86zM186.28 195.86h1.86v18.17h-1.86zM198.92 195.86h1.86v18.17h-1.86zM76.16 213.98h1.86v18.17h-1.86zM153.79 213.98h1.86v18.17h-1.86zM189.89 213.98h1.86v18.17h-1.86zM191.7 213.98h1.86v18.17h-1.86zM197.11 213.98h1.86v18.17h-1.86zM220.58 213.98h1.86v18.17h-1.86zM168.23 232.1h1.86v18.17h-1.86zM182.67 232.1h1.86v18.17h-1.86zM186.28 232.1h1.86v18.17h-1.86zM188.09 232.1h1.86v18.17h-1.86zM189.89 232.1h1.86v18.17h-1.86zM195.31 232.1h1.86v18.17h-1.86zM218.78 232.1h1.86v18.17h-1.86zM94.21 250.22h1.86v18.17h-1.86zM121.29 250.22h1.86v18.17h-1.86zM153.79 250.22h1.86v18.17h-1.86zM164.62 250.22h1.86v18.17h-1.86zM186.28 250.22h1.86v18.17h-1.86zM188.09 250.22h1.86v18.17h-1.86zM189.89 250.22h1.86v18.17h-1.86zM195.31 250.22h1.86v18.17h-1.86zM209.75 250.22h1.86v18.17h-1.86zM220.58 250.22h1.86v18.17h-1.86zM222.39 250.22h1.86v18.17h-1.86zM157.4 268.34h1.86v18.17h-1.86zM189.89 268.34h1.86v18.17h-1.86zM191.7 268.34h1.86v18.17h-1.86zM200.73 268.34h1.86v18.17h-1.86zM209.75 268.34h1.86v18.17h-1.86zM216.97 268.34h1.86v18.17h-1.86zM218.78 268.34h1.86v18.17h-1.86zM153.79 286.47h1.86v18.17h-1.86zM157.4 286.47h1.86v18.17h-1.86zM161.01 286.47h1.86v18.17h-1.86zM166.42 286.47h1.86v18.17h-1.86zM173.65 286.47h1.86v18.17h-1.86zM179.06 286.47h1.86v18.17h-1.86zM188.09 286.47h1.86v18.17h-1.86zM197.11 286.47h1.86v18.17h-1.86zM202.53 286.47h1.86v18.17h-1.86zM148.37 304.59h1.86v18.17h-1.86zM153.79 304.59h1.86v18.17h-1.86zM157.4 304.59h1.86v18.17h-1.86zM161.01 304.59h1.86v18.17h-1.86zM168.23 304.59h1.86v18.17h-1.86zM206.14 304.59h1.86v18.17h-1.86zM216.97 304.59h1.86v18.17h-1.86zM222.39 304.59h1.86v18.17h-1.86zM121.29 322.71h1.86v18.17h-1.86zM159.2 322.71h1.86v18.17h-1.86zM166.42 322.71h1.86v18.17h-1.86zM171.84 322.71h1.86v18.17h-1.86zM189.89 322.71h1.86v18.17h-1.86zM191.7 322.71h1.86v18.17h-1.86zM195.31 322.71h1.86v18.17h-1.86zM197.11 322.71h1.86v18.17h-1.86zM206.14 322.71h1.86v18.17h-1.86zM220.58 322.71h1.86v18.17h-1.86zM121.29 340.83h1.86v18.17h-1.86zM157.4 340.83h1.86v18.17h-1.86zM159.2 340.83h1.86v18.17h-1.86zM175.45 340.83h1.86v18.17h-1.86zM177.26 340.83h1.86v18.17h-1.86zM209.75 340.83h1.86v18.17h-1.86zM211.56 340.83h1.86v18.17h-1.86zM222.39 340.83h1.86v18.17h-1.86zM159.2 358.95h1.86v18.17h-1.86zM168.23 358.95h1.86v18.17h-1.86zM186.28 358.95h1.86v18.17h-1.86zM188.09 358.95h1.86v18.17h-1.86zM191.7 358.95h1.86v18.17h-1.86zM206.14 358.95h1.86v18.17h-1.86zM94.21 377.07h1.86v18.17h-1.86zM164.62 377.07h1.86v18.17h-1.86zM166.42 377.07h1.86v18.17h-1.86zM173.65 377.07h1.86v18.17h-1.86zM175.45 377.07h1.86v18.17h-1.86zM189.89 377.07h1.86v18.17h-1.86zM193.5 377.07h1.86v18.17h-1.86zM211.56 377.07h1.86v18.17h-1.86zM216.97 377.07h1.86v18.17h-1.86zM222.39 377.07h1.86v18.17h-1.86zM121.29 395.19h1.86v18.17h-1.86zM161.01 395.19h1.86v18.17h-1.86zM168.23 395.19h1.86v18.17h-1.86zM188.09 395.19h1.86v18.17h-1.86zM189.89 395.19h1.86v18.17h-1.86zM191.7 395.19h1.86v18.17h-1.86zM197.11 395.19h1.86v18.17h-1.86zM222.39 395.19h1.86v18.17h-1.86zM153.79 413.31h1.86v18.17h-1.86zM155.59 413.31h1.86v18.17h-1.86zM184.48 413.31h1.86v18.17h-1.86zM200.73 413.31h1.86v18.17h-1.86zM207.95 413.31h1.86v18.17h-1.86zM211.56 413.31h1.86v18.17h-1.86zM94.21 431.43h1.86v18.17h-1.86zM159.2 431.43h1.86v18.17h-1.86zM175.45 431.43h1.86v18.17h-1.86zM186.28 431.43h1.86v18.17h-1.86zM188.09 431.43h1.86v18.17h-1.86zM193.5 431.43h1.86v18.17h-1.86zM211.56 431.43h1.86v18.17h-1.86zM216.97 431.43h1.86v18.17h-1.86zM218.78 431.43h1.86v18.17h-1.86zM96.02 449.55h1.86v18.17h-1.86zM153.79 449.55h1.86v18.17h-1.86zM157.4 449.55h1.86v18.17h-1.86zM159.2 449.55h1.86v18.17h-1.86zM173.65 449.55h1.86v18.17h-1.86zM175.45 449.55h1.86v18.17h-1.86zM193.5 449.55h1.86v18.17h-1.86zM198.92 449.55h1.86v18.17h-1.86zM206.14 449.55h1.86v18.17h-1.86zM211.56 449.55h1.86v18.17h-1.86zM216.97 449.55h1.86v18.17h-1.86zM220.58 449.55h1.86v18.17h-1.86zM159.2 467.67h1.86v18.17h-1.86zM171.84 467.67h1.86v18.17h-1.86zM173.65 467.67h1.86v18.17h-1.86zM177.26 467.67h1.86v18.17h-1.86zM186.28 467.67h1.86v18.17h-1.86zM188.09 467.67h1.86v18.17h-1.86zM197.11 467.67h1.86v18.17h-1.86zM198.92 467.67h1.86v18.17h-1.86zM206.14 467.67h1.86v18.17h-1.86zM121.29 485.79h1.86v18.17h-1.86zM155.59 485.79h1.86v18.17h-1.86zM157.4 485.79h1.86v18.17h-1.86zM159.2 485.79h1.86v18.17h-1.86zM171.84 485.79h1.86v18.17h-1.86zM173.65 485.79h1.86v18.17h-1.86zM182.67 485.79h1.86v18.17h-1.86zM197.11 485.79h1.86v18.17h-1.86zM206.14 485.79h1.86v18.17h-1.86zM209.75 485.79h1.86v18.17h-1.86zM218.78 485.79h1.86v18.17h-1.86zM220.58 485.79h1.86v18.17h-1.86zM121.29 503.91h1.86v18.17h-1.86zM180.87 503.91h1.86v18.17h-1.86zM198.92 503.91h1.86v18.17h-1.86zM222.39 503.91h1.86v18.17h-1.86zM96.02 522.03h1.86v18.17h-1.86zM157.4 522.03h1.86v18.17h-1.86zM173.65 522.03h1.86v18.17h-1.86zM186.28 522.03h1.86v18.17h-1.86zM188.09 522.03h1.86v18.17h-1.86zM189.89 522.03h1.86v18.17h-1.86zM195.31 522.03h1.86v18.17h-1.86zM197.11 522.03h1.86v18.17h-1.86zM209.75 522.03h1.86v18.17h-1.86zM216.97 522.03h1.86v18.17h-1.86zM222.39 540.15h1.86v18.17h-1.86zM164.62 558.27h1.86v18.17h-1.86zM166.42 558.27h1.86v18.17h-1.86zM168.23 558.27h1.86v18.17h-1.86zM171.84 558.27h1.86v18.17h-1.86zM175.45 558.27h1.86v18.17h-1.86zM191.7 558.27h1.86v18.17h-1.86zM209.75 558.27h1.86v18.17h-1.86zM211.56 558.27h1.86v18.17h-1.86zM94.21 576.39h1.86v18.17h-1.86zM96.02 576.39h1.86v18.17h-1.86zM159.2 576.39h1.86v18.17h-1.86zM168.23 576.39h1.86v18.17h-1.86zM175.45 576.39h1.86v18.17h-1.86zM193.5 576.39h1.86v18.17h-1.86zM198.92 576.39h1.86v18.17h-1.86zM200.73 576.39h1.86v18.17h-1.86zM153.79 594.51h1.86v18.17h-1.86zM173.65 594.51h1.86v18.17h-1.86zM153.79 612.63h1.86v18.17h-1.86zM164.62 612.63h1.86v18.17h-1.86zM168.23 612.63h1.86v18.17h-1.86zM186.28 612.63h1.86v18.17h-1.86zM193.5 612.63h1.86v18.17h-1.86zM209.75 612.63h1.86v18.17h-1.86zM215.17 612.63h1.86v18.17h-1.86zM220.58 612.63h1.86v18.17h-1.86zM153.79 630.75h1.86v18.17h-1.86zM164.62 630.75h1.86v18.17h-1.86zM173.65 630.75h1.86v18.17h-1.86zM197.11 630.75h1.86v18.17h-1.86zM206.14 630.75h1.86v18.17h-1.86zM213.36 630.75h1.86v18.17h-1.86zM216.97 630.75h1.86v18.17h-1.86zM121.29 648.87h1.86v18.17h-1.86zM153.79 648.87h1.86v18.17h-1.86zM157.4 648.87h1.86v18.17h-1.86zM161.01 648.87h1.86v18.17h-1.86zM164.62 648.87h1.86v18.17h-1.86zM166.42 648.87h1.86v18.17h-1.86zM168.23 648.87h1.86v18.17h-1.86zM170.04 648.87h1.86v18.17h-1.86zM193.5 648.87h1.86v18.17h-1.86zM195.31 648.87h1.86v18.17h-1.86zM198.92 648.87h1.86v18.17h-1.86zM204.34 648.87h1.86v18.17h-1.86zM206.14 648.87h1.86v18.17h-1.86zM207.95 648.87h1.86v18.17h-1.86zM209.75 648.87h1.86v18.17h-1.86zM164.62 666.99h1.86v18.17h-1.86zM168.23 666.99h1.86v18.17h-1.86zM198.92 666.99h1.86v18.17h-1.86zM215.17 666.99h1.86v18.17h-1.86zM216.97 666.99h1.86v18.17h-1.86zM157.4 685.11h1.86v18.17h-1.86zM159.2 685.11h1.86v18.17h-1.86zM195.31 685.11h1.86v18.17h-1.86zM216.97 685.11h1.86v18.17h-1.86zM218.78 685.11h1.86v18.17h-1.86zM220.58 685.11h1.86v18.17h-1.86zM159.2 703.23h1.86v18.17h-1.86zM166.42 703.23h1.86v18.17h-1.86zM168.23 703.23h1.86v18.17h-1.86zM186.28 703.23h1.86v18.17h-1.86zM189.89 703.23h1.86v18.17h-1.86zM197.11 703.23h1.86v18.17h-1.86zM200.73 703.23h1.86v18.17h-1.86zM204.34 703.23h1.86v18.17h-1.86zM206.14 703.23h1.86v18.17h-1.86zM207.95 703.23h1.86v18.17h-1.86zM220.58 703.23h1.86v18.17h-1.86zM168.23 721.36h1.86v18.17h-1.86zM188.09 721.36h1.86v18.17h-1.86zM189.89 721.36h1.86v18.17h-1.86zM191.7 721.36h1.86v18.17h-1.86zM197.11 721.36h1.86v18.17h-1.86zM209.75 721.36h1.86v18.17h-1.86zM213.36 721.36h1.86v18.17h-1.86zM215.17 721.36h1.86v18.17h-1.86zM222.39 721.36h1.86v18.17h-1.86zM121.29 739.48h1.86v18.17h-1.86zM159.2 739.48h1.86v18.17h-1.86zM161.01 739.48h1.86v18.17h-1.86zM168.23 739.48h1.86v18.17h-1.86zM170.04 739.48h1.86v18.17h-1.86zM171.84 739.48h1.86v18.17h-1.86zM177.26 739.48h1.86v18.17h-1.86zM179.06 739.48h1.86v18.17h-1.86zM191.7 739.48h1.86v18.17h-1.86zM193.5 739.48h1.86v18.17h-1.86zM195.31 739.48h1.86v18.17h-1.86zM197.11 739.48h1.86v18.17h-1.86zM209.75 739.48h1.86v18.17h-1.86zM215.17 739.48h1.86v18.17h-1.86zM216.97 739.48h1.86v18.17h-1.86zM153.79 757.6h1.86v18.17h-1.86zM157.4 757.6h1.86v18.17h-1.86zM164.62 757.6h1.86v18.17h-1.86zM175.45 757.6h1.86v18.17h-1.86zM184.48 757.6h1.86v18.17h-1.86zM200.73 757.6h1.86v18.17h-1.86zM220.58 757.6h1.86v18.17h-1.86zM121.29 775.72h1.86v18.17h-1.86zM164.62 775.72h1.86v18.17h-1.86zM173.65 775.72h1.86v18.17h-1.86zM177.26 775.72h1.86v18.17h-1.86zM215.17 775.72h1.86v18.17h-1.86zM170.04 793.84h1.86v18.17h-1.86zM186.28 793.84h1.86v18.17h-1.86zM188.09 793.84h1.86v18.17h-1.86zM189.89 793.84h1.86v18.17h-1.86zM191.7 793.84h1.86v18.17h-1.86zM197.11 793.84h1.86v18.17h-1.86zM206.14 793.84h1.86v18.17h-1.86zM216.97 793.84h1.86v18.17h-1.86zM121.29 811.96h1.86v18.17h-1.86zM157.4 811.96h1.86v18.17h-1.86zM161.01 811.96h1.86v18.17h-1.86zM168.23 811.96h1.86v18.17h-1.86zM189.89 811.96h1.86v18.17h-1.86zM191.7 811.96h1.86v18.17h-1.86zM193.5 811.96h1.86v18.17h-1.86zM200.73 811.96h1.86v18.17h-1.86zM211.56 811.96h1.86v18.17h-1.86zM157.4 830.08h1.86v18.17h-1.86zM164.62 830.08h1.86v18.17h-1.86zM179.06 830.08h1.86v18.17h-1.86zM186.28 830.08h1.86v18.17h-1.86zM189.89 830.08h1.86v18.17h-1.86zM193.5 830.08h1.86v18.17h-1.86zM195.31 830.08h1.86v18.17h-1.86zM200.73 830.08h1.86v18.17h-1.86zM202.53 830.08h1.86v18.17h-1.86zM207.95 830.08h1.86v18.17h-1.86zM209.75 830.08h1.86v18.17h-1.86zM168.23 848.2h1.86v18.17h-1.86zM171.84 848.2h1.86v18.17h-1.86zM173.65 848.2h1.86v18.17h-1.86zM177.26 848.2h1.86v18.17h-1.86zM179.06 848.2h1.86v18.17h-1.86zM189.89 848.2h1.86v18.17h-1.86zM200.73 848.2h1.86v18.17h-1.86zM206.14 848.2h1.86v18.17h-1.86zM207.95 848.2h1.86v18.17h-1.86zM96.02 866.32h1.86v18.17h-1.86zM159.2 866.32h1.86v18.17h-1.86zM166.42 866.32h1.86v18.17h-1.86zM171.84 866.32h1.86v18.17h-1.86zM191.7 866.32h1.86v18.17h-1.86zM215.17 866.32h1.86v18.17h-1.86zM94.21 884.44h1.86v18.17h-1.86zM153.79 884.44h1.86v18.17h-1.86zM159.2 884.44h1.86v18.17h-1.86zM161.01 884.44h1.86v18.17h-1.86zM170.04 884.44h1.86v18.17h-1.86zM189.89 884.44h1.86v18.17h-1.86zM215.17 884.44h1.86v18.17h-1.86zM216.97 884.44h1.86v18.17h-1.86zM121.29 902.56h1.86v18.17h-1.86zM161.01 902.56h1.86v18.17h-1.86zM182.67 902.56h1.86v18.17h-1.86zM189.89 902.56h1.86v18.17h-1.86zM195.31 902.56h1.86v18.17h-1.86zM216.97 902.56h1.86v18.17h-1.86zM85.19 920.68h1.86v18.17h-1.86zM121.29 920.68h1.86v18.17h-1.86zM161.01 920.68h1.86v18.17h-1.86zM168.23 920.68h1.86v18.17h-1.86zM173.65 920.68h1.86v18.17h-1.86zM179.06 920.68h1.86v18.17h-1.86zM184.48 920.68h1.86v18.17h-1.86zM193.5 920.68h1.86v18.17h-1.86zM195.31 920.68h1.86v18.17h-1.86zM198.92 920.68h1.86v18.17h-1.86zM200.73 920.68h1.86v18.17h-1.86zM216.97 920.68h1.86v18.17h-1.86z"/>
<path fill="#ff9595" d="M121.29 50.9h1.86v18.17h-1.86zM198.92 50.9h1.86v18.17h-1.86zM222.39 69.02h1.86v18.17h-1.86zM157.4 87.14h1.86v18.17h-1.86zM164.62 87.14h1.86v18.17h-1.86zM206.14 87.14h1.86v18.17h-1.86zM215.17 87.14h1.86v18.17h-1.86zM216.97 87.14h1.86v18.17h-1.86zM115.88 105.26h1.86v18.17h-1.86zM175.45 105.26h1.86v18.17h-1.86zM188.09 105.26h1.86v18.17h-1.86zM191.7 105.26h1.86v18.17h-1.86zM215.17 105.26h1.86v18.17h-1.86zM193.5 123.38h1.86v18.17h-1.86zM200.73 123.38h1.86v18.17h-1.86zM215.17 123.38h1.86v18.17h-1.86zM96.02 141.5h1.86v18.17h-1.86zM168.23 141.5h1.86v18.17h-1.86zM188.09 141.5h1.86v18.17h-1.86zM197.11 141.5h1.86v18.17h-1.86zM198.92 141.5h1.86v18.17h-1.86zM200.73 141.5h1.86v18.17h-1.86zM215.17 141.5h1.86v18.17h-1.86zM200.73 159.62h1.86v18.17h-1.86zM211.56 159.62h1.86v18.17h-1.86zM216.97 159.62h1.86v18.17h-1.86zM220.58 159.62h1.86v18.17h-1.86zM94.21 177.74h1.86v18.17h-1.86zM153.79 177.74h1.86v18.17h-1.86zM198.92 177.74h1.86v18.17h-1.86zM206.14 177.74h1.86v18.17h-1.86zM216.97 177.74h1.86v18.17h-1.86zM168.23 195.86h1.86v18.17h-1.86zM188.09 195.86h1.86v18.17h-1.86zM189.89 195.86h1.86v18.17h-1.86zM191.7 195.86h1.86v18.17h-1.86zM206.14 195.86h1.86v18.17h-1.86zM220.58 195.86h1.86v18.17h-1.86zM222.39 195.86h1.86v18.17h-1.86zM206.14 213.98h1.86v18.17h-1.86zM157.4 232.1h1.86v18.17h-1.86zM164.62 232.1h1.86v18.17h-1.86zM166.42 232.1h1.86v18.17h-1.86zM171.84 232.1h1.86v18.17h-1.86zM173.65 232.1h1.86v18.17h-1.86zM179.06 232.1h1.86v18.17h-1.86zM180.87 232.1h1.86v18.17h-1.86zM197.11 232.1h1.86v18.17h-1.86zM198.92 232.1h1.86v18.17h-1.86zM200.73 232.1h1.86v18.17h-1.86zM206.14 232.1h1.86v18.17h-1.86zM207.95 232.1h1.86v18.17h-1.86zM209.75 232.1h1.86v18.17h-1.86zM222.39 232.1h1.86v18.17h-1.86zM157.4 250.22h1.86v18.17h-1.86zM159.2 250.22h1.86v18.17h-1.86zM216.97 250.22h1.86v18.17h-1.86zM168.23 268.34h1.86v18.17h-1.86zM186.28 268.34h1.86v18.17h-1.86zM168.23 286.47h1.86v18.17h-1.86zM188.09 304.59h1.86v18.17h-1.86zM200.73 304.59h1.86v18.17h-1.86zM215.17 304.59h1.86v18.17h-1.86zM164.62 340.83h1.86v18.17h-1.86zM168.23 340.83h1.86v18.17h-1.86zM186.28 340.83h1.86v18.17h-1.86zM188.09 340.83h1.86v18.17h-1.86zM200.73 340.83h1.86v18.17h-1.86zM197.11 358.95h1.86v18.17h-1.86zM157.4 377.07h1.86v18.17h-1.86zM159.2 377.07h1.86v18.17h-1.86zM182.67 377.07h1.86v18.17h-1.86zM191.7 377.07h1.86v18.17h-1.86zM197.11 377.07h1.86v18.17h-1.86zM198.92 395.19h1.86v18.17h-1.86zM206.14 395.19h1.86v18.17h-1.86zM215.17 395.19h1.86v18.17h-1.86zM216.97 395.19h1.86v18.17h-1.86zM177.26 413.31h1.86v18.17h-1.86zM216.97 413.31h1.86v18.17h-1.86zM220.58 413.31h1.86v18.17h-1.86zM153.79 431.43h1.86v18.17h-1.86zM157.4 431.43h1.86v18.17h-1.86zM171.84 431.43h1.86v18.17h-1.86zM197.11 431.43h1.86v18.17h-1.86zM200.73 431.43h1.86v18.17h-1.86zM171.84 449.55h1.86v18.17h-1.86zM188.09 449.55h1.86v18.17h-1.86zM200.73 449.55h1.86v18.17h-1.86zM209.75 449.55h1.86v18.17h-1.86zM215.17 449.55h1.86v18.17h-1.86zM168.23 467.67h1.86v18.17h-1.86zM191.7 467.67h1.86v18.17h-1.86zM96.02 485.79h1.86v18.17h-1.86zM153.79 485.79h1.86v18.17h-1.86zM175.45 485.79h1.86v18.17h-1.86zM200.73 485.79h1.86v18.17h-1.86zM202.53 485.79h1.86v18.17h-1.86zM216.97 485.79h1.86v18.17h-1.86zM157.4 503.91h1.86v18.17h-1.86zM164.62 503.91h1.86v18.17h-1.86zM188.09 503.91h1.86v18.17h-1.86zM191.7 503.91h1.86v18.17h-1.86zM209.75 503.91h1.86v18.17h-1.86zM220.58 503.91h1.86v18.17h-1.86zM171.84 522.03h1.86v18.17h-1.86zM193.5 522.03h1.86v18.17h-1.86zM206.14 522.03h1.86v18.17h-1.86zM220.58 522.03h1.86v18.17h-1.86zM215.17 540.15h1.86v18.17h-1.86zM159.2 558.27h1.86v18.17h-1.86zM200.73 558.27h1.86v18.17h-1.86zM220.58 558.27h1.86v18.17h-1.86zM121.29 576.39h1.86v18.17h-1.86zM157.4 576.39h1.86v18.17h-1.86zM188.09 576.39h1.86v18.17h-1.86zM191.7 576.39h1.86v18.17h-1.86zM209.75 576.39h1.86v18.17h-1.86zM211.56 576.39h1.86v18.17h-1.86zM177.26 612.63h1.86v18.17h-1.86zM191.7 612.63h1.86v18.17h-1.86zM200.73 612.63h1.86v18.17h-1.86zM168.23 630.75h1.86v18.17h-1.86zM191.7 630.75h1.86v18.17h-1.86zM195.31 630.75h1.86v18.17h-1.86zM198.92 630.75h1.86v18.17h-1.86zM200.73 630.75h1.86v18.17h-1.86zM209.75 630.75h1.86v18.17h-1.86zM121.29 666.99h1.86v18.17h-1.86zM188.09 685.11h1.86v18.17h-1.86zM189.89 685.11h1.86v18.17h-1.86zM197.11 685.11h1.86v18.17h-1.86zM215.17 685.11h1.86v18.17h-1.86zM215.17 703.23h1.86v18.17h-1.86zM121.29 721.36h1.86v18.17h-1.86zM159.2 721.36h1.86v18.17h-1.86zM170.04 721.36h1.86v18.17h-1.86zM173.65 721.36h1.86v18.17h-1.86zM200.73 721.36h1.86v18.17h-1.86zM206.14 721.36h1.86v18.17h-1.86zM188.09 739.48h1.86v18.17h-1.86zM200.73 739.48h1.86v18.17h-1.86zM121.29 757.6h1.86v18.17h-1.86zM161.01 757.6h1.86v18.17h-1.86zM173.65 757.6h1.86v18.17h-1.86zM206.14 757.6h1.86v18.17h-1.86zM211.56 757.6h1.86v18.17h-1.86zM222.39 757.6h1.86v18.17h-1.86zM171.84 775.72h1.86v18.17h-1.86zM216.97 775.72h1.86v18.17h-1.86zM164.62 793.84h1.86v18.17h-1.86zM195.31 793.84h1.86v18.17h-1.86zM200.73 793.84h1.86v18.17h-1.86zM209.75 793.84h1.86v18.17h-1.86zM220.58 793.84h1.86v18.17h-1.86zM188.09 811.96h1.86v18.17h-1.86zM195.31 811.96h1.86v18.17h-1.86zM206.14 811.96h1.86v18.17h-1.86zM215.17 811.96h1.86v18.17h-1.86zM175.45 830.08h1.86v18.17h-1.86zM191.7 830.08h1.86v18.17h-1.86zM206.14 830.08h1.86v18.17h-1.86zM186.28 848.2h1.86v18.17h-1.86zM215.17 848.2h1.86v18.17h-1.86zM216.97 848.2h1.86v18.17h-1.86zM166.42 884.44h1.86v18.17h-1.86zM168.23 884.44h1.86v18.17h-1.86zM168.23 902.56h1.86v18.17h-1.86zM188.09 902.56h1.86v18.17h-1.86zM193.5 902.56h1.86v18.17h-1.86zM197.11 902.56h1.86v18.17h-1.86zM215.17 902.56h1.86v18.17h-1.86zM177.26 920.68h1.86v18.17h-1.86zM188.09 920.68h1.86v18.17h-1.86z"/>
<path fill="#ff8080" d="M206.14 50.9h1.86v18.17h-1.86zM216.97 50.9h1.86v18.17h-1.86zM220.58 50.9h1.86v18.17h-1.86zM121.29 69.02h1.86v18.17h-1.86zM206.14 69.02h1.86v18.17h-1.86zM216.97 69.02h1.86v18.17h-1.86zM121.29 87.14h1.86v18.17h-1.86zM198.92 87.14h1.86v18.17h-1.86zM206.14 105.26h1.86v18.17h-1.86zM168.23 123.38h1.86v18.17h-1.86zM216.97 141.5h1.86v18.17h-1.86zM153.79 159.62h1.86v18.17h-1.86zM188.09 159.62h1.86v18.17h-1.86zM157.4 177.74h1.86v18.17h-1.86zM215.17 177.74h1.86v18.17h-1.86zM211.56 213.98h1.86v18.17h-1.86zM94.21 232.1h1.86v18.17h-1.86zM121.29 232.1h1.86v18.17h-1.86zM211.56 232.1h1.86v18.17h-1.86zM215.17 232.1h1.86v18.17h-1.86zM121.29 268.34h1.86v18.17h-1.86zM121.29 286.47h1.86v18.17h-1.86zM206.14 286.47h1.86v18.17h-1.86zM211.56 286.47h1.86v18.17h-1.86zM215.17 286.47h1.86v18.17h-1.86zM216.97 286.47h1.86v18.17h-1.86zM209.75 322.71h1.86v18.17h-1.86zM216.97 322.71h1.86v18.17h-1.86zM206.14 340.83h1.86v18.17h-1.86zM200.73 358.95h1.86v18.17h-1.86zM121.29 377.07h1.86v18.17h-1.86zM168.23 377.07h1.86v18.17h-1.86zM188.09 377.07h1.86v18.17h-1.86zM195.31 377.07h1.86v18.17h-1.86zM200.73 377.07h1.86v18.17h-1.86zM206.14 377.07h1.86v18.17h-1.86zM215.17 377.07h1.86v18.17h-1.86zM209.75 395.19h1.86v18.17h-1.86zM121.29 413.31h1.86v18.17h-1.86zM168.23 413.31h1.86v18.17h-1.86zM189.89 413.31h1.86v18.17h-1.86zM206.14 413.31h1.86v18.17h-1.86zM121.29 431.43h1.86v18.17h-1.86zM215.17 431.43h1.86v18.17h-1.86zM121.29 449.55h1.86v18.17h-1.86zM164.62 449.55h1.86v18.17h-1.86zM166.42 449.55h1.86v18.17h-1.86zM197.11 449.55h1.86v18.17h-1.86zM215.17 467.67h1.86v18.17h-1.86zM220.58 467.67h1.86v18.17h-1.86zM188.09 485.79h1.86v18.17h-1.86zM191.7 485.79h1.86v18.17h-1.86zM173.65 503.91h1.86v18.17h-1.86zM215.17 503.91h1.86v18.17h-1.86zM121.29 522.03h1.86v18.17h-1.86zM153.79 522.03h1.86v18.17h-1.86zM198.92 522.03h1.86v18.17h-1.86zM121.29 558.27h1.86v18.17h-1.86zM206.14 558.27h1.86v18.17h-1.86zM215.17 558.27h1.86v18.17h-1.86zM216.97 558.27h1.86v18.17h-1.86zM121.29 630.75h1.86v18.17h-1.86zM186.28 630.75h1.86v18.17h-1.86zM189.89 630.75h1.86v18.17h-1.86zM159.2 648.87h1.86v18.17h-1.86zM200.73 648.87h1.86v18.17h-1.86zM215.17 648.87h1.86v18.17h-1.86zM216.97 648.87h1.86v18.17h-1.86zM191.7 685.11h1.86v18.17h-1.86zM200.73 685.11h1.86v18.17h-1.86zM171.84 703.23h1.86v18.17h-1.86zM193.5 703.23h1.86v18.17h-1.86zM179.06 721.36h1.86v18.17h-1.86zM157.4 739.48h1.86v18.17h-1.86zM198.92 739.48h1.86v18.17h-1.86zM168.23 757.6h1.86v18.17h-1.86zM195.31 757.6h1.86v18.17h-1.86zM215.17 757.6h1.86v18.17h-1.86zM216.97 757.6h1.86v18.17h-1.86zM206.14 775.72h1.86v18.17h-1.86zM215.17 793.84h1.86v18.17h-1.86zM209.75 811.96h1.86v18.17h-1.86zM216.97 811.96h1.86v18.17h-1.86zM216.97 830.08h1.86v18.17h-1.86zM193.5 848.2h1.86v18.17h-1.86zM121.29 866.32h1.86v18.17h-1.86zM206.14 884.44h1.86v18.17h-1.86z"/>
<path fill="#ff6a6a" d="M179.06 50.9h1.86v18.17h-1.86zM216.97 123.38h1.86v18.17h-1.86zM200.73 195.86h1.86v18.17h-1.86zM215.17 195.86h1.86v18.17h-1.86zM215.17 340.83h1.86v18.17h-1.86zM220.58 340.83h1.86v18.17h-1.86zM215.17 413.31h1.86v18.17h-1.86zM164.62 431.43h1.86v18.17h-1.86zM168.23 431.43h1.86v18.17h-1.86zM215.17 485.79h1.86v18.17h-1.86zM215.17 522.03h1.86v18.17h-1.86zM216.97 576.39h1.86v18.17h-1.86zM168.23 685.11h1.86v18.17h-1.86zM216.97 721.36h1.86v18.17h-1.86zM188.09 757.6h1.86v18.17h-1.86zM168.23 793.84h1.86v18.17h-1.86zM168.23 830.08h1.86v18.17h-1.86zM200.73 884.44h1.86v18.17h-1.86zM206.14 920.68h1.86v18.17h-1.86zM215.17 920.68h1.86v18.17h-1.86z"/>
<path fill="#ff5555" d="M215.17 159.62h1.86v18.17h-1.86zM200.73 250.22h1.86v18.17h-1.86zM215.17 322.71h1.86v18.17h-1.86zM215.17 358.95h1.86v18.17h-1.86zM215.17 576.39h1.86v18.17h-1.86z"/>
</g>
<path d="M56.3 96.2H32.3V114.32H56.3M56.3 150.56H32.5V168.68H56.3M56.3 132.44H31.7V159.62H32.5M32.3 105.26H22.8V146.03H31.7M56.3 78.08H15.7V125.65H22.8M56.3 186.8H14.7V204.92H56.3M56.3 241.16H33.7V259.28H56.3M56.3 223.04H25.5V250.22H33.7M56.3 331.77H39.4V349.89H56.3M56.3 313.65H36.6V340.83H39.4M56.3 295.53H31.7V327.24H36.6M56.3 277.41H28.6V311.38H31.7M25.5 236.63H17.3V294.39H28.6M14.7 195.86H13.5V265.51H17.3M15.7 101.86H10.2V230.69H13.5M56.3 59.96H5.2V166.28H10.2M56.3 404.25H37.6V422.37H56.3M56.3 440.49H34.8V458.61H56.3M56.3 494.85H38.7V512.97H56.3M56.3 476.73H36.3V503.91H38.7M34.8 449.55H31.7V490.32H36.3M37.6 413.31H27.3V469.93H31.7M56.3 386.13H25.7V441.62H27.3M56.3 531.09H30.9V549.21H56.3M56.3 567.33H28.3V585.45H56.3M30.9 540.15H21.6V576.39H28.3M56.3 639.81H38.7V657.93H56.3M56.3 694.17H47.2V712.29H56.3M56.3 676.05H34.8V703.23H47.2M38.7 648.87H32.5V689.64H34.8M56.3 621.69H28.6V669.26H32.5M56.3 603.57H27.1V645.48H28.6M56.3 748.54H43.3V766.66H56.3M56.3 730.42H40.5V757.6H43.3M56.3 802.9H45.6V821.02H56.3M56.3 784.78H39.4V811.96H45.6M40.5 744.01H32.5V798.37H39.4M56.3 839.14H41.8V857.26H56.3M56.3 911.62H46.1V929.74H56.3M56.3 893.5H39.4V920.68H46.1M56.3 875.38H35.3V907.09H39.4M41.8 848.2H30.2V891.23H35.3M32.5 771.19H25.5V869.72H30.2M27.1 624.52H21.6V820.45H25.5M21.6 558.27H17.8V722.49H21.6M25.7 413.87H17V640.38H17.8M56.3 368.01H10V527.13H17M5.2 113.12H4.6V447.57H10" fill="none" stroke="#5a5a5a" stroke-width="1.4"/>
<text transform="translate(229.2,66.26) scale(0.811,1)" font-family="'Liberation Serif','Times New Roman',serif" font-size="19.6" fill="#151515" stroke="#151515" stroke-width="0.1">REGULATION_OF_RESPONSE_TO_TUMOR_CELL</text>
<text transform="translate(229.2,84.38) scale(0.811,1)" font-family="'Liberation Serif','Times New Roman',serif" font-size="19.6" fill="#151515" stroke="#151515" stroke-width="0.1">SYNAPTIC_VESICLE_LOCALIZATION</text>
<text transform="translate(229.2,102.5) scale(0.811,1)" font-family="'Liberation Serif','Times New Roman',serif" font-size="19.6" fill="#151515" stroke="#151515" stroke-width="0.1">RESPONSE_TO_INTERLEUKIN_6</text>
<text transform="translate(229.2,120.62) scale(0.811,1)" font-family="'Liberation Serif','Times New Roman',serif" font-size="19.6" fill="#151515" stroke="#151515" stroke-width="0.1">INTERLEUKIN_6_MEDIATED_SIGNALING_PATHWAY</text>
<text transform="translate(229.2,138.74) scale(0.811,1)" font-family="'Liberation Serif','Times New Roman',serif" font-size="19.6" fill="#151515" stroke="#151515" stroke-width="0.1">INTERLEUKIN_4_MEDIATED_SIGNALING_PATHWAY</text>
<text transform="translate(229.2,156.86) scale(0.811,1)" font-family="'Liberation Serif','Times New Roman',serif" font-size="19.6" fill="#151515" stroke="#151515" stroke-width="0.1">RESPONSE_TO_INTERLEUKIN_2</text>
<text transform="translate(229.2,174.98) scale(0.811,1)" font-family="'Liberation Serif','Times New Roman',serif" font-size="19.6" fill="#151515" stroke="#151515" stroke-width="0.1">RESPONSE_TO_INTERLEUKIN_15</text>
<text transform="translate(229.2,193.1) scale(0.811,1)" font-family="'Liberation Serif','Times New Roman',serif" font-size="19.6" fill="#151515" stroke="#151515" stroke-width="0.1">CORPUS_CALLOSUM_MORPHOGENESIS</text>
<text transform="translate(229.2,211.22) scale(0.811,1)" font-family="'Liberation Serif','Times New Roman',serif" font-size="19.6" fill="#151515" stroke="#151515" stroke-width="0.1">NATURAL_KILLER_CELL_DIFFERENTIATION</text>
<text transform="translate(229.2,229.34) scale(0.811,1)" font-family="'Liberation Serif','Times New Roman',serif" font-size="19.6" fill="#151515" stroke="#151515" stroke-width="0.1">TRAIL_ACTIVATED_APOPTOTIC_SIGNALING_PATHWAY</text>
<text transform="translate(229.2,247.46) scale(0.811,1)" font-family="'Liberation Serif','Times New Roman',serif" font-size="19.6" fill="#151515" stroke="#151515" stroke-width="0.1">REGULATION_OF_AUTOPHAGOSOME_ASSEMBLY</text>
<text transform="translate(229.2,265.58) scale(0.811,1)" font-family="'Liberation Serif','Times New Roman',serif" font-size="19.6" fill="#151515" stroke="#151515" stroke-width="0.1">ACTIVATION_OF_MAPKK_ACTIVITY</text>
<text transform="translate(229.2,283.71) scale(0.811,1)" font-family="'Liberation Serif','Times New Roman',serif" font-size="19.6" fill="#151515" stroke="#151515" stroke-width="0.1">REGULATION_OF_LYSOSOMAL_LUMEN_PH</text>
<text transform="translate(229.2,301.83) scale(0.811,1)" font-family="'Liberation Serif','Times New Roman',serif" font-size="19.6" fill="#151515" stroke="#151515" stroke-width="0.1">VIRAL_BUDDING_VIA_HOST_ESCRT_COMPLEX</text>
<text transform="translate(229.2,319.95) scale(0.811,1)" font-family="'Liberation Serif','Times New Roman',serif" font-size="19.6" fill="#151515" stroke="#151515" stroke-width="0.1">LATE_ENDOSOME_TO_LYSOSOME_TRANSPORT</text>
<text transform="translate(229.2,338.07) scale(0.811,1)" font-family="'Liberation Serif','Times New Roman',serif" font-size="19.6" fill="#151515" stroke="#151515" stroke-width="0.1">ENDOSOME_ORGANIZATION</text>
<text transform="translate(229.2,356.19) scale(0.811,1)" font-family="'Liberation Serif','Times New Roman',serif" font-size="19.6" fill="#151515" stroke="#151515" stroke-width="0.1">LYSOSOMAL_TRANSPORT</text>
<text transform="translate(229.2,374.31) scale(0.811,1)" font-family="'Liberation Serif','Times New Roman',serif" font-size="19.6" fill="#151515" stroke="#151515" stroke-width="0.1">POSITIVE_REGULATION_OF_ACUTE_INFLAMMATORY_RESPONSE</text>
<text transform="translate(229.2,392.43) scale(0.811,1)" font-family="'Liberation Serif','Times New Roman',serif" font-size="19.6" fill="#151515" stroke="#151515" stroke-width="0.1">NECROPTOTIC_SIGNALING_PATHWAY</text>
<text transform="translate(229.2,410.55) scale(0.811,1)" font-family="'Liberation Serif','Times New Roman',serif" font-size="19.6" fill="#151515" stroke="#151515" stroke-width="0.1">CELLULAR_RESPONSE_TO_MURAMYL_DIPEPTIDE</text>
<text transform="translate(229.2,428.67) scale(0.811,1)" font-family="'Liberation Serif','Times New Roman',serif" font-size="19.6" fill="#151515" stroke="#151515" stroke-width="0.1">RESPONSE_TO_MURAMYL_DIPEPTIDE</text>
<text transform="translate(229.2,446.79) scale(0.811,1)" font-family="'Liberation Serif','Times New Roman',serif" font-size="19.6" fill="#151515" stroke="#151515" stroke-width="0.1">DENDRITIC_CELL_CYTOKINE_PRODUCTION</text>
<text transform="translate(229.2,464.91) scale(0.811,1)" font-family="'Liberation Serif','Times New Roman',serif" font-size="19.6" fill="#151515" stroke="#151515" stroke-width="0.1">INTERFERON_ALPHA_PRODUCTION</text>
<text transform="translate(229.2,483.03) scale(0.811,1)" font-family="'Liberation Serif','Times New Roman',serif" font-size="19.6" fill="#151515" stroke="#151515" stroke-width="0.1">RESPONSE_TO_INTERFERON_GAMMA</text>
<text transform="translate(229.2,501.15) scale(0.811,1)" font-family="'Liberation Serif','Times New Roman',serif" font-size="19.6" fill="#151515" stroke="#151515" stroke-width="0.1">REGULATION_OF_RESPONSE_TO_INTERFERON_GAMMA</text>
<text transform="translate(229.2,519.27) scale(0.811,1)" font-family="'Liberation Serif','Times New Roman',serif" font-size="19.6" fill="#151515" stroke="#151515" stroke-width="0.1">CYTOKINE_MEDIATED_SIGNALING_PATHWAY</text>
<text transform="translate(229.2,537.39) scale(0.811,1)" font-family="'Liberation Serif','Times New Roman',serif" font-size="19.6" fill="#151515" stroke="#151515" stroke-width="0.1">NK_T_CELL_PROLIFERATION</text>
<text transform="translate(229.2,555.51) scale(0.811,1)" font-family="'Liberation Serif','Times New Roman',serif" font-size="19.6" fill="#151515" stroke="#151515" stroke-width="0.1">NATURAL_KILLER_CELL_PROLIFERATION</text>
<text transform="translate(229.2,573.63) scale(0.811,1)" font-family="'Liberation Serif','Times New Roman',serif" font-size="19.6" fill="#151515" stroke="#151515" stroke-width="0.1">MAST_CELL_ACTIVATION</text>
<text transform="translate(229.2,591.75) scale(0.811,1)" font-family="'Liberation Serif','Times New Roman',serif" font-size="19.6" fill="#151515" stroke="#151515" stroke-width="0.1">CD8_POSITIVE_ALPHA_BETA_T_CELL_ACTIVATION</text>
<text transform="translate(229.2,609.87) scale(0.811,1)" font-family="'Liberation Serif','Times New Roman',serif" font-size="19.6" fill="#151515" stroke="#151515" stroke-width="0.1">NATURAL_KILLER_CELL_ACTIVATION</text>
<text transform="translate(229.2,627.99) scale(0.811,1)" font-family="'Liberation Serif','Times New Roman',serif" font-size="19.6" fill="#151515" stroke="#151515" stroke-width="0.1">TOLL_LIKE_RECEPTOR_2_SIGNALING_PATHWAY</text>
<text transform="translate(229.2,646.11) scale(0.811,1)" font-family="'Liberation Serif','Times New Roman',serif" font-size="19.6" fill="#151515" stroke="#151515" stroke-width="0.1">ALPHA_BETA_T_CELL_PROLIFERATION</text>
<text transform="translate(229.2,664.23) scale(0.811,1)" font-family="'Liberation Serif','Times New Roman',serif" font-size="19.6" fill="#151515" stroke="#151515" stroke-width="0.1">TOLL_LIKE_RECEPTOR_SIGNALING_PATHWAY</text>
<text transform="translate(229.2,682.35) scale(0.811,1)" font-family="'Liberation Serif','Times New Roman',serif" font-size="19.6" fill="#151515" stroke="#151515" stroke-width="0.1">CELLULAR_RESPONSE_TO_MECHANICAL_STIMULUS</text>
<text transform="translate(229.2,700.47) scale(0.811,1)" font-family="'Liberation Serif','Times New Roman',serif" font-size="19.6" fill="#151515" stroke="#151515" stroke-width="0.1">POSITIVE_REGULATION_OF_INTERLEUKIN_6_PRODUCTION</text>
<text transform="translate(229.2,718.59) scale(0.811,1)" font-family="'Liberation Serif','Times New Roman',serif" font-size="19.6" fill="#151515" stroke="#151515" stroke-width="0.1">INTERLEUKIN_6_PRODUCTION</text>
<text transform="translate(229.2,736.72) scale(0.811,1)" font-family="'Liberation Serif','Times New Roman',serif" font-size="19.6" fill="#151515" stroke="#151515" stroke-width="0.1">POSITIVE_REGULATION_OF_T_CELL_MEDIATED_IMMUNITY</text>
<text transform="translate(229.2,754.84) scale(0.811,1)" font-family="'Liberation Serif','Times New Roman',serif" font-size="19.6" fill="#151515" stroke="#151515" stroke-width="0.1">REGULATION_OF_T_CELL_MEDIATED_CYTOTOXICITY</text>
<text transform="translate(229.2,772.96) scale(0.811,1)" font-family="'Liberation Serif','Times New Roman',serif" font-size="19.6" fill="#151515" stroke="#151515" stroke-width="0.1">T_CELL_MEDIATED_CYTOTOXICITY</text>
<text transform="translate(229.2,791.08) scale(0.811,1)" font-family="'Liberation Serif','Times New Roman',serif" font-size="19.6" fill="#151515" stroke="#151515" stroke-width="0.1">REGULATION_OF_NATURAL_KILLER_CELL_MEDIATED_IMMUNITY</text>
<text transform="translate(229.2,809.2) scale(0.811,1)" font-family="'Liberation Serif','Times New Roman',serif" font-size="19.6" fill="#151515" stroke="#151515" stroke-width="0.1">POSITIVE_REGULATION_OF_CELL_KILLING</text>
<text transform="translate(229.2,827.32) scale(0.811,1)" font-family="'Liberation Serif','Times New Roman',serif" font-size="19.6" fill="#151515" stroke="#151515" stroke-width="0.1">REGULATION_OF_LEUKOCYTE_MEDIATED_CYTOTOXICITY</text>
<text transform="translate(229.2,845.44) scale(0.811,1)" font-family="'Liberation Serif','Times New Roman',serif" font-size="19.6" fill="#151515" stroke="#151515" stroke-width="0.1">NEGATIVE_REGULATION_OF_LEUKOCYTE_MEDIATED_IMMUNITY</text>
<text transform="translate(229.2,863.56) scale(0.811,1)" font-family="'Liberation Serif','Times New Roman',serif" font-size="19.6" fill="#151515" stroke="#151515" stroke-width="0.1">NEGATIVE_REGULATION_OF_IMMUNE_RESPONSE</text>
<text transform="translate(229.2,881.68) scale(0.811,1)" font-family="'Liberation Serif','Times New Roman',serif" font-size="19.6" fill="#151515" stroke="#151515" stroke-width="0.1">POSITIVE_REGULATION_OF_ADAPTIVE_IMMUNE_RESPONSE</text>
<text transform="translate(229.2,899.8) scale(0.811,1)" font-family="'Liberation Serif','Times New Roman',serif" font-size="19.6" fill="#151515" stroke="#151515" stroke-width="0.1">T_CELL_CYTOKINE_PRODUCTION</text>
<text transform="translate(229.2,917.92) scale(0.811,1)" font-family="'Liberation Serif','Times New Roman',serif" font-size="19.6" fill="#151515" stroke="#151515" stroke-width="0.1">T_CELL_MEDIATED_IMMUNITY</text>
<text transform="translate(229.2,936.04) scale(0.811,1)" font-family="'Liberation Serif','Times New Roman',serif" font-size="19.6" fill="#151515" stroke="#151515" stroke-width="0.1">REGULATION_OF_T_CELL_MEDIATED_IMMUNITY</text>
<rect x="725.1" y="32.4" width="10.3" height="174" fill="url(#cb)"/>
<text x="738.6" y="51.4" font-family="'Liberation Serif','Times New Roman',serif" font-size="13.5" fill="#222">3</text>
<text x="738.6" y="75.77" font-family="'Liberation Serif','Times New Roman',serif" font-size="13.5" fill="#222">2</text>
<text x="738.6" y="100.14" font-family="'Liberation Serif','Times New Roman',serif" font-size="13.5" fill="#222">1</text>
<text x="738.6" y="124.51" font-family="'Liberation Serif','Times New Roman',serif" font-size="13.5" fill="#222">0</text>
<text x="738.6" y="148.88" font-family="'Liberation Serif','Times New Roman',serif" font-size="13.5" fill="#222">−1</text>
<text x="738.6" y="173.25" font-family="'Liberation Serif','Times New Roman',serif" font-size="13.5" fill="#222">−2</text>
<text x="738.6" y="197.62" font-family="'Liberation Serif','Times New Roman',serif" font-size="13.5" fill="#222">−3</text>
<text x="754.6" y="42" font-family="'Liberation Serif','Times New Roman',serif" font-size="12" font-weight="bold" textLength="33" lengthAdjust="spacingAndGlyphs" fill="#111">Group</text>
<rect x="754.6" y="46.2" width="15.8" height="18.1" fill="#00d9e0"/>
<rect x="754.6" y="64.3" width="15.8" height="18.1" fill="#ff8c84"/>
<text x="773.5" y="59.5" font-family="'Liberation Serif','Times New Roman',serif" font-size="13.4" textLength="64" lengthAdjust="spacingAndGlyphs" fill="#222">HB subtype 1</text>
<text x="773.5" y="77.6" font-family="'Liberation Serif','Times New Roman',serif" font-size="13.4" textLength="64" lengthAdjust="spacingAndGlyphs" fill="#222">HB subtype 2</text>
<text transform="translate(1231.6,48.35) scale(0.8045,1)" text-anchor="end" font-family="'Liberation Sans',Arial,sans-serif" font-size="14.3" fill="#333" stroke="#333" stroke-width="0.35">REGULATION_OF_AUTOPHAGOSOME_ASSEMBLY</text>
<text transform="translate(1231.6,66.5) scale(0.8045,1)" text-anchor="end" font-family="'Liberation Sans',Arial,sans-serif" font-size="14.3" fill="#333" stroke="#333" stroke-width="0.35">LATE_ENDOSOME_TO_LYSOSOME_TRANSPORT</text>
<text transform="translate(1231.6,84.64) scale(0.8045,1)" text-anchor="end" font-family="'Liberation Sans',Arial,sans-serif" font-size="14.3" fill="#333" stroke="#333" stroke-width="0.35">NECROPTOTIC_SIGNALING_PATHWAY</text>
<text transform="translate(1231.6,102.79) scale(0.8045,1)" text-anchor="end" font-family="'Liberation Sans',Arial,sans-serif" font-size="14.3" fill="#333" stroke="#333" stroke-width="0.35">SYNAPTIC_VESICLE_LOCALIZATION</text>
<text transform="translate(1231.6,120.93) scale(0.8045,1)" text-anchor="end" font-family="'Liberation Sans',Arial,sans-serif" font-size="14.3" fill="#333" stroke="#333" stroke-width="0.35">CELLULAR_RESPONSE_TO_MECHANICAL_STIMULUS</text>
<text transform="translate(1231.6,139.08) scale(0.8045,1)" text-anchor="end" font-family="'Liberation Sans',Arial,sans-serif" font-size="14.3" fill="#333" stroke="#333" stroke-width="0.35">CELLULAR_RESPONSE_TO_MURAMYL_DIPEPTIDE</text>
<text transform="translate(1231.6,157.22) scale(0.8045,1)" text-anchor="end" font-family="'Liberation Sans',Arial,sans-serif" font-size="14.3" fill="#333" stroke="#333" stroke-width="0.35">RESPONSE_TO_INTERLEUKIN_6</text>
<text transform="translate(1231.6,175.37) scale(0.8045,1)" text-anchor="end" font-family="'Liberation Sans',Arial,sans-serif" font-size="14.3" fill="#333" stroke="#333" stroke-width="0.35">RESPONSE_TO_INTERLEUKIN_15</text>
<text transform="translate(1231.6,193.51) scale(0.8045,1)" text-anchor="end" font-family="'Liberation Sans',Arial,sans-serif" font-size="14.3" fill="#333" stroke="#333" stroke-width="0.35">RESPONSE_TO_INTERLEUKIN_2</text>
<text transform="translate(1231.6,211.66) scale(0.8045,1)" text-anchor="end" font-family="'Liberation Sans',Arial,sans-serif" font-size="14.3" fill="#333" stroke="#333" stroke-width="0.35">INTERLEUKIN_6_MEDIATED_SIGNALING_PATHWAY</text>
<text transform="translate(1231.6,229.8) scale(0.8045,1)" text-anchor="end" font-family="'Liberation Sans',Arial,sans-serif" font-size="14.3" fill="#333" stroke="#333" stroke-width="0.35">REGULATION_OF_RESPONSE_TO_INTERFERON_GAMMA</text>
<text transform="translate(1231.6,247.95) scale(0.8045,1)" text-anchor="end" font-family="'Liberation Sans',Arial,sans-serif" font-size="14.3" fill="#333" stroke="#333" stroke-width="0.35">NEGATIVE_REGULATION_OF_IMMUNE_RESPONSE</text>
<text transform="translate(1231.6,266.09) scale(0.8045,1)" text-anchor="end" font-family="'Liberation Sans',Arial,sans-serif" font-size="14.3" fill="#333" stroke="#333" stroke-width="0.35">ALPHA_BETA_T_CELL_PROLIFERATION</text>
<text transform="translate(1231.6,284.23) scale(0.8045,1)" text-anchor="end" font-family="'Liberation Sans',Arial,sans-serif" font-size="14.3" fill="#333" stroke="#333" stroke-width="0.35">MAST_CELL_ACTIVATION</text>
<text transform="translate(1231.6,302.38) scale(0.8045,1)" text-anchor="end" font-family="'Liberation Sans',Arial,sans-serif" font-size="14.3" fill="#333" stroke="#333" stroke-width="0.35">VIRAL_BUDDING_VIA_HOST_ESCRT_COMPLEX</text>
<text transform="translate(1231.6,320.52) scale(0.8045,1)" text-anchor="end" font-family="'Liberation Sans',Arial,sans-serif" font-size="14.3" fill="#333" stroke="#333" stroke-width="0.35">TRAIL_ACTIVATED_APOPTOTIC_SIGNALING_PATHWAY</text>
<text transform="translate(1231.6,338.67) scale(0.8045,1)" text-anchor="end" font-family="'Liberation Sans',Arial,sans-serif" font-size="14.3" fill="#333" stroke="#333" stroke-width="0.35">CD8_POSITIVE_ALPHA_BETA_T_CELL_ACTIVATION</text>
<text transform="translate(1231.6,356.81) scale(0.8045,1)" text-anchor="end" font-family="'Liberation Sans',Arial,sans-serif" font-size="14.3" fill="#333" stroke="#333" stroke-width="0.35">INTERLEUKIN_4_MEDIATED_SIGNALING_PATHWAY</text>
<text transform="translate(1231.6,374.96) scale(0.8045,1)" text-anchor="end" font-family="'Liberation Sans',Arial,sans-serif" font-size="14.3" fill="#333" stroke="#333" stroke-width="0.35">REGULATION_OF_LYSOSOMAL_LUMEN_PH</text>
<text transform="translate(1231.6,393.1) scale(0.8045,1)" text-anchor="end" font-family="'Liberation Sans',Arial,sans-serif" font-size="14.3" fill="#333" stroke="#333" stroke-width="0.35">RESPONSE_TO_INTERFERON_GAMMA</text>
<text transform="translate(1231.6,411.25) scale(0.8045,1)" text-anchor="end" font-family="'Liberation Sans',Arial,sans-serif" font-size="14.3" fill="#333" stroke="#333" stroke-width="0.35">TOLL_LIKE_RECEPTOR_2_SIGNALING_PATHWAY</text>
<text transform="translate(1231.6,429.39) scale(0.8045,1)" text-anchor="end" font-family="'Liberation Sans',Arial,sans-serif" font-size="14.3" fill="#333" stroke="#333" stroke-width="0.35">POSITIVE_REGULATION_OF_INTERLEUKIN_6_PRODUCTION</text>
<text transform="translate(1231.6,447.54) scale(0.8045,1)" text-anchor="end" font-family="'Liberation Sans',Arial,sans-serif" font-size="14.3" fill="#333" stroke="#333" stroke-width="0.35">INTERLEUKIN_6_PRODUCTION</text>
<text transform="translate(1231.6,465.68) scale(0.8045,1)" text-anchor="end" font-family="'Liberation Sans',Arial,sans-serif" font-size="14.3" fill="#333" stroke="#333" stroke-width="0.35">INTERFERON_ALPHA_PRODUCTION</text>
<text transform="translate(1231.6,483.83) scale(0.8045,1)" text-anchor="end" font-family="'Liberation Sans',Arial,sans-serif" font-size="14.3" fill="#333" stroke="#333" stroke-width="0.35">RESPONSE_TO_MURAMYL_DIPEPTIDE</text>
<text transform="translate(1231.6,501.97) scale(0.8045,1)" text-anchor="end" font-family="'Liberation Sans',Arial,sans-serif" font-size="14.3" fill="#333" stroke="#333" stroke-width="0.35">POSITIVE_REGULATION_OF_CELL_KILLING</text>
<text transform="translate(1231.6,520.12) scale(0.8045,1)" text-anchor="end" font-family="'Liberation Sans',Arial,sans-serif" font-size="14.3" fill="#333" stroke="#333" stroke-width="0.35">NATURAL_KILLER_CELL_ACTIVATION</text>
<text transform="translate(1231.6,538.26) scale(0.8045,1)" text-anchor="end" font-family="'Liberation Sans',Arial,sans-serif" font-size="14.3" fill="#333" stroke="#333" stroke-width="0.35">CORPUS_CALLOSUM_MORPHOGENESIS</text>
<text transform="translate(1231.6,556.41) scale(0.8045,1)" text-anchor="end" font-family="'Liberation Sans',Arial,sans-serif" font-size="14.3" fill="#333" stroke="#333" stroke-width="0.35">CYTOKINE_MEDIATED_SIGNALING_PATHWAY</text>
<text transform="translate(1231.6,574.56) scale(0.8045,1)" text-anchor="end" font-family="'Liberation Sans',Arial,sans-serif" font-size="14.3" fill="#333" stroke="#333" stroke-width="0.35">LYSOSOMAL_TRANSPORT</text>
<text transform="translate(1231.6,592.7) scale(0.8045,1)" text-anchor="end" font-family="'Liberation Sans',Arial,sans-serif" font-size="14.3" fill="#333" stroke="#333" stroke-width="0.35">ENDOSOME_ORGANIZATION</text>
<text transform="translate(1231.6,610.85) scale(0.8045,1)" text-anchor="end" font-family="'Liberation Sans',Arial,sans-serif" font-size="14.3" fill="#333" stroke="#333" stroke-width="0.35">REGULATION_OF_RESPONSE_TO_TUMOR_CELL</text>
<text transform="translate(1231.6,628.99) scale(0.8045,1)" text-anchor="end" font-family="'Liberation Sans',Arial,sans-serif" font-size="14.3" fill="#333" stroke="#333" stroke-width="0.35">POSITIVE_REGULATION_OF_ADAPTIVE_IMMUNE_RESPONSE</text>
<text transform="translate(1231.6,647.13) scale(0.8045,1)" text-anchor="end" font-family="'Liberation Sans',Arial,sans-serif" font-size="14.3" fill="#333" stroke="#333" stroke-width="0.35">REGULATION_OF_NATURAL_KILLER_CELL_MEDIATED_IMMUNITY</text>
<text transform="translate(1231.6,665.28) scale(0.8045,1)" text-anchor="end" font-family="'Liberation Sans',Arial,sans-serif" font-size="14.3" fill="#333" stroke="#333" stroke-width="0.35">POSITIVE_REGULATION_OF_T_CELL_MEDIATED_IMMUNITY</text>
<text transform="translate(1231.6,683.42) scale(0.8045,1)" text-anchor="end" font-family="'Liberation Sans',Arial,sans-serif" font-size="14.3" fill="#333" stroke="#333" stroke-width="0.35">REGULATION_OF_T_CELL_MEDIATED_IMMUNITY</text>
<text transform="translate(1231.6,701.57) scale(0.8045,1)" text-anchor="end" font-family="'Liberation Sans',Arial,sans-serif" font-size="14.3" fill="#333" stroke="#333" stroke-width="0.35">NEGATIVE_REGULATION_OF_LEUKOCYTE_MEDIATED_IMMUNITY</text>
<text transform="translate(1231.6,719.72) scale(0.8045,1)" text-anchor="end" font-family="'Liberation Sans',Arial,sans-serif" font-size="14.3" fill="#333" stroke="#333" stroke-width="0.35">POSITIVE_REGULATION_OF_ACUTE_INFLAMMATORY_RESPONSE</text>
<text transform="translate(1231.6,737.86) scale(0.8045,1)" text-anchor="end" font-family="'Liberation Sans',Arial,sans-serif" font-size="14.3" fill="#333" stroke="#333" stroke-width="0.35">T_CELL_MEDIATED_IMMUNITY</text>
<text transform="translate(1231.6,756) scale(0.8045,1)" text-anchor="end" font-family="'Liberation Sans',Arial,sans-serif" font-size="14.3" fill="#333" stroke="#333" stroke-width="0.35">DENDRITIC_CELL_CYTOKINE_PRODUCTION</text>
<text transform="translate(1231.6,774.15) scale(0.8045,1)" text-anchor="end" font-family="'Liberation Sans',Arial,sans-serif" font-size="14.3" fill="#333" stroke="#333" stroke-width="0.35">T_CELL_CYTOKINE_PRODUCTION</text>
<text transform="translate(1231.6,792.29) scale(0.8045,1)" text-anchor="end" font-family="'Liberation Sans',Arial,sans-serif" font-size="14.3" fill="#333" stroke="#333" stroke-width="0.35">TOLL_LIKE_RECEPTOR_SIGNALING_PATHWAY</text>
<text transform="translate(1231.6,810.44) scale(0.8045,1)" text-anchor="end" font-family="'Liberation Sans',Arial,sans-serif" font-size="14.3" fill="#333" stroke="#333" stroke-width="0.35">REGULATION_OF_T_CELL_MEDIATED_CYTOTOXICITY</text>
<text transform="translate(1231.6,828.59) scale(0.8045,1)" text-anchor="end" font-family="'Liberation Sans',Arial,sans-serif" font-size="14.3" fill="#333" stroke="#333" stroke-width="0.35">T_CELL_MEDIATED_CYTOTOXICITY</text>
<text transform="translate(1231.6,846.73) scale(0.8045,1)" text-anchor="end" font-family="'Liberation Sans',Arial,sans-serif" font-size="14.3" fill="#333" stroke="#333" stroke-width="0.35">REGULATION_OF_LEUKOCYTE_MEDIATED_CYTOTOXICITY</text>
<text transform="translate(1231.6,864.88) scale(0.8045,1)" text-anchor="end" font-family="'Liberation Sans',Arial,sans-serif" font-size="14.3" fill="#333" stroke="#333" stroke-width="0.35">NK_T_CELL_PROLIFERATION</text>
<text transform="translate(1231.6,883.02) scale(0.8045,1)" text-anchor="end" font-family="'Liberation Sans',Arial,sans-serif" font-size="14.3" fill="#333" stroke="#333" stroke-width="0.35">NATURAL_KILLER_CELL_PROLIFERATION</text>
<text transform="translate(1231.6,901.16) scale(0.8045,1)" text-anchor="end" font-family="'Liberation Sans',Arial,sans-serif" font-size="14.3" fill="#333" stroke="#333" stroke-width="0.35">NATURAL_KILLER_CELL_DIFFERENTIATION</text>
<text transform="translate(1231.6,919.31) scale(0.8045,1)" text-anchor="end" font-family="'Liberation Sans',Arial,sans-serif" font-size="14.3" fill="#333" stroke="#333" stroke-width="0.35">ACTIVATION_OF_MAPKK_ACTIVITY</text>
<path d="M1241.2 33V925.6H1663.3 M1236.2 43.7H1241.2M1236.2 61.84H1241.2M1236.2 79.99H1241.2M1236.2 98.14H1241.2M1236.2 116.28H1241.2M1236.2 134.43H1241.2M1236.2 152.57H1241.2M1236.2 170.72H1241.2M1236.2 188.86H1241.2M1236.2 207H1241.2M1236.2 225.15H1241.2M1236.2 243.3H1241.2M1236.2 261.44H1241.2M1236.2 279.58H1241.2M1236.2 297.73H1241.2M1236.2 315.88H1241.2M1236.2 334.02H1241.2M1236.2 352.16H1241.2M1236.2 370.31H1241.2M1236.2 388.45H1241.2M1236.2 406.6H1241.2M1236.2 424.75H1241.2M1236.2 442.89H1241.2M1236.2 461.03H1241.2M1236.2 479.18H1241.2M1236.2 497.32H1241.2M1236.2 515.47H1241.2M1236.2 533.62H1241.2M1236.2 551.76H1241.2M1236.2 569.91H1241.2M1236.2 588.05H1241.2M1236.2 606.2H1241.2M1236.2 624.34H1241.2M1236.2 642.49H1241.2M1236.2 660.63H1241.2M1236.2 678.77H1241.2M1236.2 696.92H1241.2M1236.2 715.07H1241.2M1236.2 733.21H1241.2M1236.2 751.36H1241.2M1236.2 769.5H1241.2M1236.2 787.64H1241.2M1236.2 805.79H1241.2M1236.2 823.94H1241.2M1236.2 842.08H1241.2M1236.2 860.23H1241.2M1236.2 878.37H1241.2M1236.2 896.51H1241.2M1236.2 914.66H1241.2" fill="none" stroke="#333" stroke-width="1.6"/>
<path d="M1290.1 925.6V930.3M1397.6 925.6V930.3M1504.4 925.6V930.3M1611.9 925.6V930.3" stroke="#333" stroke-width="1.4"/>
<text x="1290.2" y="948" text-anchor="middle" font-family="'Liberation Sans',Arial,sans-serif" font-size="12.8" textLength="18.6" lengthAdjust="spacingAndGlyphs" fill="#333">-0.2</text>
<text x="1398.5" y="948" text-anchor="middle" font-family="'Liberation Sans',Arial,sans-serif" font-size="12.8" textLength="17" lengthAdjust="spacingAndGlyphs" fill="#333">0.0</text>
<text x="1505.8" y="948" text-anchor="middle" font-family="'Liberation Sans',Arial,sans-serif" font-size="12.8" textLength="17" lengthAdjust="spacingAndGlyphs" fill="#333">0.2</text>
<text x="1613.3" y="948" text-anchor="middle" font-family="'Liberation Sans',Arial,sans-serif" font-size="12.8" textLength="17" lengthAdjust="spacingAndGlyphs" fill="#333">0.4</text>
<text x="1452.5" y="966.6" text-anchor="middle" font-family="'Liberation Sans',Arial,sans-serif" font-size="13.4" textLength="71.6" lengthAdjust="spacingAndGlyphs" fill="#333">GSVA score</text>
<path d="M1465.16 39.9H1535.44M1316.17 47.35H1538.67M1415.75 58.05H1603.73M1253.09 65.5H1588.33M1464.17 76.19H1596.77M1311.95 83.64H1580.14M1451.01 94.34H1517.56M1405.81 101.79H1492.48M1449.77 112.48H1518.06M1377.26 119.93H1499.43M1444.8 130.62H1578.15M1272.71 138.08H1561.02M1460.2 148.77H1511.1M1400.85 156.22H1502.41M1434.37 166.91H1571.45M1293.82 174.37H1559.77M1402.09 185.06H1559.77M1318.65 192.51H1536.18M1452.25 203.2H1529.23M1351.68 210.66H1515.08M1477.08 221.35H1569.46M1336.78 228.8H1577.16M1455.48 239.5H1504.4M1380.24 246.95H1503.65M1437.35 257.64H1530.97M1304 265.09H1533.7M1474.6 275.78H1523.52M1388.93 283.23H1501.17M1411.28 293.93H1575.17M1293.32 301.38H1533.45M1457.71 312.07H1570.95M1341.25 319.52H1545.87M1429.9 330.22H1515.57M1331.32 337.67H1513.09M1464.67 348.36H1624.83M1276.68 355.81H1621.61M1405.81 366.51H1573.93M1295.81 373.96H1515.57M1436.61 384.65H1534.69M1368.56 392.1H1522.53M1491.48 402.8H1596.77M1325.11 410.25H1585.85M1485.77 420.94H1530.47M1375.27 428.39H1526M1475.34 439.09H1519.3M1387.69 446.54H1520.54M1388.93 457.23H1545.87M1302.51 464.68H1515.08M1454.73 475.38H1559.53M1300.77 482.83H1544.13M1415 493.52H1487.51M1340.01 500.97H1498.19M1437.35 511.67H1486.27M1388.18 519.12H1477.08M1356.15 529.82H1542.14M1293.32 537.26H1502.41M1453.49 547.96H1484.53M1383.46 555.41H1491.98M1422.45 566.11H1505.64M1347.21 573.56H1506.88M1415 584.25H1529.23M1334.3 591.7H1512.34M1439.83 602.4H1517.31M1384.46 609.85H1485.77M1419.97 620.54H1482.79M1352.18 627.99H1478.32M1421.71 638.69H1517.31M1334.3 646.13H1521.78M1423.2 656.83H1500.18M1346.71 664.28H1470.38M1442.32 674.98H1495.71M1362.11 682.42H1498.19M1453.49 693.12H1520.04M1358.63 700.57H1521.28M1455.23 711.27H1524.26M1372.79 718.72H1508.62M1434.37 729.41H1491.48M1349.94 736.86H1494.96M1424.19 747.56H1550.34M1285.38 755H1531.71M1446.54 765.7H1513.83M1348.7 773.15H1510.11M1477.58 783.85H1524.26M1357.14 791.29H1513.09M1416.24 801.99H1488.26M1344.97 809.44H1477.83M1418.23 820.14H1490.24M1351.18 827.59H1498.93M1428.66 838.28H1503.16M1358.63 845.73H1496.2M1431.64 856.43H1541.65M1264.27 863.88H1522.28M1420.46 874.57H1534.94M1290.34 882.02H1525.51M1423.69 892.72H1490.24M1367.82 900.16H1470.38M1456.47 910.86H1518.06M1380.98 918.31H1519.3" stroke="#2b2b2b" stroke-width="1.5" fill="none"/>
<g fill="#ff0000" stroke="#1a1a1a" stroke-width="1.25"><rect x="1488.26" y="36.35" width="36.75" height="7.1"/><rect x="1503.9" y="54.49" width="60.59" height="7.1"/><rect x="1510.61" y="72.64" width="42.22" height="7.1"/><rect x="1466.4" y="90.79" width="28.56" height="7.1"/><rect x="1475.84" y="108.93" width="19.12" height="7.1"/><rect x="1488.26" y="127.08" width="47.68" height="7.1"/><rect x="1476.34" y="145.22" width="16.14" height="7.1"/><rect x="1493.72" y="163.37" width="47.93" height="7.1"/><rect x="1462.93" y="181.51" width="51.4" height="7.1"/><rect x="1483.79" y="199.66" width="22.35" height="7.1"/><rect x="1496.2" y="217.8" width="36.26" height="7.1"/><rect x="1475.84" y="235.95" width="20.36" height="7.1"/><rect x="1474.6" y="254.09" width="31.54" height="7.1"/><rect x="1493.22" y="272.23" width="13.66" height="7.1"/><rect x="1469.63" y="290.38" width="60.84" height="7.1"/><rect x="1505.64" y="308.52" width="31.79" height="7.1"/><rect x="1462.18" y="326.67" width="33.03" height="7.1"/><rect x="1523.77" y="344.81" width="63.82" height="7.1"/><rect x="1470.13" y="362.96" width="44.7" height="7.1"/><rect x="1469.14" y="381.1" width="42.71" height="7.1"/><rect x="1541.15" y="399.25" width="33.52" height="7.1"/><rect x="1502.41" y="417.39" width="13.16" height="7.1"/><rect x="1493.72" y="435.54" width="15.15" height="7.1"/><rect x="1455.97" y="453.68" width="45.44" height="7.1"/><rect x="1496.2" y="471.83" width="37.25" height="7.1"/><rect x="1448.52" y="489.97" width="24.83" height="7.1"/><rect x="1450.26" y="508.12" width="16.14" height="7.1"/><rect x="1415.5" y="526.26" width="74.75" height="7.1"/><rect x="1463.42" y="544.41" width="12.42" height="7.1"/><rect x="1457.71" y="562.56" width="30.54" height="7.1"/><rect x="1465.91" y="580.7" width="38.49" height="7.1"/><rect x="1467.15" y="598.85" width="26.82" height="7.1"/><rect x="1441.57" y="616.99" width="16.89" height="7.1"/><rect x="1468.89" y="635.13" width="33.52" height="7.1"/><rect x="1452.75" y="653.28" width="23.59" height="7.1"/><rect x="1458.95" y="671.42" width="18.13" height="7.1"/><rect x="1481.3" y="689.57" width="20.61" height="7.1"/><rect x="1485.28" y="707.72" width="22.35" height="7.1"/><rect x="1456.72" y="725.86" width="16.14" height="7.1"/><rect x="1464.67" y="744" width="46.68" height="7.1"/><rect x="1470.38" y="762.15" width="20.36" height="7.1"/><rect x="1491.98" y="780.29" width="19.37" height="7.1"/><rect x="1442.81" y="798.44" width="22.6" height="7.1"/><rect x="1449.77" y="816.59" width="26.57" height="7.1"/><rect x="1459.7" y="834.73" width="24.34" height="7.1"/><rect x="1470.38" y="852.88" width="32.78" height="7.1"/><rect x="1459.7" y="871.02" width="42.96" height="7.1"/><rect x="1441.82" y="889.16" width="32.78" height="7.1"/><rect x="1481.3" y="907.31" width="20.11" height="7.1"/></g>
<g fill="#0a52a6" stroke="#1a1a1a" stroke-width="1.25"><rect x="1413.76" y="43.95" width="71.27" height="7.1"/><rect x="1350.93" y="62.09" width="134.09" height="7.1"/><rect x="1416.24" y="80.24" width="78.22" height="7.1"/><rect x="1439.09" y="98.39" width="29.8" height="7.1"/><rect x="1425.68" y="116.53" width="40.97" height="7.1"/><rect x="1364.34" y="134.68" width="109.01" height="7.1"/><rect x="1438.59" y="152.82" width="34.02" height="7.1"/><rect x="1374.03" y="170.97" width="114.23" height="7.1"/><rect x="1378.99" y="189.11" width="78.72" height="7.1"/><rect x="1421.21" y="207.25" width="51.65" height="7.1"/><rect x="1413.76" y="225.4" width="76.24" height="7.1"/><rect x="1431.64" y="243.55" width="38.74" height="7.1"/><rect x="1373.53" y="261.69" width="74.99" height="7.1"/><rect x="1442.32" y="279.83" width="37.75" height="7.1"/><rect x="1362.11" y="297.98" width="119.94" height="7.1"/><rect x="1420.71" y="316.12" width="65.06" height="7.1"/><rect x="1393.4" y="334.27" width="57.61" height="7.1"/><rect x="1405.56" y="352.41" width="109.26" height="7.1"/><rect x="1379.74" y="370.56" width="76.98" height="7.1"/><rect x="1412.52" y="388.7" width="52.89" height="7.1"/><rect x="1441.08" y="406.85" width="83.19" height="7.1"/><rect x="1439.83" y="425" width="45.44" height="7.1"/><rect x="1443.06" y="443.14" width="40.23" height="7.1"/><rect x="1360.37" y="461.28" width="84.43" height="7.1"/><rect x="1408.05" y="479.43" width="80.21" height="7.1"/><rect x="1379.74" y="497.57" width="50.66" height="7.1"/><rect x="1412.52" y="515.72" width="31.79" height="7.1"/><rect x="1337.28" y="533.87" width="68.29" height="7.1"/><rect x="1422.45" y="552.01" width="32.78" height="7.1"/><rect x="1396.87" y="570.16" width="57.11" height="7.1"/><rect x="1380.73" y="588.3" width="76.98" height="7.1"/><rect x="1424.44" y="606.45" width="33.28" height="7.1"/><rect x="1390.17" y="624.59" width="38.49" height="7.1"/><rect x="1395.14" y="642.74" width="58.36" height="7.1"/><rect x="1384.46" y="660.88" width="44.7" height="7.1"/><rect x="1400.1" y="679.02" width="45.19" height="7.1"/><rect x="1412.02" y="697.17" width="58.36" height="7.1"/><rect x="1435.61" y="715.32" width="44.45" height="7.1"/><rect x="1400.1" y="733.46" width="43.95" height="7.1"/><rect x="1353.67" y="751.61" width="101.81" height="7.1"/><rect x="1412.02" y="769.75" width="42.71" height="7.1"/><rect x="1423.2" y="787.89" width="51.4" height="7.1"/><rect x="1378.5" y="806.04" width="44.7" height="7.1"/><rect x="1377.75" y="824.19" width="56.37" height="7.1"/><rect x="1400.1" y="842.33" width="46.44" height="7.1"/><rect x="1383.96" y="860.48" width="80.71" height="7.1"/><rect x="1370.8" y="878.62" width="78.97" height="7.1"/><rect x="1406.31" y="896.76" width="31.04" height="7.1"/><rect x="1421.95" y="914.91" width="48.42" height="7.1"/></g>
<path d="M1504.4 36.35v7.1M1443.56 43.95v7.1M1540.4 54.49v7.1M1431.64 62.09v7.1M1542.89 72.64v7.1M1460.44 80.24v7.1M1480.81 90.79v7.1M1454.73 98.39v7.1M1487.02 108.93v7.1M1449.27 116.53v7.1M1521.28 127.08v7.1M1431.14 134.68v7.1M1486.27 145.22v7.1M1459.7 152.82v7.1M1518.55 163.37v7.1M1447.78 170.97v7.1M1500.67 181.51v7.1M1417.48 189.11v7.1M1495.71 199.66v7.1M1454.24 207.25v7.1M1514.33 217.8v7.1M1457.96 225.4v7.1M1488.26 235.95v7.1M1451.75 243.55v7.1M1490.24 254.09v7.1M1411.77 261.69v7.1M1501.42 272.23v7.1M1461.69 279.83v7.1M1503.9 290.38v7.1M1416.24 297.98v7.1M1523.02 308.52v7.1M1454.24 316.12v7.1M1481.55 326.67v7.1M1416.24 334.27v7.1M1565.73 344.81v7.1M1458.46 352.41v7.1M1496.45 362.96v7.1M1425.43 370.56v7.1M1483.29 381.1v7.1M1439.83 388.7v7.1M1561.02 399.25v7.1M1483.29 406.85v7.1M1508.12 417.39v7.1M1466.4 425v7.1M1503.65 435.54v7.1M1467.15 443.14v7.1M1487.02 453.68v7.1M1401.34 461.28v7.1M1512.34 471.83v7.1M1447.28 479.43v7.1M1462.18 489.97v7.1M1406.31 497.57v7.1M1463.42 508.12v7.1M1426.67 515.72v7.1M1448.52 526.26v7.1M1373.53 533.87v7.1M1471.62 544.41v7.1M1445.55 552.01v7.1M1475.34 562.56v7.1M1433.63 570.16v7.1M1485.03 580.7v7.1M1424.93 588.3v7.1M1481.3 598.85v7.1M1442.32 606.45v7.1M1450.26 616.99v7.1M1410.78 624.59v7.1M1480.81 635.13v7.1M1419.22 642.74v7.1M1464.67 653.28v7.1M1405.07 660.88v7.1M1469.14 671.42v7.1M1417.48 679.02v7.1M1491.98 689.57v7.1M1446.04 697.17v7.1M1496.95 707.72v7.1M1457.22 715.32v7.1M1463.42 725.86v7.1M1422.95 733.46v7.1M1490.74 744v7.1M1396.87 751.61v7.1M1480.31 762.15v7.1M1435.36 769.75v7.1M1501.42 780.29v7.1M1454.24 787.89v7.1M1454.73 798.44v7.1M1391.41 806.04v7.1M1467.15 816.59v7.1M1401.34 824.19v7.1M1477.08 834.73v7.1M1418.73 842.33v7.1M1482.79 852.88v7.1M1421.95 860.48v7.1M1486.27 871.02v7.1M1406.31 878.62v7.1M1452.99 889.16v7.1M1420.46 896.76v7.1M1489.5 907.31v7.1M1445.55 914.91v7.1" stroke="#000" stroke-width="2" fill="none"/>
<g fill="#bbb" stroke="#999" stroke-width="0.5"><circle cx="1424.93" cy="39.9" r="1.1"/><circle cx="1442.32" cy="76.19" r="1.1"/><circle cx="1293.32" cy="83.64" r="1.1"/><circle cx="1356.65" cy="130.62" r="1.1"/><circle cx="1517.56" cy="148.77" r="1.1"/><circle cx="1338.02" cy="210.66" r="1.1"/><circle cx="1424.93" cy="221.35" r="1.1"/><circle cx="1386.44" cy="257.64" r="1.1"/><circle cx="1470.38" cy="275.78" r="1.1"/><circle cx="1360.37" cy="366.51" r="1.1"/><circle cx="1395.14" cy="366.51" r="1.1"/><circle cx="1254.83" cy="410.25" r="1.1"/><circle cx="1307.48" cy="410.25" r="1.1"/><circle cx="1465.91" cy="420.94" r="1.1"/><circle cx="1475.84" cy="420.94" r="1.1"/><circle cx="1365.34" cy="428.39" r="1.1"/><circle cx="1370.3" cy="428.39" r="1.1"/><circle cx="1378.99" cy="446.54" r="1.1"/><circle cx="1431.14" cy="475.38" r="1.1"/><circle cx="1496.95" cy="511.67" r="1.1"/><circle cx="1438.59" cy="547.96" r="1.1"/><circle cx="1444.06" cy="547.96" r="1.1"/><circle cx="1420.46" cy="602.4" r="1.1"/><circle cx="1358.63" cy="609.85" r="1.1"/><circle cx="1508.62" cy="609.85" r="1.1"/><circle cx="1530.97" cy="609.85" r="1.1"/><circle cx="1396.87" cy="620.54" r="1.1"/><circle cx="1413.01" cy="620.54" r="1.1"/><circle cx="1412.02" cy="656.83" r="1.1"/><circle cx="1503.16" cy="664.28" r="1.1"/><circle cx="1426.18" cy="674.98" r="1.1"/><circle cx="1430.65" cy="693.12" r="1.1"/><circle cx="1440.58" cy="693.12" r="1.1"/><circle cx="1448.52" cy="693.12" r="1.1"/><circle cx="1544.13" cy="711.27" r="1.1"/><circle cx="1420.46" cy="729.41" r="1.1"/><circle cx="1582.62" cy="747.56" r="1.1"/><circle cx="1364.59" cy="747.56" r="1.1"/><circle cx="1432.38" cy="765.7" r="1.1"/><circle cx="1452.75" cy="783.85" r="1.1"/><circle cx="1460.44" cy="783.85" r="1.1"/><circle cx="1392.65" cy="801.99" r="1.1"/><circle cx="1407.55" cy="801.99" r="1.1"/><circle cx="1495.21" cy="809.44" r="1.1"/><circle cx="1398.86" cy="820.14" r="1.1"/><circle cx="1554.06" cy="856.43" r="1.1"/><circle cx="1566.48" cy="856.43" r="1.1"/><circle cx="1385.2" cy="856.43" r="1.1"/><circle cx="1403.33" cy="856.43" r="1.1"/><circle cx="1361.61" cy="874.57" r="1.1"/><circle cx="1357.89" cy="900.16" r="1.1"/><circle cx="1483.79" cy="900.16" r="1.1"/></g>
<path d="M1544.13 40.2H1550.53V47.3H1544.13M1609.94 58.34H1616.34V65.44H1609.94M1602.49 76.49H1608.89V83.59H1602.49M1523.52 94.64H1529.92V101.73H1523.52M1523.52 112.78H1529.92V119.88H1523.52M1583.86 130.93H1590.26V138.03H1583.86M1523.02 149.07H1529.42V156.17H1523.02M1576.41 167.22H1582.81V174.31H1576.41M1565.24 185.36H1571.64V192.46H1565.24M1534.94 203.5H1541.34V210.6H1534.94M1582.62 221.65H1589.02V228.75H1582.62M1510.11 239.8H1516.51V246.9H1510.11M1539.91 257.94H1546.31V265.04H1539.91M1529.23 276.08H1535.63V283.19H1529.23M1581.38 294.23H1587.78V301.33H1581.38M1576.41 312.38H1582.81V319.48H1576.41M1521.28 330.52H1527.68V337.62H1521.28M1630.3 348.66H1636.7V355.76H1630.3M1578.89 366.81H1585.29V373.91H1578.89M1539.91 384.95H1546.31V392.06H1539.91M1602.49 403.1H1608.89V410.2H1602.49M1535.93 421.25H1542.33V428.35H1535.93M1526.75 439.39H1533.15V446.49H1526.75M1552.08 457.53H1558.48V464.63H1552.08M1565.24 475.68H1571.64V482.78H1565.24M1503.9 493.82H1510.3V500.93H1503.9M1502.41 511.97H1508.81V519.07H1502.41M1547.85 530.12H1554.25V537.22H1547.85M1497.69 548.26H1504.09V555.36H1497.69M1512.59 566.41H1518.99V573.51H1512.59M1534.69 584.55H1541.09V591.65H1534.69M1536.68 602.7H1543.08V609.8H1536.68M1488.26 620.84H1494.66V627.94H1488.26M1527.24 638.99H1533.64V646.09H1527.24M1509.36 657.13H1515.76V664.23H1509.36M1503.9 675.27H1510.3V682.38H1503.9M1526.75 693.42H1533.15V700.52H1526.75M1549.1 711.57H1555.5V718.67H1549.1M1500.67 729.71H1507.07V736.81H1500.67M1588.33 747.86H1594.73V754.96H1588.33M1519.3 766H1525.7V773.1H1519.3M1529.98 784.14H1536.38V791.25H1529.98M1500.18 802.29H1506.58V809.39H1500.18M1504.4 820.44H1510.8V827.54H1504.4M1508.87 838.58H1515.27V845.68H1508.87M1571.45 856.73H1577.85V863.83H1571.45M1540.4 874.87H1546.8V881.97H1540.4M1495.71 893.01H1502.11V900.12H1495.71M1525.01 911.16H1531.41V918.26H1525.01" stroke="#333" stroke-width="1.6" fill="none"/>
<text transform="translate(1549.68,44.6) rotate(90)" text-anchor="middle" font-family="'Liberation Sans',Arial,sans-serif" font-size="10" font-weight="bold" fill="#222" letter-spacing="1.4">***</text>
<text transform="translate(1615.49,62.74) rotate(90)" text-anchor="middle" font-family="'Liberation Sans',Arial,sans-serif" font-size="10" font-weight="bold" fill="#222" letter-spacing="1.4">***</text>
<text transform="translate(1608.04,80.89) rotate(90)" text-anchor="middle" font-family="'Liberation Sans',Arial,sans-serif" font-size="10" font-weight="bold" fill="#222" letter-spacing="1.4">***</text>
<text transform="translate(1529.07,99.04) rotate(90)" text-anchor="middle" font-family="'Liberation Sans',Arial,sans-serif" font-size="10" font-weight="bold" fill="#222" letter-spacing="1.4">***</text>
<text transform="translate(1529.07,117.18) rotate(90)" text-anchor="middle" font-family="'Liberation Sans',Arial,sans-serif" font-size="10" font-weight="bold" fill="#222" letter-spacing="1.4">***</text>
<text transform="translate(1589.41,135.33) rotate(90)" text-anchor="middle" font-family="'Liberation Sans',Arial,sans-serif" font-size="10" font-weight="bold" fill="#222" letter-spacing="1.4">***</text>
<text transform="translate(1528.57,153.47) rotate(90)" text-anchor="middle" font-family="'Liberation Sans',Arial,sans-serif" font-size="10" font-weight="bold" fill="#222" letter-spacing="1.4">***</text>
<text transform="translate(1581.96,171.62) rotate(90)" text-anchor="middle" font-family="'Liberation Sans',Arial,sans-serif" font-size="10" font-weight="bold" fill="#222" letter-spacing="1.4">***</text>
<text transform="translate(1570.79,189.76) rotate(90)" text-anchor="middle" font-family="'Liberation Sans',Arial,sans-serif" font-size="10" font-weight="bold" fill="#222" letter-spacing="1.4">***</text>
<text transform="translate(1540.49,207.91) rotate(90)" text-anchor="middle" font-family="'Liberation Sans',Arial,sans-serif" font-size="10" font-weight="bold" fill="#222" letter-spacing="1.4">***</text>
<text transform="translate(1588.17,226.05) rotate(90)" text-anchor="middle" font-family="'Liberation Sans',Arial,sans-serif" font-size="10" font-weight="bold" fill="#222" letter-spacing="1.4">***</text>
<text transform="translate(1515.66,244.2) rotate(90)" text-anchor="middle" font-family="'Liberation Sans',Arial,sans-serif" font-size="10" font-weight="bold" fill="#222" letter-spacing="1.4">***</text>
<text transform="translate(1545.46,262.34) rotate(90)" text-anchor="middle" font-family="'Liberation Sans',Arial,sans-serif" font-size="10" font-weight="bold" fill="#222" letter-spacing="1.4">***</text>
<text transform="translate(1534.78,280.48) rotate(90)" text-anchor="middle" font-family="'Liberation Sans',Arial,sans-serif" font-size="10" font-weight="bold" fill="#222" letter-spacing="1.4">***</text>
<text transform="translate(1586.93,298.63) rotate(90)" text-anchor="middle" font-family="'Liberation Sans',Arial,sans-serif" font-size="10" font-weight="bold" fill="#222" letter-spacing="1.4">***</text>
<text transform="translate(1581.96,316.77) rotate(90)" text-anchor="middle" font-family="'Liberation Sans',Arial,sans-serif" font-size="10" font-weight="bold" fill="#222" letter-spacing="1.4">***</text>
<text transform="translate(1526.83,334.92) rotate(90)" text-anchor="middle" font-family="'Liberation Sans',Arial,sans-serif" font-size="10" font-weight="bold" fill="#222" letter-spacing="1.4">***</text>
<text transform="translate(1635.85,353.06) rotate(90)" text-anchor="middle" font-family="'Liberation Sans',Arial,sans-serif" font-size="10" font-weight="bold" fill="#222" letter-spacing="1.4">***</text>
<text transform="translate(1584.44,371.21) rotate(90)" text-anchor="middle" font-family="'Liberation Sans',Arial,sans-serif" font-size="10" font-weight="bold" fill="#222" letter-spacing="1.4">***</text>
<text transform="translate(1545.46,389.35) rotate(90)" text-anchor="middle" font-family="'Liberation Sans',Arial,sans-serif" font-size="10" font-weight="bold" fill="#222" letter-spacing="1.4">***</text>
<text transform="translate(1608.04,407.5) rotate(90)" text-anchor="middle" font-family="'Liberation Sans',Arial,sans-serif" font-size="10" font-weight="bold" fill="#222" letter-spacing="1.4">***</text>
<text transform="translate(1541.48,425.64) rotate(90)" text-anchor="middle" font-family="'Liberation Sans',Arial,sans-serif" font-size="10" font-weight="bold" fill="#222" letter-spacing="1.4">***</text>
<text transform="translate(1532.3,443.79) rotate(90)" text-anchor="middle" font-family="'Liberation Sans',Arial,sans-serif" font-size="10" font-weight="bold" fill="#222" letter-spacing="1.4">***</text>
<text transform="translate(1557.63,461.93) rotate(90)" text-anchor="middle" font-family="'Liberation Sans',Arial,sans-serif" font-size="10" font-weight="bold" fill="#222" letter-spacing="1.4">***</text>
<text transform="translate(1570.79,480.08) rotate(90)" text-anchor="middle" font-family="'Liberation Sans',Arial,sans-serif" font-size="10" font-weight="bold" fill="#222" letter-spacing="1.4">***</text>
<text transform="translate(1509.45,498.22) rotate(90)" text-anchor="middle" font-family="'Liberation Sans',Arial,sans-serif" font-size="10" font-weight="bold" fill="#222" letter-spacing="1.4">***</text>
<text transform="translate(1507.96,516.37) rotate(90)" text-anchor="middle" font-family="'Liberation Sans',Arial,sans-serif" font-size="10" font-weight="bold" fill="#222" letter-spacing="1.4">***</text>
<text transform="translate(1553.4,534.51) rotate(90)" text-anchor="middle" font-family="'Liberation Sans',Arial,sans-serif" font-size="10" font-weight="bold" fill="#222" letter-spacing="1.4">***</text>
<text transform="translate(1503.24,552.66) rotate(90)" text-anchor="middle" font-family="'Liberation Sans',Arial,sans-serif" font-size="10" font-weight="bold" fill="#222" letter-spacing="1.4">***</text>
<text transform="translate(1518.14,570.81) rotate(90)" text-anchor="middle" font-family="'Liberation Sans',Arial,sans-serif" font-size="10" font-weight="bold" fill="#222" letter-spacing="1.4">***</text>
<text transform="translate(1540.24,588.95) rotate(90)" text-anchor="middle" font-family="'Liberation Sans',Arial,sans-serif" font-size="10" font-weight="bold" fill="#222" letter-spacing="1.4">***</text>
<text transform="translate(1542.23,607.1) rotate(90)" text-anchor="middle" font-family="'Liberation Sans',Arial,sans-serif" font-size="10" font-weight="bold" fill="#222" letter-spacing="1.4">***</text>
<text transform="translate(1493.81,625.24) rotate(90)" text-anchor="middle" font-family="'Liberation Sans',Arial,sans-serif" font-size="10" font-weight="bold" fill="#222" letter-spacing="1.4">***</text>
<text transform="translate(1532.79,643.38) rotate(90)" text-anchor="middle" font-family="'Liberation Sans',Arial,sans-serif" font-size="10" font-weight="bold" fill="#222" letter-spacing="1.4">***</text>
<text transform="translate(1514.91,661.53) rotate(90)" text-anchor="middle" font-family="'Liberation Sans',Arial,sans-serif" font-size="10" font-weight="bold" fill="#222" letter-spacing="1.4">***</text>
<text transform="translate(1509.45,679.67) rotate(90)" text-anchor="middle" font-family="'Liberation Sans',Arial,sans-serif" font-size="10" font-weight="bold" fill="#222" letter-spacing="1.4">***</text>
<text transform="translate(1532.3,697.82) rotate(90)" text-anchor="middle" font-family="'Liberation Sans',Arial,sans-serif" font-size="10" font-weight="bold" fill="#222" letter-spacing="1.4">***</text>
<text transform="translate(1554.65,715.97) rotate(90)" text-anchor="middle" font-family="'Liberation Sans',Arial,sans-serif" font-size="10" font-weight="bold" fill="#222" letter-spacing="1.4">***</text>
<text transform="translate(1506.22,734.11) rotate(90)" text-anchor="middle" font-family="'Liberation Sans',Arial,sans-serif" font-size="10" font-weight="bold" fill="#222" letter-spacing="1.4">***</text>
<text transform="translate(1593.88,752.25) rotate(90)" text-anchor="middle" font-family="'Liberation Sans',Arial,sans-serif" font-size="10" font-weight="bold" fill="#222" letter-spacing="1.4">***</text>
<text transform="translate(1524.85,770.4) rotate(90)" text-anchor="middle" font-family="'Liberation Sans',Arial,sans-serif" font-size="10" font-weight="bold" fill="#222" letter-spacing="1.4">***</text>
<text transform="translate(1535.53,788.54) rotate(90)" text-anchor="middle" font-family="'Liberation Sans',Arial,sans-serif" font-size="10" font-weight="bold" fill="#222" letter-spacing="1.4">***</text>
<text transform="translate(1505.73,806.69) rotate(90)" text-anchor="middle" font-family="'Liberation Sans',Arial,sans-serif" font-size="10" font-weight="bold" fill="#222" letter-spacing="1.4">***</text>
<text transform="translate(1509.95,824.84) rotate(90)" text-anchor="middle" font-family="'Liberation Sans',Arial,sans-serif" font-size="10" font-weight="bold" fill="#222" letter-spacing="1.4">***</text>
<text transform="translate(1514.42,842.98) rotate(90)" text-anchor="middle" font-family="'Liberation Sans',Arial,sans-serif" font-size="10" font-weight="bold" fill="#222" letter-spacing="1.4">***</text>
<text transform="translate(1577,861.12) rotate(90)" text-anchor="middle" font-family="'Liberation Sans',Arial,sans-serif" font-size="10" font-weight="bold" fill="#222" letter-spacing="1.4">***</text>
<text transform="translate(1545.95,879.27) rotate(90)" text-anchor="middle" font-family="'Liberation Sans',Arial,sans-serif" font-size="10" font-weight="bold" fill="#222" letter-spacing="1.4">***</text>
<text transform="translate(1501.26,897.41) rotate(90)" text-anchor="middle" font-family="'Liberation Sans',Arial,sans-serif" font-size="10" font-weight="bold" fill="#222" letter-spacing="1.4">***</text>
<text transform="translate(1530.56,915.56) rotate(90)" text-anchor="middle" font-family="'Liberation Sans',Arial,sans-serif" font-size="10" font-weight="bold" fill="#222" letter-spacing="1.4">***</text>
<path d="M1675.8 467.9V480M1675.8 483.8V496" stroke="#222" stroke-width="1.2"/>
<rect x="1670.4" y="469.6" width="11" height="8.7" fill="#0a52a6" stroke="#111" stroke-width="1.1"/>
<rect x="1670.4" y="485.8" width="11" height="8.7" fill="#ff0000" stroke="#111" stroke-width="1.1"/>
<path d="M1670.4 474H1681.4M1670.4 490.1H1681.4" stroke="#000" stroke-width="1.6"/>
<text x="1688.2" y="478.6" font-family="'Liberation Sans',Arial,sans-serif" font-size="12" textLength="78.8" lengthAdjust="spacingAndGlyphs" fill="#333">α-HB subtype 1</text>
<text x="1688.2" y="494.8" font-family="'Liberation Sans',Arial,sans-serif" font-size="12" textLength="78.8" lengthAdjust="spacingAndGlyphs" fill="#333">α-HB subtype 2</text>
</svg>
</body></html>
